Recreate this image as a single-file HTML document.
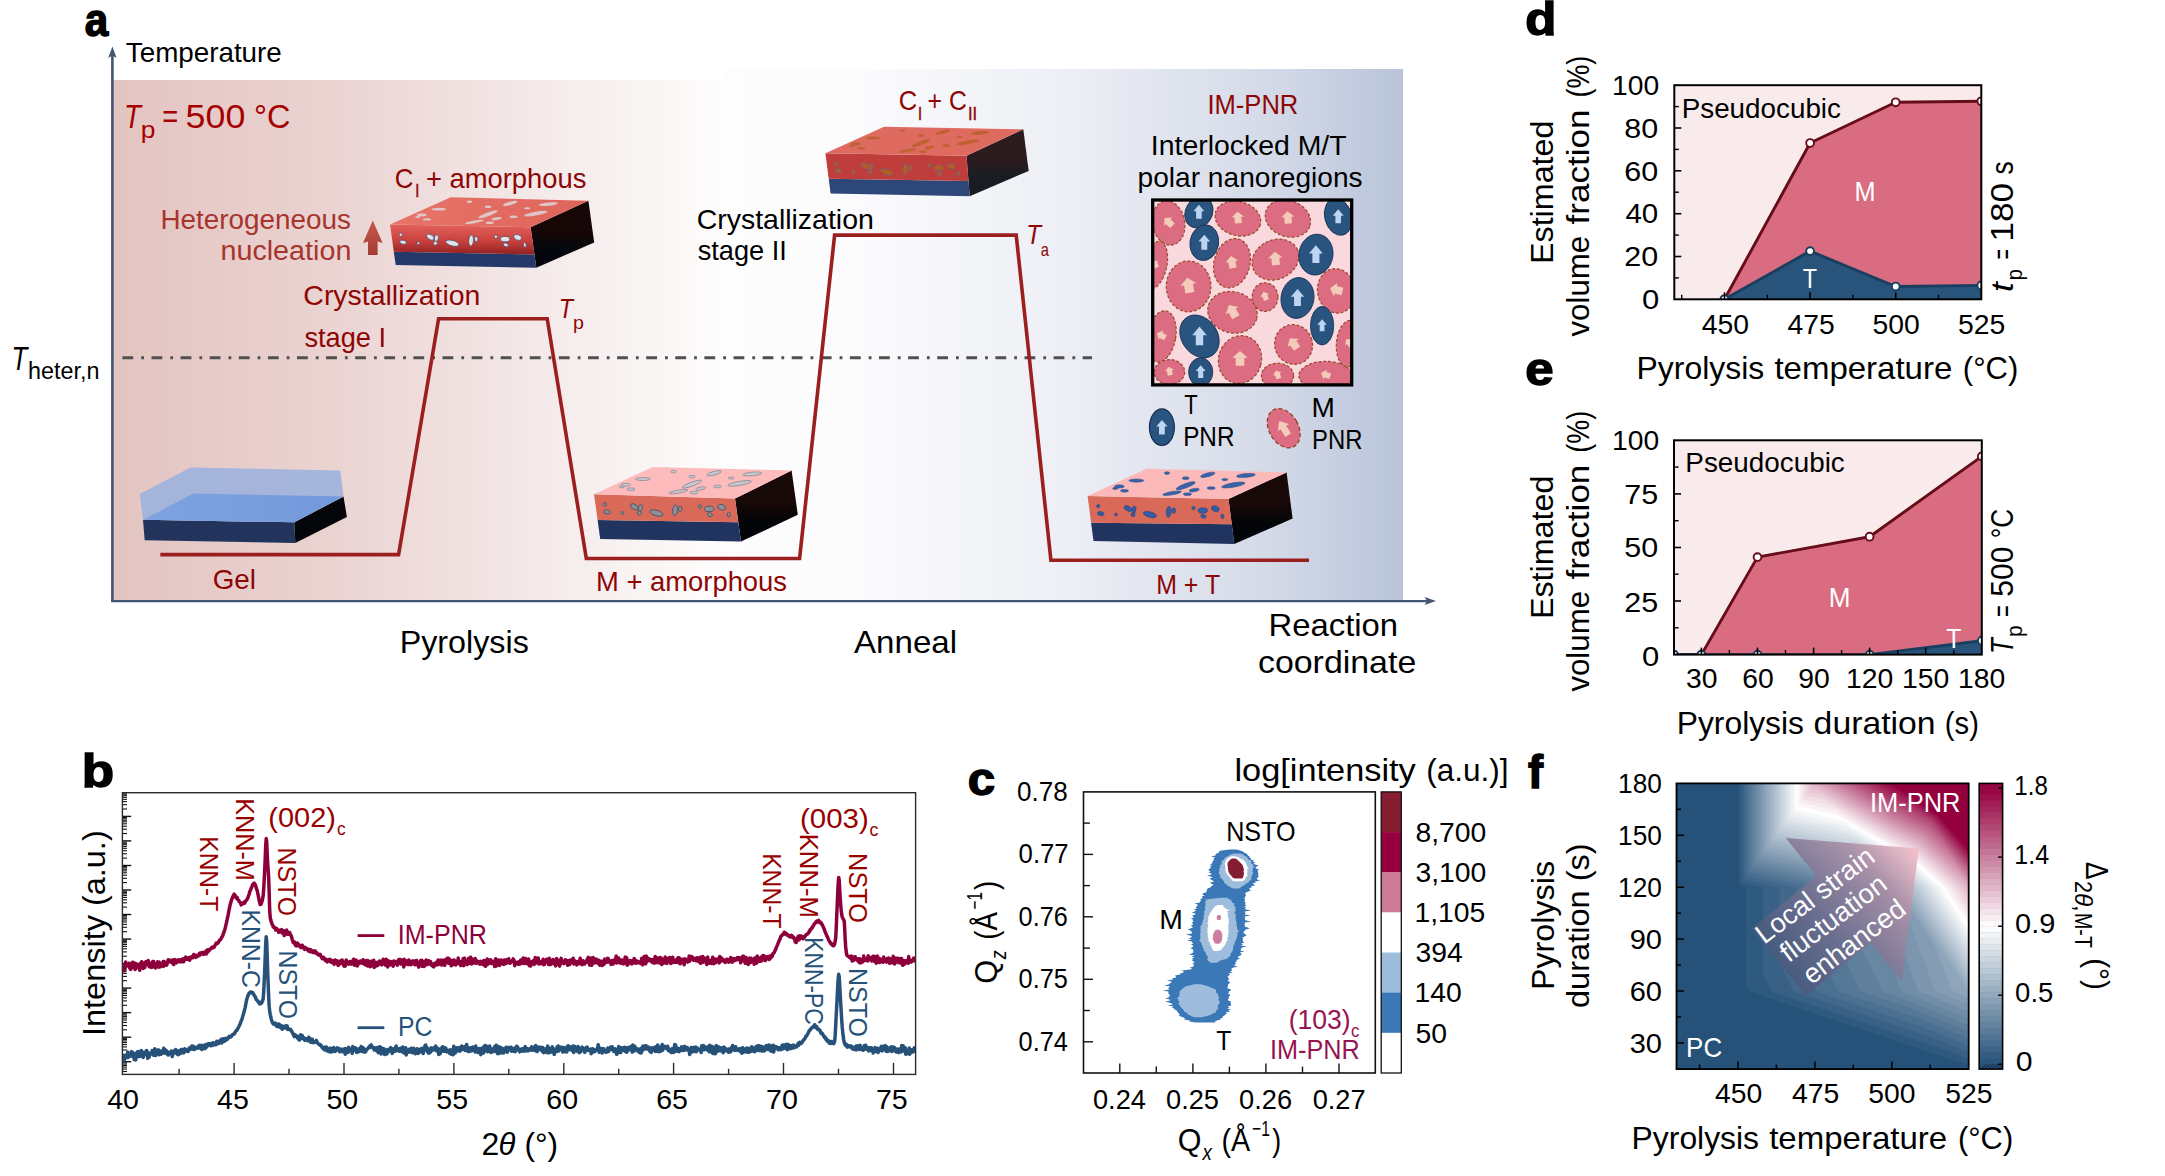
<!DOCTYPE html>
<html lang="en"><head><meta charset="utf-8"><title>Figure</title>
<style>html,body{margin:0;padding:0;background:#fff}svg{display:block}text{font-family:'Liberation Sans', sans-serif}</style></head>
<body>
<svg width="2165" height="1176" viewBox="0 0 2165 1176">
<defs>
<linearGradient id="bgL" x1="0" x2="1" y1="0" y2="0"><stop offset="0" stop-color="#e3c4c1"/><stop offset="0.35" stop-color="#ead3d1"/><stop offset="0.75" stop-color="#f6eded"/><stop offset="1" stop-color="#fefdfd"/></linearGradient>
<linearGradient id="bgR" x1="0" x2="1" y1="0" y2="0"><stop offset="0" stop-color="#fefdfd"/><stop offset="0.2" stop-color="#fbfbfd"/><stop offset="0.5" stop-color="#edeff5"/><stop offset="0.8" stop-color="#d4dae8"/><stop offset="1" stop-color="#b9c4da"/></linearGradient>
<linearGradient id="gelTop" x1="0" x2="1" y1="0" y2="1"><stop offset="0" stop-color="#a7b6da"/><stop offset="1" stop-color="#93aedd"/></linearGradient>
<linearGradient id="gelIn" x1="0" x2="1" y1="0" y2="0"><stop offset="0" stop-color="#7fa3e0"/><stop offset="1" stop-color="#7499dc"/></linearGradient>
<linearGradient id="f1" x1="0" x2="0" y1="0" y2="1"><stop offset="0" stop-color="#e2625a"/><stop offset="0.55" stop-color="#c9413d"/><stop offset="1" stop-color="#8f2222"/></linearGradient>
<linearGradient id="t1" x1="0" x2="1" y1="0" y2="0"><stop offset="0" stop-color="#e7746a"/><stop offset="0.5" stop-color="#e36c62"/><stop offset="1" stop-color="#de645a"/></linearGradient>
<linearGradient id="rfs1" x1="0" x2="0" y1="0" y2="1"><stop offset="0" stop-color="#160606"/><stop offset="0.45" stop-color="#160606"/><stop offset="0.7" stop-color="#05070c"/><stop offset="1" stop-color="#05070c"/></linearGradient>
<linearGradient id="rfs2" x1="0" x2="0" y1="0" y2="1"><stop offset="0" stop-color="#2c1b1f"/><stop offset="0.45" stop-color="#2c1b1f"/><stop offset="0.7" stop-color="#1a1c24"/><stop offset="1" stop-color="#1a1c24"/></linearGradient>
<linearGradient id="rfs3" x1="0" x2="0" y1="0" y2="1"><stop offset="0" stop-color="#180808"/><stop offset="0.45" stop-color="#180808"/><stop offset="0.7" stop-color="#040509"/><stop offset="1" stop-color="#040509"/></linearGradient>
<linearGradient id="rfs4" x1="0" x2="0" y1="0" y2="1"><stop offset="0" stop-color="#180808"/><stop offset="0.45" stop-color="#180808"/><stop offset="0.7" stop-color="#040509"/><stop offset="1" stop-color="#040509"/></linearGradient>
<linearGradient id="upA" x1="0" x2="0" y1="0" y2="1"><stop offset="0" stop-color="#c95a4a"/><stop offset="1" stop-color="#a33a34"/></linearGradient>
<clipPath id="pnrclip"><rect x="1153" y="200.2" width="198.4" height="184.6"/></clipPath>
<clipPath id="bclip"><rect x="122.4" y="792.7" width="793.2" height="281.70000000000005"/></clipPath>
<clipPath id="pdclip"><rect x="1674.3" y="85.2" width="307.0" height="214.10000000000002"/></clipPath>
<clipPath id="peclip"><rect x="1674.0" y="440.3" width="307.79999999999995" height="214.3"/></clipPath>
<clipPath id="fclip"><rect x="1676.5" y="783.4" width="292.20000000000005" height="285.69999999999993"/></clipPath>
<linearGradient id="farr" gradientUnits="userSpaceOnUse" x1="1765" y1="975" x2="1915" y2="850"><stop offset="0" stop-color="#3f5478" stop-opacity="0.85"/><stop offset="0.4" stop-color="#6d6d8e" stop-opacity="0.88"/><stop offset="0.75" stop-color="#a98da6" stop-opacity="0.9"/><stop offset="1" stop-color="#f0bcc8" stop-opacity="0.92"/></linearGradient>
<clipPath id="cbclip"><rect x="1979.2" y="783.4" width="23.399999999999864" height="285.69999999999993"/></clipPath>
</defs>
<rect x="113.0" y="80.0" width="615.0" height="521.5" fill="url(#bgL)"/>
<rect x="726.0" y="69.0" width="677.0" height="532.5" fill="url(#bgR)"/>
<line x1="112.4" y1="601.5" x2="112.4" y2="52.0" stroke="#435573" stroke-width="2.6"/>
<polygon points="112.4,46.5 116.6,58.0 112.4,55.5 108.2,58.0" fill="#435573"/>
<line x1="111.1" y1="601.1" x2="1428.0" y2="601.1" stroke="#435573" stroke-width="2.4"/>
<polygon points="1436.0,601.1 1424.5,605.1 1427.0,601.1 1424.5,597.1" fill="#435573"/>
<line x1="122.4" y1="357.7" x2="1092.0" y2="357.7" stroke="#505050" stroke-width="2.9" stroke-dasharray="10.8 8 2.8 7.5"/>
<polygon points="294.3,522.3 343.5,496.4 346.9,517.0 295.3,543.0" fill="#05060a"/>
<polygon points="143.0,519.7 294.3,522.3 295.3,543.0 144.7,540.3" fill="#22335c"/>
<polygon points="139.7,494.0 190.6,467.5 340.2,470.5 343.5,496.4 294.3,522.3 143.0,519.7" fill="#9fb2dc" opacity="0.92"/>
<polygon points="143.0,519.7 193.5,493.6 343.5,496.4 294.3,522.3" fill="url(#gelIn)"/>
<polygon points="530.6,227.2 588.4,200.7 594.2,242.4 536.3,267.7" fill="url(#rfs1)"/>
<polygon points="393.8,251.7 534.4,254.4 536.3,267.7 395.7,265.0" fill="#24386a"/>
<polygon points="390.0,224.5 530.6,227.2 534.4,254.4 393.8,251.7" fill="url(#f1)"/>
<polygon points="390.0,224.5 450.7,197.3 588.4,200.7 530.6,227.2" fill="url(#t1)"/>
<ellipse cx="421.8" cy="215.0" rx="4.8" ry="1.4" fill="#ddd6d8" opacity="0.85"/>
<ellipse cx="438.8" cy="209.2" rx="7.5" ry="1.4" fill="#ddd6d8" opacity="0.85"/>
<ellipse cx="469.4" cy="201.7" rx="2.7" ry="1.2" fill="#ddd6d8" opacity="0.85"/>
<ellipse cx="488.1" cy="206.8" rx="3.4" ry="1.2" fill="#ddd6d8" opacity="0.85"/>
<ellipse cx="510.2" cy="203.4" rx="7.5" ry="1.7" fill="#ddd6d8" transform="rotate(-15 510.2 203.4)" opacity="0.85"/>
<ellipse cx="488.1" cy="214.3" rx="10.2" ry="1.9" fill="#ddd6d8" transform="rotate(-20 488.1 214.3)" opacity="0.85"/>
<ellipse cx="496.6" cy="218.7" rx="5.1" ry="1.4" fill="#ddd6d8" transform="rotate(-10 496.6 218.7)" opacity="0.85"/>
<ellipse cx="474.5" cy="221.8" rx="9.5" ry="1.4" fill="#ddd6d8" transform="rotate(-10 474.5 221.8)" opacity="0.85"/>
<ellipse cx="489.8" cy="222.8" rx="4.1" ry="1.2" fill="#ddd6d8" opacity="0.85"/>
<ellipse cx="513.6" cy="216.7" rx="4.1" ry="1.2" fill="#ddd6d8" opacity="0.85"/>
<ellipse cx="535.7" cy="213.6" rx="11.9" ry="1.9" fill="#ddd6d8" transform="rotate(-10 535.7 213.6)" opacity="0.85"/>
<ellipse cx="548.3" cy="204.1" rx="9.5" ry="1.7" fill="#ddd6d8" transform="rotate(-5 548.3 204.1)" opacity="0.85"/>
<ellipse cx="426.9" cy="219.4" rx="4.1" ry="1.2" fill="#ddd6d8" opacity="0.85"/>
<ellipse cx="417.7" cy="217.0" rx="2.7" ry="1.0" fill="#ddd6d8" opacity="0.85"/>
<ellipse cx="527.2" cy="208.2" rx="3.1" ry="1.0" fill="#ddd6d8" opacity="0.85"/>
<ellipse cx="400.7" cy="234.7" rx="1.7" ry="1.7" fill="#e4e1e4" stroke="#3d4d74" stroke-width="0.7"/>
<ellipse cx="403.1" cy="242.2" rx="3.4" ry="2.0" fill="#e4e1e4" transform="rotate(10 403.1 242.2)" stroke="#3d4d74" stroke-width="0.7"/>
<ellipse cx="418.4" cy="243.2" rx="1.4" ry="1.4" fill="#e4e1e4" stroke="#3d4d74" stroke-width="0.7"/>
<ellipse cx="430.3" cy="237.1" rx="4.1" ry="2.4" fill="#e4e1e4" transform="rotate(30 430.3 237.1)" stroke="#3d4d74" stroke-width="0.7"/>
<ellipse cx="436.4" cy="238.1" rx="2.0" ry="3.4" fill="#e4e1e4" transform="rotate(10 436.4 238.1)" stroke="#3d4d74" stroke-width="0.7"/>
<ellipse cx="435.4" cy="243.2" rx="2.0" ry="2.0" fill="#e4e1e4" stroke="#3d4d74" stroke-width="0.7"/>
<ellipse cx="452.4" cy="243.2" rx="6.8" ry="2.7" fill="#e4e1e4" transform="rotate(15 452.4 243.2)" stroke="#3d4d74" stroke-width="0.7"/>
<ellipse cx="471.1" cy="240.5" rx="2.4" ry="5.4" fill="#e4e1e4" transform="rotate(5 471.1 240.5)" stroke="#3d4d74" stroke-width="0.7"/>
<ellipse cx="476.2" cy="239.1" rx="1.7" ry="2.7" fill="#e4e1e4" stroke="#3d4d74" stroke-width="0.7"/>
<ellipse cx="495.9" cy="236.7" rx="1.7" ry="1.7" fill="#e4e1e4" stroke="#3d4d74" stroke-width="0.7"/>
<ellipse cx="505.1" cy="239.1" rx="4.8" ry="2.7" fill="#e4e1e4" stroke="#3d4d74" stroke-width="0.7"/>
<ellipse cx="505.8" cy="244.9" rx="2.7" ry="1.7" fill="#e4e1e4" transform="rotate(20 505.8 244.9)" stroke="#3d4d74" stroke-width="0.7"/>
<ellipse cx="517.7" cy="237.4" rx="4.1" ry="2.7" fill="#e4e1e4" transform="rotate(20 517.7 237.4)" stroke="#3d4d74" stroke-width="0.7"/>
<ellipse cx="524.8" cy="244.9" rx="1.4" ry="2.4" fill="#e4e1e4" transform="rotate(-10 524.8 244.9)" stroke="#3d4d74" stroke-width="0.7"/>
<polygon points="966.5,155.8 1023.3,129.3 1028.7,170.9 969.7,196.2" fill="url(#rfs2)"/>
<polygon points="828.7,178.8 968.5,181.0 969.7,196.2 830.6,193.5" fill="#2d4778"/>
<polygon points="825.4,153.3 966.5,155.8 968.5,181.0 828.7,178.8" fill="#bf3e3c"/>
<polygon points="825.4,153.3 884.0,126.7 1023.3,129.3 966.5,155.8" fill="#de6a60"/>
<ellipse cx="856.0" cy="143.8" rx="4.8" ry="1.5" fill="#b9602a" opacity="0.85"/>
<ellipse cx="872.7" cy="138.0" rx="7.5" ry="1.5" fill="#b9602a" opacity="0.85"/>
<ellipse cx="902.7" cy="130.5" rx="2.7" ry="1.3" fill="#b9602a" opacity="0.85"/>
<ellipse cx="921.0" cy="135.6" rx="3.4" ry="1.3" fill="#b9602a" opacity="0.85"/>
<ellipse cx="942.7" cy="132.2" rx="7.5" ry="1.8" fill="#b9602a" transform="rotate(-15 942.7 132.2)" opacity="0.85"/>
<ellipse cx="921.0" cy="143.1" rx="10.2" ry="2.0" fill="#b9602a" transform="rotate(-20 921.0 143.1)" opacity="0.85"/>
<ellipse cx="929.4" cy="147.5" rx="5.1" ry="1.5" fill="#b9602a" transform="rotate(-10 929.4 147.5)" opacity="0.85"/>
<ellipse cx="907.7" cy="150.6" rx="9.5" ry="1.5" fill="#b9602a" transform="rotate(-10 907.7 150.6)" opacity="0.85"/>
<ellipse cx="922.7" cy="151.6" rx="4.1" ry="1.3" fill="#b9602a" opacity="0.85"/>
<ellipse cx="946.0" cy="145.5" rx="4.1" ry="1.3" fill="#b9602a" opacity="0.85"/>
<ellipse cx="967.7" cy="142.4" rx="11.9" ry="2.0" fill="#b9602a" transform="rotate(-10 967.7 142.4)" opacity="0.85"/>
<ellipse cx="980.0" cy="132.9" rx="9.5" ry="1.8" fill="#b9602a" transform="rotate(-5 980.0 132.9)" opacity="0.85"/>
<ellipse cx="861.0" cy="148.2" rx="4.1" ry="1.3" fill="#b9602a" opacity="0.85"/>
<ellipse cx="852.0" cy="145.8" rx="2.7" ry="1.0" fill="#b9602a" opacity="0.85"/>
<ellipse cx="959.4" cy="137.0" rx="3.1" ry="1.0" fill="#b9602a" opacity="0.85"/>
<ellipse cx="835.9" cy="163.5" rx="1.7" ry="1.7" fill="#bd5a1c" stroke="#6a6480" stroke-width="0.8"/>
<ellipse cx="838.3" cy="171.0" rx="3.4" ry="2.0" fill="#bd5a1c" transform="rotate(10 838.3 171.0)" stroke="#6a6480" stroke-width="0.8"/>
<ellipse cx="853.3" cy="172.0" rx="1.4" ry="1.4" fill="#bd5a1c" stroke="#6a6480" stroke-width="0.8"/>
<ellipse cx="865.1" cy="165.9" rx="4.1" ry="2.4" fill="#bd5a1c" transform="rotate(30 865.1 165.9)" stroke="#6a6480" stroke-width="0.8"/>
<ellipse cx="871.1" cy="166.9" rx="2.0" ry="3.4" fill="#bd5a1c" transform="rotate(10 871.1 166.9)" stroke="#6a6480" stroke-width="0.8"/>
<ellipse cx="870.1" cy="172.0" rx="2.0" ry="2.0" fill="#bd5a1c" stroke="#6a6480" stroke-width="0.8"/>
<ellipse cx="886.8" cy="172.0" rx="6.8" ry="2.7" fill="#bd5a1c" transform="rotate(15 886.8 172.0)" stroke="#6a6480" stroke-width="0.8"/>
<ellipse cx="905.3" cy="169.3" rx="2.4" ry="5.4" fill="#bd5a1c" transform="rotate(5 905.3 169.3)" stroke="#6a6480" stroke-width="0.8"/>
<ellipse cx="910.3" cy="167.9" rx="1.7" ry="2.7" fill="#bd5a1c" stroke="#6a6480" stroke-width="0.8"/>
<ellipse cx="929.7" cy="165.5" rx="1.7" ry="1.7" fill="#bd5a1c" stroke="#6a6480" stroke-width="0.8"/>
<ellipse cx="938.8" cy="167.9" rx="4.8" ry="2.7" fill="#bd5a1c" stroke="#6a6480" stroke-width="0.8"/>
<ellipse cx="939.4" cy="173.7" rx="2.7" ry="1.7" fill="#bd5a1c" transform="rotate(20 939.4 173.7)" stroke="#6a6480" stroke-width="0.8"/>
<ellipse cx="951.2" cy="166.2" rx="4.1" ry="2.7" fill="#bd5a1c" transform="rotate(20 951.2 166.2)" stroke="#6a6480" stroke-width="0.8"/>
<ellipse cx="958.2" cy="173.7" rx="1.4" ry="2.4" fill="#bd5a1c" transform="rotate(-10 958.2 173.7)" stroke="#6a6480" stroke-width="0.8"/>
<polygon points="735.0,498.6 791.6,470.5 797.8,514.7 741.0,541.6" fill="url(#rfs3)"/>
<polygon points="597.6,520.0 738.3,522.2 741.0,541.6 600.2,538.9" fill="#21335f"/>
<polygon points="594.0,494.3 735.0,498.6 738.3,522.2 597.6,520.0" fill="#d96a59"/>
<polygon points="594.0,494.3 652.6,467.1 791.6,470.5 735.0,498.6" fill="#fdbbbb"/>
<ellipse cx="625.8" cy="484.8" rx="4.8" ry="1.5" fill="#c9c6cb" stroke="#7f8494" stroke-width="0.7"/>
<ellipse cx="642.8" cy="479.0" rx="7.5" ry="1.5" fill="#c9c6cb" stroke="#7f8494" stroke-width="0.7"/>
<ellipse cx="673.4" cy="471.5" rx="2.7" ry="1.3" fill="#c9c6cb" stroke="#7f8494" stroke-width="0.7"/>
<ellipse cx="692.1" cy="476.6" rx="3.4" ry="1.3" fill="#c9c6cb" stroke="#7f8494" stroke-width="0.7"/>
<ellipse cx="714.2" cy="473.2" rx="7.5" ry="1.8" fill="#c9c6cb" transform="rotate(-15 714.2 473.2)" stroke="#7f8494" stroke-width="0.7"/>
<ellipse cx="692.1" cy="484.1" rx="10.2" ry="2.0" fill="#c9c6cb" transform="rotate(-20 692.1 484.1)" stroke="#7f8494" stroke-width="0.7"/>
<ellipse cx="700.6" cy="488.5" rx="5.1" ry="1.5" fill="#c9c6cb" transform="rotate(-10 700.6 488.5)" stroke="#7f8494" stroke-width="0.7"/>
<ellipse cx="678.5" cy="491.6" rx="9.5" ry="1.5" fill="#c9c6cb" transform="rotate(-10 678.5 491.6)" stroke="#7f8494" stroke-width="0.7"/>
<ellipse cx="693.8" cy="492.6" rx="4.1" ry="1.3" fill="#c9c6cb" stroke="#7f8494" stroke-width="0.7"/>
<ellipse cx="717.6" cy="486.5" rx="4.1" ry="1.3" fill="#c9c6cb" stroke="#7f8494" stroke-width="0.7"/>
<ellipse cx="739.7" cy="483.4" rx="11.9" ry="2.0" fill="#c9c6cb" transform="rotate(-10 739.7 483.4)" stroke="#7f8494" stroke-width="0.7"/>
<ellipse cx="752.3" cy="473.9" rx="9.5" ry="1.8" fill="#c9c6cb" transform="rotate(-5 752.3 473.9)" stroke="#7f8494" stroke-width="0.7"/>
<ellipse cx="630.9" cy="489.2" rx="4.1" ry="1.3" fill="#c9c6cb" stroke="#7f8494" stroke-width="0.7"/>
<ellipse cx="621.7" cy="486.8" rx="2.7" ry="1.0" fill="#c9c6cb" stroke="#7f8494" stroke-width="0.7"/>
<ellipse cx="731.2" cy="478.0" rx="3.1" ry="1.0" fill="#c9c6cb" stroke="#7f8494" stroke-width="0.7"/>
<ellipse cx="604.7" cy="504.5" rx="1.7" ry="1.7" fill="#8f9096" stroke="#4a5468" stroke-width="0.9"/>
<ellipse cx="607.1" cy="512.0" rx="3.4" ry="2.0" fill="#8f9096" transform="rotate(10 607.1 512.0)" stroke="#4a5468" stroke-width="0.9"/>
<ellipse cx="622.4" cy="513.0" rx="1.4" ry="1.4" fill="#8f9096" stroke="#4a5468" stroke-width="0.9"/>
<ellipse cx="634.3" cy="506.9" rx="4.1" ry="2.4" fill="#8f9096" transform="rotate(30 634.3 506.9)" stroke="#4a5468" stroke-width="0.9"/>
<ellipse cx="640.4" cy="507.9" rx="2.0" ry="3.4" fill="#8f9096" transform="rotate(10 640.4 507.9)" stroke="#4a5468" stroke-width="0.9"/>
<ellipse cx="639.4" cy="513.0" rx="2.0" ry="2.0" fill="#8f9096" stroke="#4a5468" stroke-width="0.9"/>
<ellipse cx="656.4" cy="513.0" rx="6.8" ry="2.7" fill="#8f9096" transform="rotate(15 656.4 513.0)" stroke="#4a5468" stroke-width="0.9"/>
<ellipse cx="675.1" cy="510.3" rx="2.4" ry="5.4" fill="#8f9096" transform="rotate(5 675.1 510.3)" stroke="#4a5468" stroke-width="0.9"/>
<ellipse cx="680.2" cy="508.9" rx="1.7" ry="2.7" fill="#8f9096" stroke="#4a5468" stroke-width="0.9"/>
<ellipse cx="699.9" cy="506.5" rx="1.7" ry="1.7" fill="#8f9096" stroke="#4a5468" stroke-width="0.9"/>
<ellipse cx="709.1" cy="508.9" rx="4.8" ry="2.7" fill="#8f9096" stroke="#4a5468" stroke-width="0.9"/>
<ellipse cx="709.8" cy="514.7" rx="2.7" ry="1.7" fill="#8f9096" transform="rotate(20 709.8 514.7)" stroke="#4a5468" stroke-width="0.9"/>
<ellipse cx="721.7" cy="507.2" rx="4.1" ry="2.7" fill="#8f9096" transform="rotate(20 721.7 507.2)" stroke="#4a5468" stroke-width="0.9"/>
<ellipse cx="728.8" cy="514.7" rx="1.4" ry="2.4" fill="#8f9096" transform="rotate(-10 728.8 514.7)" stroke="#4a5468" stroke-width="0.9"/>
<polygon points="1228.5,498.9 1286.6,472.4 1292.6,518.6 1234.3,543.9" fill="url(#rfs4)"/>
<polygon points="1091.1,522.7 1231.8,524.3 1234.3,543.9 1093.5,541.1" fill="#21335f"/>
<polygon points="1087.6,495.9 1228.5,498.9 1231.8,524.3 1091.1,522.7" fill="#d96a59"/>
<polygon points="1087.6,495.9 1146.4,468.8 1286.6,472.4 1228.5,498.9" fill="#fcb9b9"/>
<ellipse cx="1119.4" cy="486.4" rx="4.8" ry="1.6" fill="#3a62a8" stroke="#2c4f90" stroke-width="0.5"/>
<ellipse cx="1136.4" cy="480.6" rx="7.5" ry="1.6" fill="#3a62a8" stroke="#2c4f90" stroke-width="0.5"/>
<ellipse cx="1167.0" cy="473.1" rx="2.7" ry="1.4" fill="#3a62a8" stroke="#2c4f90" stroke-width="0.5"/>
<ellipse cx="1185.7" cy="478.2" rx="3.4" ry="1.4" fill="#3a62a8" stroke="#2c4f90" stroke-width="0.5"/>
<ellipse cx="1207.8" cy="474.8" rx="7.5" ry="1.9" fill="#3a62a8" transform="rotate(-15 1207.8 474.8)" stroke="#2c4f90" stroke-width="0.5"/>
<ellipse cx="1185.7" cy="485.7" rx="10.2" ry="2.2" fill="#3a62a8" transform="rotate(-20 1185.7 485.7)" stroke="#2c4f90" stroke-width="0.5"/>
<ellipse cx="1194.2" cy="490.1" rx="5.1" ry="1.6" fill="#3a62a8" transform="rotate(-10 1194.2 490.1)" stroke="#2c4f90" stroke-width="0.5"/>
<ellipse cx="1172.1" cy="493.2" rx="9.5" ry="1.6" fill="#3a62a8" transform="rotate(-10 1172.1 493.2)" stroke="#2c4f90" stroke-width="0.5"/>
<ellipse cx="1187.4" cy="494.2" rx="4.1" ry="1.4" fill="#3a62a8" stroke="#2c4f90" stroke-width="0.5"/>
<ellipse cx="1211.2" cy="488.1" rx="4.1" ry="1.4" fill="#3a62a8" stroke="#2c4f90" stroke-width="0.5"/>
<ellipse cx="1233.3" cy="485.0" rx="11.9" ry="2.2" fill="#3a62a8" transform="rotate(-10 1233.3 485.0)" stroke="#2c4f90" stroke-width="0.5"/>
<ellipse cx="1245.9" cy="475.5" rx="9.5" ry="1.9" fill="#3a62a8" transform="rotate(-5 1245.9 475.5)" stroke="#2c4f90" stroke-width="0.5"/>
<ellipse cx="1124.5" cy="490.8" rx="4.1" ry="1.4" fill="#3a62a8" stroke="#2c4f90" stroke-width="0.5"/>
<ellipse cx="1115.3" cy="488.4" rx="2.7" ry="1.1" fill="#3a62a8" stroke="#2c4f90" stroke-width="0.5"/>
<ellipse cx="1224.8" cy="479.6" rx="3.1" ry="1.1" fill="#3a62a8" stroke="#2c4f90" stroke-width="0.5"/>
<ellipse cx="1098.3" cy="506.1" rx="1.7" ry="1.7" fill="#345ca4" stroke="#27457f" stroke-width="0.6"/>
<ellipse cx="1100.7" cy="513.6" rx="3.4" ry="2.0" fill="#345ca4" transform="rotate(10 1100.7 513.6)" stroke="#27457f" stroke-width="0.6"/>
<ellipse cx="1116.0" cy="514.6" rx="1.4" ry="1.4" fill="#345ca4" stroke="#27457f" stroke-width="0.6"/>
<ellipse cx="1127.9" cy="508.5" rx="4.1" ry="2.4" fill="#345ca4" transform="rotate(30 1127.9 508.5)" stroke="#27457f" stroke-width="0.6"/>
<ellipse cx="1134.0" cy="509.5" rx="2.0" ry="3.4" fill="#345ca4" transform="rotate(10 1134.0 509.5)" stroke="#27457f" stroke-width="0.6"/>
<ellipse cx="1133.0" cy="514.6" rx="2.0" ry="2.0" fill="#345ca4" stroke="#27457f" stroke-width="0.6"/>
<ellipse cx="1150.0" cy="514.6" rx="6.8" ry="2.7" fill="#345ca4" transform="rotate(15 1150.0 514.6)" stroke="#27457f" stroke-width="0.6"/>
<ellipse cx="1168.7" cy="511.9" rx="2.4" ry="5.4" fill="#345ca4" transform="rotate(5 1168.7 511.9)" stroke="#27457f" stroke-width="0.6"/>
<ellipse cx="1173.8" cy="510.5" rx="1.7" ry="2.7" fill="#345ca4" stroke="#27457f" stroke-width="0.6"/>
<ellipse cx="1193.5" cy="508.1" rx="1.7" ry="1.7" fill="#345ca4" stroke="#27457f" stroke-width="0.6"/>
<ellipse cx="1202.7" cy="510.5" rx="4.8" ry="2.7" fill="#345ca4" stroke="#27457f" stroke-width="0.6"/>
<ellipse cx="1203.4" cy="516.3" rx="2.7" ry="1.7" fill="#345ca4" transform="rotate(20 1203.4 516.3)" stroke="#27457f" stroke-width="0.6"/>
<ellipse cx="1215.3" cy="508.8" rx="4.1" ry="2.7" fill="#345ca4" transform="rotate(20 1215.3 508.8)" stroke="#27457f" stroke-width="0.6"/>
<ellipse cx="1222.4" cy="516.3" rx="1.4" ry="2.4" fill="#345ca4" transform="rotate(-10 1222.4 516.3)" stroke="#27457f" stroke-width="0.6"/>
<path d="M160.3,554.6 L398.6,554.6 L438.6,318.7 L547.2,318.7 L586.3,558.5 L799.6,558.5 L834.6,235.1 L1016.2,235.1 L1050.9,560.2 L1309,560.2" fill="none" stroke="#9c1f1f" stroke-width="3.6" stroke-linejoin="miter" stroke-miterlimit="10"/>
<polygon points="372.8,220.4 382.6,243.0 377.6,241.5 377.6,255.0 368.0,255.0 368.0,241.5 363.0,243.0" fill="url(#upA)"/>
<text font-size="45.5" font-weight="bold" textLength="23.48" lengthAdjust="spacingAndGlyphs" stroke="#000" stroke-width="1.4" x="84.67" y="36.30">a</text>
<text font-size="27.5" textLength="156.00" lengthAdjust="spacingAndGlyphs" x="125.80" y="61.70">Temperature</text>
<text font-size="33" fill="#a60000" font-style="italic" textLength="16.99" lengthAdjust="spacingAndGlyphs" x="124.11" y="128.20">T</text>
<text font-size="23" fill="#a60000" textLength="14.65" lengthAdjust="spacingAndGlyphs" x="140.65" y="138.00">p</text>
<text font-size="33" fill="#a60000" textLength="15.98" lengthAdjust="spacingAndGlyphs" x="162.27" y="128.20">=</text>
<text font-size="33" fill="#a60000" textLength="59.67" lengthAdjust="spacingAndGlyphs" x="185.62" y="128.20">500</text>
<text font-size="33" fill="#a60000" textLength="36.40" lengthAdjust="spacingAndGlyphs" x="254.12" y="128.20">°C</text>
<text font-size="27.5" fill="#8e0505" textLength="18.65" lengthAdjust="spacingAndGlyphs" x="394.66" y="187.80">C</text>
<text font-size="19" fill="#8e0505" textLength="4.05" lengthAdjust="spacingAndGlyphs" stroke="#8e0505" stroke-width="0.5" x="415.23" y="197.30">I</text>
<text font-size="27.5" fill="#8e0505" textLength="160.54" lengthAdjust="spacingAndGlyphs" x="425.90" y="187.80">+ amorphous</text>
<text font-size="27" fill="#a8342e" textLength="190.38" lengthAdjust="spacingAndGlyphs" x="160.44" y="229.40">Heterogeneous</text>
<text font-size="27" fill="#a8342e" textLength="130.94" lengthAdjust="spacingAndGlyphs" x="220.44" y="260.00">nucleation</text>
<text font-size="27.5" fill="#8e0505" textLength="176.97" lengthAdjust="spacingAndGlyphs" x="303.37" y="305.00">Crystallization</text>
<text font-size="27.5" fill="#8e0505" textLength="81.62" lengthAdjust="spacingAndGlyphs" x="304.40" y="347.00">stage I</text>
<text font-size="27.5" fill="#8e0505" font-style="italic" textLength="14.33" lengthAdjust="spacingAndGlyphs" x="558.79" y="318.00">T</text>
<text font-size="19" fill="#8e0505" textLength="10.92" lengthAdjust="spacingAndGlyphs" x="572.97" y="329.00">p</text>
<text font-size="33" font-style="italic" textLength="15.84" lengthAdjust="spacingAndGlyphs" x="11.43" y="370.30">T</text>
<text font-size="23" textLength="71.42" lengthAdjust="spacingAndGlyphs" x="27.98" y="378.60">heter,n</text>
<text font-size="27.5" fill="#8e0505" textLength="43.23" lengthAdjust="spacingAndGlyphs" x="212.69" y="588.80">Gel</text>
<text font-size="27.5" fill="#8e0505" textLength="191.04" lengthAdjust="spacingAndGlyphs" x="596.01" y="590.90">M + amorphous</text>
<text font-size="27.5" fill="#8e0505" textLength="63.92" lengthAdjust="spacingAndGlyphs" x="1156.20" y="594.00">M + T</text>
<text font-size="32" textLength="129.13" lengthAdjust="spacingAndGlyphs" x="399.68" y="652.70">Pyrolysis</text>
<text font-size="31.5" textLength="103.10" lengthAdjust="spacingAndGlyphs" x="854.00" y="652.90">Anneal</text>
<text font-size="32" textLength="129.70" lengthAdjust="spacingAndGlyphs" x="1268.45" y="635.80">Reaction</text>
<text font-size="32" textLength="158.30" lengthAdjust="spacingAndGlyphs" x="1257.94" y="672.80">coordinate</text>
<text font-size="27.5" textLength="177.17" lengthAdjust="spacingAndGlyphs" x="696.66" y="228.80">Crystallization</text>
<text font-size="27.5" textLength="89.12" lengthAdjust="spacingAndGlyphs" x="697.70" y="259.90">stage II</text>
<text font-size="27.5" fill="#8e0505" font-style="italic" textLength="14.82" lengthAdjust="spacingAndGlyphs" x="1026.24" y="244.00">T</text>
<text font-size="19" fill="#8e0505" textLength="8.17" lengthAdjust="spacingAndGlyphs" x="1040.80" y="255.50">a</text>
<text font-size="27.5" fill="#8e0505" textLength="18.43" lengthAdjust="spacingAndGlyphs" x="898.87" y="110.10">C</text>
<text font-size="19" fill="#8e0505" textLength="4.05" lengthAdjust="spacingAndGlyphs" stroke="#8e0505" stroke-width="0.5" x="918.03" y="119.60">I</text>
<text font-size="27.5" fill="#8e0505" textLength="39.17" lengthAdjust="spacingAndGlyphs" x="927.60" y="110.10">+ C</text>
<text font-size="19" fill="#8e0505" textLength="9.18" lengthAdjust="spacingAndGlyphs" stroke="#8e0505" stroke-width="0.4" x="967.93" y="119.60">II</text>
<text font-size="27.5" fill="#8e0505" textLength="90.86" lengthAdjust="spacingAndGlyphs" x="1207.44" y="114.30">IM-PNR</text>
<text font-size="27.5" textLength="195.76" lengthAdjust="spacingAndGlyphs" x="1150.83" y="154.60">Interlocked M/T</text>
<text font-size="27.5" textLength="224.99" lengthAdjust="spacingAndGlyphs" x="1137.58" y="186.80">polar nanoregions</text>
<text font-size="27.5" textLength="13.44" lengthAdjust="spacingAndGlyphs" x="1184.30" y="413.80">T</text>
<text font-size="27.5" textLength="51.33" lengthAdjust="spacingAndGlyphs" x="1183.13" y="445.80">PNR</text>
<text font-size="27.5" textLength="23.39" lengthAdjust="spacingAndGlyphs" x="1311.46" y="416.60">M</text>
<text font-size="27.5" textLength="50.38" lengthAdjust="spacingAndGlyphs" x="1312.06" y="448.80">PNR</text>
<rect x="1153.0" y="200.2" width="198.4" height="184.6" fill="#f9d9dd"/>
<g clip-path="url(#pnrclip)">
<ellipse cx="1168.6" cy="223.0" rx="16.1" ry="22.3" fill="#dc6c82" transform="rotate(-10 1168.6 223.0)" stroke="#9c4a2c" stroke-width="1.25" stroke-dasharray="3 1.8"/>
<path d="M0.00,-5.62 L5.91,-0.56 L3.26,-0.56 L3.26,5.34 L-3.26,5.34 L-3.26,-0.56 L-5.91,-0.56Z" fill="#f4cbb8" transform="translate(1168.6 222.0) rotate(-45)"/>
<ellipse cx="1237.9" cy="218.6" rx="23.2" ry="17.0" fill="#dc6c82" transform="rotate(15 1237.9 218.6)" stroke="#9c4a2c" stroke-width="1.25" stroke-dasharray="3 1.8"/>
<path d="M0.00,-5.94 L6.23,-0.59 L3.44,-0.59 L3.44,5.64 L-3.44,5.64 L-3.44,-0.59 L-6.23,-0.59Z" fill="#f4cbb8" transform="translate(1237.9 217.6) rotate(-5)"/>
<ellipse cx="1287.9" cy="218.6" rx="23.2" ry="17.9" fill="#dc6c82" transform="rotate(20 1287.9 218.6)" stroke="#9c4a2c" stroke-width="1.25" stroke-dasharray="3 1.8"/>
<path d="M0.00,-6.25 L6.56,-0.62 L3.62,-0.62 L3.62,5.94 L-3.62,5.94 L-3.62,-0.62 L-6.56,-0.62Z" fill="#f4cbb8" transform="translate(1287.9 217.6) rotate(-5)"/>
<ellipse cx="1232.0" cy="263.2" rx="17.9" ry="25.0" fill="#dc6c82" transform="rotate(15 1232.0 263.2)" stroke="#9c4a2c" stroke-width="1.25" stroke-dasharray="3 1.8"/>
<path d="M0.00,-6.25 L6.56,-0.62 L3.62,-0.62 L3.62,5.94 L-3.62,5.94 L-3.62,-0.62 L-6.56,-0.62Z" fill="#f4cbb8" transform="translate(1232.0 262.2) rotate(-10)"/>
<ellipse cx="1275.4" cy="259.6" rx="24.1" ry="19.6" fill="#dc6c82" transform="rotate(-25 1275.4 259.6)" stroke="#9c4a2c" stroke-width="1.25" stroke-dasharray="3 1.8"/>
<path d="M0.00,-6.87 L7.22,-0.69 L3.99,-0.69 L3.99,6.53 L-3.99,6.53 L-3.99,-0.69 L-7.22,-0.69Z" fill="#f4cbb8" transform="translate(1275.4 258.6) rotate(-5)"/>
<ellipse cx="1188.6" cy="286.4" rx="22.3" ry="25.4" fill="#dc6c82" stroke="#9c4a2c" stroke-width="1.25" stroke-dasharray="3 1.8"/>
<path d="M0.00,-7.81 L8.20,-0.78 L4.53,-0.78 L4.53,7.42 L-4.53,7.42 L-4.53,-0.78 L-8.20,-0.78Z" fill="#f4cbb8" transform="translate(1188.6 285.4) rotate(-10)"/>
<ellipse cx="1265.0" cy="297.1" rx="12.9" ry="14.3" fill="#dc6c82" stroke="#9c4a2c" stroke-width="1.25" stroke-dasharray="3 1.8"/>
<path d="M0.00,-4.50 L4.73,-0.45 L2.61,-0.45 L2.61,4.27 L-2.61,4.27 L-2.61,-0.45 L-4.73,-0.45Z" fill="#f4cbb8" transform="translate(1265.0 296.1) rotate(-20)"/>
<ellipse cx="1232.5" cy="312.3" rx="25.0" ry="20.5" fill="#dc6c82" transform="rotate(15 1232.5 312.3)" stroke="#9c4a2c" stroke-width="1.25" stroke-dasharray="3 1.8"/>
<path d="M0.00,-7.19 L7.55,-0.72 L4.17,-0.72 L4.17,6.83 L-4.17,6.83 L-4.17,-0.72 L-7.55,-0.72Z" fill="#f4cbb8" transform="translate(1232.5 311.3) rotate(-30)"/>
<ellipse cx="1336.4" cy="290.9" rx="18.8" ry="22.3" fill="#dc6c82" transform="rotate(-10 1336.4 290.9)" stroke="#9c4a2c" stroke-width="1.25" stroke-dasharray="3 1.8"/>
<path d="M0.00,-6.56 L6.89,-0.66 L3.81,-0.66 L3.81,6.23 L-3.81,6.23 L-3.81,-0.66 L-6.89,-0.66Z" fill="#f4cbb8" transform="translate(1336.4 289.9) rotate(-75)"/>
<ellipse cx="1155.2" cy="265.0" rx="11.6" ry="24.1" fill="#dc6c82" transform="rotate(12 1155.2 265.0)" stroke="#9c4a2c" stroke-width="1.25" stroke-dasharray="3 1.8"/>
<path d="M0.00,-4.06 L4.27,-0.41 L2.36,-0.41 L2.36,3.86 L-2.36,3.86 L-2.36,-0.41 L-4.27,-0.41Z" fill="#f4cbb8" transform="translate(1155.2 264.0) rotate(-30)"/>
<ellipse cx="1161.4" cy="336.4" rx="14.3" ry="25.9" fill="#dc6c82" transform="rotate(10 1161.4 336.4)" stroke="#9c4a2c" stroke-width="1.25" stroke-dasharray="3 1.8"/>
<path d="M0.00,-5.00 L5.25,-0.50 L2.90,-0.50 L2.90,4.75 L-2.90,4.75 L-2.90,-0.50 L-5.25,-0.50Z" fill="#f4cbb8" transform="translate(1161.4 335.4) rotate(-60)"/>
<ellipse cx="1293.6" cy="344.5" rx="18.8" ry="20.0" fill="#dc6c82" transform="rotate(-20 1293.6 344.5)" stroke="#9c4a2c" stroke-width="1.25" stroke-dasharray="3 1.8"/>
<path d="M0.00,-6.56 L6.89,-0.66 L3.81,-0.66 L3.81,6.23 L-3.81,6.23 L-3.81,-0.66 L-6.89,-0.66Z" fill="#f4cbb8" transform="translate(1293.6 343.5) rotate(-35)"/>
<ellipse cx="1240.0" cy="359.6" rx="21.4" ry="24.1" fill="#dc6c82" transform="rotate(15 1240.0 359.6)" stroke="#9c4a2c" stroke-width="1.25" stroke-dasharray="3 1.8"/>
<path d="M0.00,-7.50 L7.88,-0.75 L4.35,-0.75 L4.35,7.12 L-4.35,7.12 L-4.35,-0.75 L-7.88,-0.75Z" fill="#f4cbb8" transform="translate(1240.0 358.6) rotate(0)"/>
<ellipse cx="1169.5" cy="372.1" rx="15.2" ry="12.5" fill="#dc6c82" stroke="#9c4a2c" stroke-width="1.25" stroke-dasharray="3 1.8"/>
<path d="M0.00,-4.38 L4.59,-0.44 L2.54,-0.44 L2.54,4.16 L-2.54,4.16 L-2.54,-0.44 L-4.59,-0.44Z" fill="#f4cbb8" transform="translate(1169.5 371.1) rotate(-10)"/>
<ellipse cx="1277.5" cy="375.7" rx="16.1" ry="12.5" fill="#dc6c82" stroke="#9c4a2c" stroke-width="1.25" stroke-dasharray="3 1.8"/>
<path d="M0.00,-4.38 L4.59,-0.44 L2.54,-0.44 L2.54,4.16 L-2.54,4.16 L-2.54,-0.44 L-4.59,-0.44Z" fill="#f4cbb8" transform="translate(1277.5 374.7) rotate(-20)"/>
<ellipse cx="1325.7" cy="375.7" rx="26.8" ry="14.3" fill="#dc6c82" stroke="#9c4a2c" stroke-width="1.25" stroke-dasharray="3 1.8"/>
<path d="M0.00,-5.00 L5.25,-0.50 L2.90,-0.50 L2.90,4.75 L-2.90,4.75 L-2.90,-0.50 L-5.25,-0.50Z" fill="#f4cbb8" transform="translate(1325.7 374.7) rotate(-70)"/>
<ellipse cx="1348.9" cy="343.6" rx="12.5" ry="23.2" fill="#dc6c82" transform="rotate(5 1348.9 343.6)" stroke="#9c4a2c" stroke-width="1.25" stroke-dasharray="3 1.8"/>
<path d="M0.00,-4.38 L4.59,-0.44 L2.54,-0.44 L2.54,4.16 L-2.54,4.16 L-2.54,-0.44 L-4.59,-0.44Z" fill="#f4cbb8" transform="translate(1348.9 342.6) rotate(-40)"/>
<ellipse cx="1198.9" cy="212.3" rx="13.4" ry="16.1" fill="#28547f" transform="rotate(30 1198.9 212.3)" stroke="#1a3557" stroke-width="0.9"/>
<path d="M0.00,-6.96 L5.43,-0.56 L2.79,-0.56 L2.79,6.96 L-2.79,6.96 L-2.79,-0.56 L-5.43,-0.56Z" fill="#bdd4f2" transform="translate(1198.9 211.8) rotate(0)"/>
<ellipse cx="1204.3" cy="242.7" rx="14.3" ry="17.9" fill="#28547f" transform="rotate(10 1204.3 242.7)" stroke="#1a3557" stroke-width="0.9"/>
<path d="M0.00,-7.43 L5.79,-0.59 L2.97,-0.59 L2.97,7.43 L-2.97,7.43 L-2.97,-0.59 L-5.79,-0.59Z" fill="#bdd4f2" transform="translate(1204.3 242.2) rotate(0)"/>
<ellipse cx="1338.2" cy="216.8" rx="13.4" ry="18.8" fill="#28547f" transform="rotate(-15 1338.2 216.8)" stroke="#1a3557" stroke-width="0.9"/>
<path d="M0.00,-6.96 L5.43,-0.56 L2.79,-0.56 L2.79,6.96 L-2.79,6.96 L-2.79,-0.56 L-5.43,-0.56Z" fill="#bdd4f2" transform="translate(1338.2 216.3) rotate(0)"/>
<ellipse cx="1315.9" cy="254.6" rx="17.0" ry="20.5" fill="#28547f" transform="rotate(10 1315.9 254.6)" stroke="#1a3557" stroke-width="0.9"/>
<path d="M0.00,-8.82 L6.88,-0.71 L3.53,-0.71 L3.53,8.82 L-3.53,8.82 L-3.53,-0.71 L-6.88,-0.71Z" fill="#bdd4f2" transform="translate(1315.9 254.1) rotate(0)"/>
<ellipse cx="1297.5" cy="298.0" rx="16.4" ry="20.5" fill="#28547f" transform="rotate(10 1297.5 298.0)" stroke="#1a3557" stroke-width="0.9"/>
<path d="M0.00,-8.54 L6.66,-0.68 L3.42,-0.68 L3.42,8.54 L-3.42,8.54 L-3.42,-0.68 L-6.66,-0.68Z" fill="#bdd4f2" transform="translate(1297.5 297.5) rotate(0)"/>
<ellipse cx="1322.1" cy="325.7" rx="11.6" ry="19.3" fill="#28547f" stroke="#1a3557" stroke-width="0.9"/>
<path d="M0.00,-6.04 L4.71,-0.48 L2.41,-0.48 L2.41,6.04 L-2.41,6.04 L-2.41,-0.48 L-4.71,-0.48Z" fill="#bdd4f2" transform="translate(1322.1 325.2) rotate(0)"/>
<ellipse cx="1199.5" cy="336.4" rx="17.9" ry="22.9" fill="#28547f" transform="rotate(-35 1199.5 336.4)" stroke="#1a3557" stroke-width="0.9"/>
<path d="M0.00,-9.29 L7.24,-0.74 L3.71,-0.74 L3.71,9.29 L-3.71,9.29 L-3.71,-0.74 L-7.24,-0.74Z" fill="#bdd4f2" transform="translate(1199.5 335.9) rotate(0)"/>
<ellipse cx="1200.7" cy="372.1" rx="12.1" ry="14.3" fill="#28547f" stroke="#1a3557" stroke-width="0.9"/>
<path d="M0.00,-6.31 L4.93,-0.51 L2.53,-0.51 L2.53,6.31 L-2.53,6.31 L-2.53,-0.51 L-4.93,-0.51Z" fill="#bdd4f2" transform="translate(1200.7 371.6) rotate(0)"/>
</g>
<rect x="1152.7" y="200.0" width="199.0" height="184.9" fill="none" stroke="#000" stroke-width="3.3"/>
<ellipse cx="1161.9" cy="427.2" rx="12.5" ry="18.3" fill="#28547f" stroke="#15294b" stroke-width="1.1"/>
<path d="M0.00,-7.20 L5.62,-0.58 L2.88,-0.58 L2.88,7.20 L-2.88,7.20 L-2.88,-0.58 L-5.62,-0.58Z" fill="#bdd4f2" transform="translate(1161.9 427.2) rotate(0)"/>
<ellipse cx="1283.7" cy="428.2" rx="14.6" ry="21.0" fill="#dc6c82" transform="rotate(-30 1283.7 428.2)" stroke="#8a4016" stroke-width="1.2" stroke-dasharray="4 2.4"/>
<path d="M0.00,-8.40 L6.55,-0.67 L3.36,-0.67 L3.36,8.40 L-3.36,8.40 L-3.36,-0.67 L-6.55,-0.67Z" fill="#f4cbb8" transform="translate(1283.7 428.0) rotate(-32)"/>
<line x1="179.1" y1="1074.4" x2="179.1" y2="1068.8" stroke="#2b2b2b" stroke-width="1.4"/>
<line x1="234.1" y1="1074.4" x2="234.1" y2="1062.9" stroke="#2b2b2b" stroke-width="1.4"/>
<line x1="289.0" y1="1074.4" x2="289.0" y2="1068.8" stroke="#2b2b2b" stroke-width="1.4"/>
<line x1="344.0" y1="1074.4" x2="344.0" y2="1062.9" stroke="#2b2b2b" stroke-width="1.4"/>
<line x1="398.9" y1="1074.4" x2="398.9" y2="1068.8" stroke="#2b2b2b" stroke-width="1.4"/>
<line x1="453.9" y1="1074.4" x2="453.9" y2="1062.9" stroke="#2b2b2b" stroke-width="1.4"/>
<line x1="508.8" y1="1074.4" x2="508.8" y2="1068.8" stroke="#2b2b2b" stroke-width="1.4"/>
<line x1="563.8" y1="1074.4" x2="563.8" y2="1062.9" stroke="#2b2b2b" stroke-width="1.4"/>
<line x1="618.7" y1="1074.4" x2="618.7" y2="1068.8" stroke="#2b2b2b" stroke-width="1.4"/>
<line x1="673.6" y1="1074.4" x2="673.6" y2="1062.9" stroke="#2b2b2b" stroke-width="1.4"/>
<line x1="728.6" y1="1074.4" x2="728.6" y2="1068.8" stroke="#2b2b2b" stroke-width="1.4"/>
<line x1="783.5" y1="1074.4" x2="783.5" y2="1062.9" stroke="#2b2b2b" stroke-width="1.4"/>
<line x1="838.5" y1="1074.4" x2="838.5" y2="1068.8" stroke="#2b2b2b" stroke-width="1.4"/>
<line x1="893.5" y1="1074.4" x2="893.5" y2="1062.9" stroke="#2b2b2b" stroke-width="1.4"/>
<line x1="122.4" y1="1071.5" x2="127.0" y2="1071.5" stroke="#111" stroke-width="1.1"/>
<line x1="122.4" y1="1069.1" x2="127.0" y2="1069.1" stroke="#111" stroke-width="1.1"/>
<line x1="122.4" y1="1067.1" x2="127.0" y2="1067.1" stroke="#111" stroke-width="1.1"/>
<line x1="122.4" y1="1065.5" x2="127.0" y2="1065.5" stroke="#111" stroke-width="1.1"/>
<line x1="122.4" y1="1064.1" x2="127.0" y2="1064.1" stroke="#111" stroke-width="1.1"/>
<line x1="122.4" y1="1062.8" x2="127.0" y2="1062.8" stroke="#111" stroke-width="1.1"/>
<line x1="122.4" y1="1061.7" x2="131.2" y2="1061.7" stroke="#111" stroke-width="1.4"/>
<line x1="122.4" y1="1054.3" x2="127.0" y2="1054.3" stroke="#111" stroke-width="1.1"/>
<line x1="122.4" y1="1050.0" x2="127.0" y2="1050.0" stroke="#111" stroke-width="1.1"/>
<line x1="122.4" y1="1046.9" x2="127.0" y2="1046.9" stroke="#111" stroke-width="1.1"/>
<line x1="122.4" y1="1044.6" x2="127.0" y2="1044.6" stroke="#111" stroke-width="1.1"/>
<line x1="122.4" y1="1042.6" x2="127.0" y2="1042.6" stroke="#111" stroke-width="1.1"/>
<line x1="122.4" y1="1041.0" x2="127.0" y2="1041.0" stroke="#111" stroke-width="1.1"/>
<line x1="122.4" y1="1039.5" x2="127.0" y2="1039.5" stroke="#111" stroke-width="1.1"/>
<line x1="122.4" y1="1038.3" x2="127.0" y2="1038.3" stroke="#111" stroke-width="1.1"/>
<line x1="122.4" y1="1037.2" x2="131.2" y2="1037.2" stroke="#111" stroke-width="1.4"/>
<line x1="122.4" y1="1029.8" x2="127.0" y2="1029.8" stroke="#111" stroke-width="1.1"/>
<line x1="122.4" y1="1025.5" x2="127.0" y2="1025.5" stroke="#111" stroke-width="1.1"/>
<line x1="122.4" y1="1022.4" x2="127.0" y2="1022.4" stroke="#111" stroke-width="1.1"/>
<line x1="122.4" y1="1020.0" x2="127.0" y2="1020.0" stroke="#111" stroke-width="1.1"/>
<line x1="122.4" y1="1018.1" x2="127.0" y2="1018.1" stroke="#111" stroke-width="1.1"/>
<line x1="122.4" y1="1016.4" x2="127.0" y2="1016.4" stroke="#111" stroke-width="1.1"/>
<line x1="122.4" y1="1015.0" x2="127.0" y2="1015.0" stroke="#111" stroke-width="1.1"/>
<line x1="122.4" y1="1013.8" x2="127.0" y2="1013.8" stroke="#111" stroke-width="1.1"/>
<line x1="122.4" y1="1012.6" x2="131.2" y2="1012.6" stroke="#111" stroke-width="1.4"/>
<line x1="122.4" y1="1005.3" x2="127.0" y2="1005.3" stroke="#111" stroke-width="1.1"/>
<line x1="122.4" y1="1000.9" x2="127.0" y2="1000.9" stroke="#111" stroke-width="1.1"/>
<line x1="122.4" y1="997.9" x2="127.0" y2="997.9" stroke="#111" stroke-width="1.1"/>
<line x1="122.4" y1="995.5" x2="127.0" y2="995.5" stroke="#111" stroke-width="1.1"/>
<line x1="122.4" y1="993.6" x2="127.0" y2="993.6" stroke="#111" stroke-width="1.1"/>
<line x1="122.4" y1="991.9" x2="127.0" y2="991.9" stroke="#111" stroke-width="1.1"/>
<line x1="122.4" y1="990.5" x2="127.0" y2="990.5" stroke="#111" stroke-width="1.1"/>
<line x1="122.4" y1="989.2" x2="127.0" y2="989.2" stroke="#111" stroke-width="1.1"/>
<line x1="122.4" y1="988.1" x2="131.2" y2="988.1" stroke="#111" stroke-width="1.4"/>
<line x1="122.4" y1="980.7" x2="127.0" y2="980.7" stroke="#111" stroke-width="1.1"/>
<line x1="122.4" y1="976.4" x2="127.0" y2="976.4" stroke="#111" stroke-width="1.1"/>
<line x1="122.4" y1="973.3" x2="127.0" y2="973.3" stroke="#111" stroke-width="1.1"/>
<line x1="122.4" y1="971.0" x2="127.0" y2="971.0" stroke="#111" stroke-width="1.1"/>
<line x1="122.4" y1="969.0" x2="127.0" y2="969.0" stroke="#111" stroke-width="1.1"/>
<line x1="122.4" y1="967.4" x2="127.0" y2="967.4" stroke="#111" stroke-width="1.1"/>
<line x1="122.4" y1="966.0" x2="127.0" y2="966.0" stroke="#111" stroke-width="1.1"/>
<line x1="122.4" y1="964.7" x2="127.0" y2="964.7" stroke="#111" stroke-width="1.1"/>
<line x1="122.4" y1="963.6" x2="131.2" y2="963.6" stroke="#111" stroke-width="1.4"/>
<line x1="122.4" y1="956.2" x2="127.0" y2="956.2" stroke="#111" stroke-width="1.1"/>
<line x1="122.4" y1="951.9" x2="127.0" y2="951.9" stroke="#111" stroke-width="1.1"/>
<line x1="122.4" y1="948.8" x2="127.0" y2="948.8" stroke="#111" stroke-width="1.1"/>
<line x1="122.4" y1="946.4" x2="127.0" y2="946.4" stroke="#111" stroke-width="1.1"/>
<line x1="122.4" y1="944.5" x2="127.0" y2="944.5" stroke="#111" stroke-width="1.1"/>
<line x1="122.4" y1="942.8" x2="127.0" y2="942.8" stroke="#111" stroke-width="1.1"/>
<line x1="122.4" y1="941.4" x2="127.0" y2="941.4" stroke="#111" stroke-width="1.1"/>
<line x1="122.4" y1="940.2" x2="127.0" y2="940.2" stroke="#111" stroke-width="1.1"/>
<line x1="122.4" y1="939.1" x2="131.2" y2="939.1" stroke="#111" stroke-width="1.4"/>
<line x1="122.4" y1="931.7" x2="127.0" y2="931.7" stroke="#111" stroke-width="1.1"/>
<line x1="122.4" y1="927.3" x2="127.0" y2="927.3" stroke="#111" stroke-width="1.1"/>
<line x1="122.4" y1="924.3" x2="127.0" y2="924.3" stroke="#111" stroke-width="1.1"/>
<line x1="122.4" y1="921.9" x2="127.0" y2="921.9" stroke="#111" stroke-width="1.1"/>
<line x1="122.4" y1="920.0" x2="127.0" y2="920.0" stroke="#111" stroke-width="1.1"/>
<line x1="122.4" y1="918.3" x2="127.0" y2="918.3" stroke="#111" stroke-width="1.1"/>
<line x1="122.4" y1="916.9" x2="127.0" y2="916.9" stroke="#111" stroke-width="1.1"/>
<line x1="122.4" y1="915.6" x2="127.0" y2="915.6" stroke="#111" stroke-width="1.1"/>
<line x1="122.4" y1="914.5" x2="131.2" y2="914.5" stroke="#111" stroke-width="1.4"/>
<line x1="122.4" y1="907.1" x2="127.0" y2="907.1" stroke="#111" stroke-width="1.1"/>
<line x1="122.4" y1="902.8" x2="127.0" y2="902.8" stroke="#111" stroke-width="1.1"/>
<line x1="122.4" y1="899.8" x2="127.0" y2="899.8" stroke="#111" stroke-width="1.1"/>
<line x1="122.4" y1="897.4" x2="127.0" y2="897.4" stroke="#111" stroke-width="1.1"/>
<line x1="122.4" y1="895.4" x2="127.0" y2="895.4" stroke="#111" stroke-width="1.1"/>
<line x1="122.4" y1="893.8" x2="127.0" y2="893.8" stroke="#111" stroke-width="1.1"/>
<line x1="122.4" y1="892.4" x2="127.0" y2="892.4" stroke="#111" stroke-width="1.1"/>
<line x1="122.4" y1="891.1" x2="127.0" y2="891.1" stroke="#111" stroke-width="1.1"/>
<line x1="122.4" y1="890.0" x2="131.2" y2="890.0" stroke="#111" stroke-width="1.4"/>
<line x1="122.4" y1="882.6" x2="127.0" y2="882.6" stroke="#111" stroke-width="1.1"/>
<line x1="122.4" y1="878.3" x2="127.0" y2="878.3" stroke="#111" stroke-width="1.1"/>
<line x1="122.4" y1="875.2" x2="127.0" y2="875.2" stroke="#111" stroke-width="1.1"/>
<line x1="122.4" y1="872.8" x2="127.0" y2="872.8" stroke="#111" stroke-width="1.1"/>
<line x1="122.4" y1="870.9" x2="127.0" y2="870.9" stroke="#111" stroke-width="1.1"/>
<line x1="122.4" y1="869.3" x2="127.0" y2="869.3" stroke="#111" stroke-width="1.1"/>
<line x1="122.4" y1="867.8" x2="127.0" y2="867.8" stroke="#111" stroke-width="1.1"/>
<line x1="122.4" y1="866.6" x2="127.0" y2="866.6" stroke="#111" stroke-width="1.1"/>
<line x1="122.4" y1="865.5" x2="131.2" y2="865.5" stroke="#111" stroke-width="1.4"/>
<line x1="122.4" y1="858.1" x2="127.0" y2="858.1" stroke="#111" stroke-width="1.1"/>
<line x1="122.4" y1="853.8" x2="127.0" y2="853.8" stroke="#111" stroke-width="1.1"/>
<line x1="122.4" y1="850.7" x2="127.0" y2="850.7" stroke="#111" stroke-width="1.1"/>
<line x1="122.4" y1="848.3" x2="127.0" y2="848.3" stroke="#111" stroke-width="1.1"/>
<line x1="122.4" y1="846.4" x2="127.0" y2="846.4" stroke="#111" stroke-width="1.1"/>
<line x1="122.4" y1="844.7" x2="127.0" y2="844.7" stroke="#111" stroke-width="1.1"/>
<line x1="122.4" y1="843.3" x2="127.0" y2="843.3" stroke="#111" stroke-width="1.1"/>
<line x1="122.4" y1="842.1" x2="127.0" y2="842.1" stroke="#111" stroke-width="1.1"/>
<line x1="122.4" y1="840.9" x2="131.2" y2="840.9" stroke="#111" stroke-width="1.4"/>
<line x1="122.4" y1="833.5" x2="127.0" y2="833.5" stroke="#111" stroke-width="1.1"/>
<line x1="122.4" y1="829.2" x2="127.0" y2="829.2" stroke="#111" stroke-width="1.1"/>
<line x1="122.4" y1="826.2" x2="127.0" y2="826.2" stroke="#111" stroke-width="1.1"/>
<line x1="122.4" y1="823.8" x2="127.0" y2="823.8" stroke="#111" stroke-width="1.1"/>
<line x1="122.4" y1="821.8" x2="127.0" y2="821.8" stroke="#111" stroke-width="1.1"/>
<line x1="122.4" y1="820.2" x2="127.0" y2="820.2" stroke="#111" stroke-width="1.1"/>
<line x1="122.4" y1="818.8" x2="127.0" y2="818.8" stroke="#111" stroke-width="1.1"/>
<line x1="122.4" y1="817.5" x2="127.0" y2="817.5" stroke="#111" stroke-width="1.1"/>
<line x1="122.4" y1="816.4" x2="131.2" y2="816.4" stroke="#111" stroke-width="1.4"/>
<line x1="122.4" y1="809.0" x2="127.0" y2="809.0" stroke="#111" stroke-width="1.1"/>
<line x1="122.4" y1="804.7" x2="127.0" y2="804.7" stroke="#111" stroke-width="1.1"/>
<line x1="122.4" y1="801.6" x2="127.0" y2="801.6" stroke="#111" stroke-width="1.1"/>
<line x1="122.4" y1="799.3" x2="127.0" y2="799.3" stroke="#111" stroke-width="1.1"/>
<line x1="122.4" y1="797.3" x2="127.0" y2="797.3" stroke="#111" stroke-width="1.1"/>
<line x1="122.4" y1="795.7" x2="127.0" y2="795.7" stroke="#111" stroke-width="1.1"/>
<line x1="122.4" y1="794.2" x2="127.0" y2="794.2" stroke="#111" stroke-width="1.1"/>
<line x1="122.4" y1="793.0" x2="127.0" y2="793.0" stroke="#111" stroke-width="1.1"/>
<g clip-path="url(#bclip)">
<path d="M124.2,970.8 L124.7,967.5 L125.2,966.5 L125.7,962.0 L126.2,965.9 L126.7,965.1 L127.2,965.8 L127.7,964.2 L128.2,965.7 L128.7,964.7 L129.2,963.2 L129.7,968.2 L130.2,968.4 L130.7,969.4 L131.2,966.1 L131.7,965.1 L132.2,964.4 L132.7,962.2 L133.2,967.6 L133.7,963.0 L134.2,962.9 L134.7,965.1 L135.2,969.5 L135.7,966.2 L136.2,963.6 L136.7,965.0 L137.2,967.5 L137.7,966.1 L138.2,964.6 L138.7,965.7 L139.2,967.4 L139.7,970.3 L140.2,963.4 L140.7,964.6 L141.2,964.3 L141.7,961.7 L142.2,964.1 L142.7,963.9 L143.2,968.4 L143.7,965.7 L144.2,962.9 L144.7,967.6 L145.2,965.3 L145.7,961.7 L146.2,963.9 L146.7,964.2 L147.2,962.7 L147.7,964.7 L148.2,960.5 L148.7,964.0 L149.2,966.8 L149.7,966.1 L150.2,966.9 L150.7,966.8 L151.2,967.3 L151.7,962.7 L152.2,967.2 L152.7,961.5 L153.2,964.0 L153.7,961.4 L154.2,966.9 L154.7,967.1 L155.2,964.3 L155.7,967.9 L156.2,963.4 L156.7,964.2 L157.2,964.1 L157.7,961.9 L158.2,964.5 L158.7,967.2 L159.2,962.1 L159.7,965.8 L160.2,963.9 L160.7,966.8 L161.2,964.9 L161.7,965.7 L162.2,965.7 L162.7,964.7 L163.2,961.6 L163.7,966.4 L164.2,961.4 L164.7,964.2 L165.2,965.0 L165.7,962.7 L166.2,963.9 L166.7,965.1 L167.2,963.4 L167.7,962.1 L168.2,959.8 L168.7,961.7 L169.2,961.7 L169.7,961.6 L170.2,960.3 L170.7,962.0 L171.2,960.6 L171.7,961.4 L172.2,962.8 L172.7,960.1 L173.2,960.6 L173.7,964.6 L174.2,962.7 L174.7,959.6 L175.2,961.4 L175.7,961.8 L176.2,962.9 L176.7,961.1 L177.2,960.2 L177.7,959.9 L178.2,961.9 L178.7,961.3 L179.2,960.0 L179.7,960.6 L180.2,960.5 L180.7,961.9 L181.2,959.6 L181.7,961.3 L182.2,961.7 L182.7,960.8 L183.2,958.9 L183.7,961.7 L184.2,958.8 L184.7,960.0 L185.2,958.2 L185.7,957.1 L186.2,959.2 L186.7,959.3 L187.2,958.8 L187.7,959.1 L188.2,957.8 L188.7,957.6 L189.2,958.3 L189.7,960.3 L190.2,958.7 L190.7,957.2 L191.2,958.0 L191.7,956.5 L192.2,956.4 L192.7,957.8 L193.2,956.1 L193.7,954.5 L194.2,955.3 L194.7,956.4 L195.2,956.2 L195.7,957.4 L196.2,955.4 L196.7,956.8 L197.2,956.1 L197.7,955.3 L198.2,956.1 L198.7,955.4 L199.2,953.6 L199.7,955.4 L200.2,952.9 L200.7,953.9 L201.2,953.6 L201.7,953.9 L202.2,952.5 L202.7,953.3 L203.2,953.4 L203.7,954.3 L204.2,952.5 L204.7,953.0 L205.2,952.5 L205.7,951.3 L206.2,954.0 L206.7,951.9 L207.2,950.1 L207.7,952.1 L208.2,949.7 L208.7,950.4 L209.2,950.6 L209.7,949.2 L210.2,949.1 L210.7,948.8 L211.2,948.7 L211.7,947.3 L212.2,947.1 L212.7,947.5 L213.2,947.8 L213.7,947.1 L214.2,947.2 L214.7,946.1 L215.2,944.9 L215.7,944.6 L216.2,943.1 L216.7,943.4 L217.2,942.9 L217.7,943.2 L218.2,942.7 L218.7,941.6 L219.2,940.9 L219.7,939.9 L220.2,939.9 L220.7,939.2 L221.2,938.4 L221.7,937.0 L222.2,936.9 L222.7,935.7 L223.2,934.1 L223.7,932.7 L224.2,931.5 L224.7,929.9 L225.2,928.0 L225.7,925.9 L226.2,923.8 L226.7,921.6 L227.2,919.3 L227.7,916.8 L228.2,914.6 L228.7,911.9 L229.2,909.2 L229.7,907.0 L230.2,904.3 L230.7,903.0 L231.2,900.9 L231.7,899.5 L232.2,898.4 L232.7,896.8 L233.2,896.1 L233.7,895.1 L234.2,894.2 L234.7,895.1 L235.2,895.6 L235.7,897.3 L236.2,897.0 L236.7,898.6 L237.2,897.4 L237.7,899.1 L238.2,899.9 L238.7,900.2 L239.2,901.6 L239.7,902.0 L240.2,902.4 L240.7,903.4 L241.2,904.9 L241.7,903.9 L242.2,904.1 L242.7,903.1 L243.2,903.5 L243.7,902.3 L244.2,902.6 L244.7,903.1 L245.2,901.9 L245.7,900.9 L246.2,900.5 L246.7,900.1 L247.2,898.9 L247.7,898.3 L248.2,896.7 L248.7,895.2 L249.2,894.2 L249.7,891.7 L250.2,890.8 L250.7,889.7 L251.2,888.3 L251.7,887.2 L252.2,885.8 L252.7,884.6 L253.2,884.6 L253.7,883.5 L254.2,883.2 L254.7,884.0 L255.2,884.5 L255.7,886.1 L256.2,887.6 L256.7,889.5 L257.2,890.4 L257.7,893.0 L258.2,895.4 L258.7,897.9 L259.2,900.8 L259.7,902.4 L260.2,904.6 L260.7,904.6 L261.2,903.8 L261.7,902.3 L262.2,900.8 L262.7,898.2 L263.2,895.6 L263.7,888.9 L264.2,879.7 L264.7,869.8 L265.2,858.9 L265.7,845.8 L266.2,838.5 L266.7,842.0 L267.2,853.4 L267.7,863.6 L268.2,870.3 L268.7,878.1 L269.2,893.4 L269.7,910.7 L270.2,917.3 L270.7,919.8 L271.2,921.7 L271.7,923.0 L272.2,924.6 L272.7,925.0 L273.2,926.8 L273.7,927.3 L274.2,927.0 L274.7,927.6 L275.2,928.2 L275.7,930.0 L276.2,928.9 L276.7,928.6 L277.2,930.1 L277.7,930.6 L278.2,929.8 L278.7,932.4 L279.2,931.0 L279.7,931.6 L280.2,930.5 L280.7,931.7 L281.2,931.8 L281.7,929.6 L282.2,932.9 L282.7,930.4 L283.2,932.6 L283.7,930.8 L284.2,935.6 L284.7,933.5 L285.2,934.1 L285.7,934.0 L286.2,931.2 L286.7,930.1 L287.2,932.4 L287.7,934.2 L288.2,933.2 L288.7,934.3 L289.2,934.3 L289.7,932.5 L290.2,934.4 L290.7,935.2 L291.2,935.6 L291.7,937.2 L292.2,939.4 L292.7,941.1 L293.2,942.4 L293.7,942.2 L294.2,943.2 L294.7,942.1 L295.2,944.8 L295.7,945.8 L296.2,945.9 L296.7,943.7 L297.2,945.4 L297.7,943.1 L298.2,945.8 L298.7,945.9 L299.2,944.8 L299.7,946.2 L300.2,946.1 L300.7,947.4 L301.2,947.0 L301.7,947.3 L302.2,945.2 L302.7,946.4 L303.2,947.0 L303.7,947.9 L304.2,947.9 L304.7,949.4 L305.2,947.4 L305.7,948.2 L306.2,948.9 L306.7,948.8 L307.2,949.4 L307.7,948.8 L308.2,950.9 L308.7,949.6 L309.2,950.9 L309.7,950.2 L310.2,951.7 L310.7,949.6 L311.2,951.4 L311.7,950.7 L312.2,951.4 L312.7,952.5 L313.2,950.9 L313.7,951.1 L314.2,951.7 L314.7,952.8 L315.2,951.0 L315.7,953.0 L316.2,952.2 L316.7,952.7 L317.2,953.7 L317.7,954.4 L318.2,954.1 L318.7,954.4 L319.2,955.2 L319.7,955.5 L320.2,954.3 L320.7,955.8 L321.2,956.4 L321.7,957.4 L322.2,958.7 L322.7,957.9 L323.2,957.8 L323.7,957.4 L324.2,958.4 L324.7,959.6 L325.2,960.4 L325.7,959.1 L326.2,960.2 L326.7,961.0 L327.2,962.0 L327.7,960.7 L328.2,959.7 L328.7,959.6 L329.2,959.8 L329.7,959.4 L330.2,961.3 L330.7,962.0 L331.2,961.5 L331.7,962.5 L332.2,960.4 L332.7,962.1 L333.2,961.3 L333.7,962.2 L334.2,964.4 L334.7,962.6 L335.2,960.0 L335.7,962.2 L336.2,961.9 L336.7,960.7 L337.2,961.6 L337.7,964.4 L338.2,965.5 L338.7,961.7 L339.2,963.8 L339.7,964.0 L340.2,960.9 L340.7,962.3 L341.2,962.7 L341.7,963.2 L342.2,960.1 L342.7,961.9 L343.2,964.4 L343.7,965.2 L344.2,966.2 L344.7,962.3 L345.2,966.1 L345.7,963.7 L346.2,959.9 L346.7,963.6 L347.2,962.1 L347.7,963.5 L348.2,962.1 L348.7,964.2 L349.2,962.6 L349.7,961.5 L350.2,963.7 L350.7,962.6 L351.2,961.5 L351.7,964.2 L352.2,961.3 L352.7,960.8 L353.2,960.9 L353.7,959.2 L354.2,960.9 L354.7,965.3 L355.2,960.6 L355.7,962.3 L356.2,960.1 L356.7,961.4 L357.2,965.9 L357.7,965.2 L358.2,962.3 L358.7,963.5 L359.2,961.6 L359.7,961.4 L360.2,961.1 L360.7,961.0 L361.2,962.8 L361.7,963.3 L362.2,963.1 L362.7,962.1 L363.2,959.7 L363.7,962.3 L364.2,961.0 L364.7,964.5 L365.2,963.8 L365.7,965.0 L366.2,963.0 L366.7,960.4 L367.2,965.5 L367.7,966.0 L368.2,960.8 L368.7,963.8 L369.2,965.7 L369.7,961.7 L370.2,966.7 L370.7,962.7 L371.2,961.2 L371.7,965.8 L372.2,963.6 L372.7,962.2 L373.2,965.1 L373.7,960.2 L374.2,967.4 L374.7,962.0 L375.2,964.3 L375.7,963.0 L376.2,964.9 L376.7,965.8 L377.2,962.2 L377.7,965.5 L378.2,963.2 L378.7,962.3 L379.2,963.2 L379.7,961.0 L380.2,961.4 L380.7,964.4 L381.2,962.1 L381.7,964.9 L382.2,963.5 L382.7,961.1 L383.2,959.2 L383.7,961.7 L384.2,964.1 L384.7,963.2 L385.2,961.4 L385.7,965.2 L386.2,959.3 L386.7,960.0 L387.2,962.5 L387.7,966.9 L388.2,963.9 L388.7,961.0 L389.2,964.1 L389.7,964.4 L390.2,964.8 L390.7,962.5 L391.2,961.5 L391.7,963.0 L392.2,963.3 L392.7,965.2 L393.2,966.1 L393.7,961.0 L394.2,961.3 L394.7,961.9 L395.2,961.5 L395.7,963.5 L396.2,963.6 L396.7,963.2 L397.2,965.2 L397.7,962.3 L398.2,960.4 L398.7,959.6 L399.2,961.2 L399.7,961.6 L400.2,959.5 L400.7,964.1 L401.2,963.2 L401.7,962.1 L402.2,961.4 L402.7,960.1 L403.2,961.7 L403.7,966.9 L404.2,959.3 L404.7,963.5 L405.2,964.6 L405.7,963.4 L406.2,962.6 L406.7,964.0 L407.2,960.7 L407.7,963.0 L408.2,964.6 L408.7,959.9 L409.2,960.5 L409.7,962.4 L410.2,964.0 L410.7,964.6 L411.2,963.9 L411.7,961.4 L412.2,961.1 L412.7,963.9 L413.2,964.0 L413.7,961.0 L414.2,963.2 L414.7,963.5 L415.2,964.8 L415.7,960.7 L416.2,963.9 L416.7,960.6 L417.2,962.0 L417.7,962.3 L418.2,965.5 L418.7,967.1 L419.2,963.7 L419.7,964.2 L420.2,965.3 L420.7,960.4 L421.2,964.4 L421.7,960.3 L422.2,966.3 L422.7,966.0 L423.2,964.0 L423.7,961.5 L424.2,966.4 L424.7,963.5 L425.2,963.3 L425.7,964.1 L426.2,959.9 L426.7,963.6 L427.2,964.7 L427.7,963.3 L428.2,962.7 L428.7,960.7 L429.2,964.0 L429.7,963.1 L430.2,963.0 L430.7,961.7 L431.2,964.5 L431.7,965.5 L432.2,964.4 L432.7,965.6 L433.2,966.6 L433.7,967.0 L434.2,964.2 L434.7,963.2 L435.2,963.2 L435.7,964.0 L436.2,964.9 L436.7,964.9 L437.2,961.8 L437.7,962.6 L438.2,960.1 L438.7,964.5 L439.2,961.1 L439.7,962.3 L440.2,960.3 L440.7,960.7 L441.2,960.1 L441.7,965.1 L442.2,962.7 L442.7,962.0 L443.2,960.3 L443.7,961.0 L444.2,963.6 L444.7,965.3 L445.2,959.7 L445.7,960.8 L446.2,962.0 L446.7,960.6 L447.2,958.2 L447.7,961.4 L448.2,963.1 L448.7,958.3 L449.2,961.5 L449.7,963.2 L450.2,962.9 L450.7,960.3 L451.2,965.8 L451.7,963.2 L452.2,960.7 L452.7,964.4 L453.2,960.2 L453.7,964.6 L454.2,960.0 L454.7,964.2 L455.2,961.8 L455.7,965.0 L456.2,964.0 L456.7,963.4 L457.2,961.8 L457.7,963.5 L458.2,958.0 L458.7,962.3 L459.2,962.2 L459.7,962.6 L460.2,962.8 L460.7,965.6 L461.2,961.6 L461.7,963.0 L462.2,962.2 L462.7,965.1 L463.2,958.5 L463.7,965.7 L464.2,961.1 L464.7,958.3 L465.2,960.8 L465.7,962.8 L466.2,963.9 L466.7,963.2 L467.2,964.5 L467.7,962.5 L468.2,962.3 L468.7,958.2 L469.2,962.7 L469.7,963.4 L470.2,960.3 L470.7,957.3 L471.2,958.3 L471.7,964.0 L472.2,960.0 L472.7,959.7 L473.2,959.5 L473.7,962.9 L474.2,960.2 L474.7,959.5 L475.2,958.6 L475.7,961.3 L476.2,963.4 L476.7,960.6 L477.2,962.9 L477.7,961.9 L478.2,961.6 L478.7,962.0 L479.2,962.2 L479.7,964.2 L480.2,963.2 L480.7,961.4 L481.2,963.2 L481.7,963.2 L482.2,964.1 L482.7,963.8 L483.2,964.3 L483.7,960.6 L484.2,963.8 L484.7,965.7 L485.2,960.8 L485.7,966.3 L486.2,963.3 L486.7,962.1 L487.2,958.9 L487.7,964.4 L488.2,960.4 L488.7,961.5 L489.2,963.3 L489.7,959.9 L490.2,960.1 L490.7,959.8 L491.2,962.4 L491.7,963.6 L492.2,963.3 L492.7,963.0 L493.2,961.6 L493.7,962.8 L494.2,961.4 L494.7,966.6 L495.2,962.8 L495.7,958.8 L496.2,961.0 L496.7,965.9 L497.2,960.0 L497.7,961.7 L498.2,963.2 L498.7,960.0 L499.2,964.1 L499.7,965.4 L500.2,960.6 L500.7,963.9 L501.2,960.1 L501.7,960.6 L502.2,963.2 L502.7,963.1 L503.2,961.7 L503.7,964.5 L504.2,960.1 L504.7,960.7 L505.2,960.2 L505.7,963.6 L506.2,963.2 L506.7,962.9 L507.2,959.4 L507.7,962.2 L508.2,962.7 L508.7,958.8 L509.2,960.4 L509.7,962.9 L510.2,963.2 L510.7,961.9 L511.2,962.1 L511.7,961.2 L512.2,960.8 L512.7,960.4 L513.2,958.9 L513.7,960.2 L514.2,960.5 L514.7,965.7 L515.2,962.3 L515.7,962.6 L516.2,962.6 L516.7,962.7 L517.2,962.3 L517.7,964.0 L518.2,962.8 L518.7,964.3 L519.2,961.5 L519.7,963.3 L520.2,963.9 L520.7,959.9 L521.2,962.5 L521.7,962.8 L522.2,961.5 L522.7,961.0 L523.2,958.0 L523.7,963.5 L524.2,959.8 L524.7,959.2 L525.2,962.8 L525.7,958.4 L526.2,963.6 L526.7,962.6 L527.2,963.3 L527.7,962.4 L528.2,960.4 L528.7,959.1 L529.2,965.7 L529.7,962.1 L530.2,961.8 L530.7,966.0 L531.2,961.8 L531.7,962.2 L532.2,962.4 L532.7,962.3 L533.2,960.8 L533.7,961.2 L534.2,964.4 L534.7,963.6 L535.2,957.5 L535.7,957.8 L536.2,962.0 L536.7,960.6 L537.2,960.4 L537.7,963.2 L538.2,957.9 L538.7,963.9 L539.2,961.4 L539.7,963.0 L540.2,962.5 L540.7,963.8 L541.2,961.8 L541.7,961.2 L542.2,963.5 L542.7,962.1 L543.2,959.3 L543.7,964.7 L544.2,963.9 L544.7,964.2 L545.2,961.7 L545.7,962.4 L546.2,960.6 L546.7,959.2 L547.2,961.6 L547.7,961.5 L548.2,959.6 L548.7,964.5 L549.2,958.2 L549.7,959.9 L550.2,960.1 L550.7,964.5 L551.2,961.6 L551.7,960.9 L552.2,960.1 L552.7,960.5 L553.2,959.5 L553.7,963.7 L554.2,963.2 L554.7,963.3 L555.2,960.1 L555.7,965.9 L556.2,960.5 L556.7,958.6 L557.2,962.0 L557.7,962.8 L558.2,964.1 L558.7,960.4 L559.2,964.0 L559.7,966.1 L560.2,960.8 L560.7,960.5 L561.2,958.4 L561.7,962.1 L562.2,962.9 L562.7,962.6 L563.2,962.5 L563.7,963.6 L564.2,961.0 L564.7,963.0 L565.2,959.7 L565.7,960.0 L566.2,962.2 L566.7,960.4 L567.2,963.8 L567.7,965.3 L568.2,963.4 L568.7,960.8 L569.2,960.5 L569.7,964.5 L570.2,960.1 L570.7,961.6 L571.2,960.8 L571.7,960.9 L572.2,962.6 L572.7,959.3 L573.2,958.3 L573.7,963.9 L574.2,961.7 L574.7,962.7 L575.2,960.9 L575.7,962.9 L576.2,964.0 L576.7,964.8 L577.2,961.8 L577.7,961.6 L578.2,962.9 L578.7,962.6 L579.2,963.6 L579.7,961.2 L580.2,958.3 L580.7,963.2 L581.2,963.9 L581.7,963.3 L582.2,964.7 L582.7,963.2 L583.2,960.8 L583.7,963.5 L584.2,961.7 L584.7,964.0 L585.2,962.1 L585.7,962.3 L586.2,962.2 L586.7,962.2 L587.2,959.2 L587.7,962.1 L588.2,957.2 L588.7,962.2 L589.2,963.3 L589.7,965.1 L590.2,962.0 L590.7,959.9 L591.2,958.1 L591.7,965.3 L592.2,958.9 L592.7,963.5 L593.2,957.6 L593.7,961.6 L594.2,962.9 L594.7,962.3 L595.2,961.5 L595.7,959.7 L596.2,959.0 L596.7,962.9 L597.2,962.0 L597.7,961.4 L598.2,962.1 L598.7,960.3 L599.2,964.2 L599.7,965.1 L600.2,961.3 L600.7,963.4 L601.2,964.7 L601.7,961.3 L602.2,965.6 L602.7,964.7 L603.2,961.0 L603.7,962.8 L604.2,964.1 L604.7,958.9 L605.2,962.3 L605.7,960.6 L606.2,960.7 L606.7,962.3 L607.2,959.7 L607.7,958.3 L608.2,958.6 L608.7,960.9 L609.2,962.1 L609.7,960.9 L610.2,960.9 L610.7,961.1 L611.2,964.4 L611.7,963.2 L612.2,960.6 L612.7,961.5 L613.2,964.0 L613.7,960.2 L614.2,960.2 L614.7,961.1 L615.2,959.0 L615.7,962.2 L616.2,956.0 L616.7,963.1 L617.2,959.5 L617.7,958.3 L618.2,961.5 L618.7,958.1 L619.2,962.3 L619.7,962.9 L620.2,960.5 L620.7,960.9 L621.2,963.1 L621.7,959.9 L622.2,961.5 L622.7,961.9 L623.2,963.9 L623.7,960.1 L624.2,961.2 L624.7,963.2 L625.2,956.9 L625.7,960.6 L626.2,957.5 L626.7,957.9 L627.2,965.2 L627.7,962.1 L628.2,964.3 L628.7,960.9 L629.2,962.6 L629.7,960.9 L630.2,960.6 L630.7,961.2 L631.2,961.2 L631.7,964.0 L632.2,960.7 L632.7,962.0 L633.2,960.6 L633.7,961.5 L634.2,958.5 L634.7,963.1 L635.2,960.0 L635.7,960.8 L636.2,960.8 L636.7,963.1 L637.2,962.1 L637.7,961.6 L638.2,961.6 L638.7,961.8 L639.2,962.6 L639.7,962.3 L640.2,963.4 L640.7,963.5 L641.2,961.5 L641.7,958.2 L642.2,963.9 L642.7,964.7 L643.2,960.1 L643.7,960.0 L644.2,956.6 L644.7,962.3 L645.2,958.5 L645.7,963.8 L646.2,956.0 L646.7,960.1 L647.2,961.3 L647.7,959.2 L648.2,958.2 L648.7,960.6 L649.2,959.1 L649.7,960.0 L650.2,960.6 L650.7,959.4 L651.2,960.0 L651.7,962.0 L652.2,960.1 L652.7,961.4 L653.2,959.6 L653.7,963.0 L654.2,958.8 L654.7,963.0 L655.2,956.6 L655.7,959.1 L656.2,958.0 L656.7,962.6 L657.2,961.3 L657.7,958.1 L658.2,959.3 L658.7,962.8 L659.2,960.2 L659.7,961.6 L660.2,957.5 L660.7,957.6 L661.2,961.7 L661.7,964.6 L662.2,959.6 L662.7,961.8 L663.2,959.1 L663.7,963.3 L664.2,960.1 L664.7,960.5 L665.2,957.0 L665.7,959.6 L666.2,961.1 L666.7,963.5 L667.2,958.5 L667.7,962.2 L668.2,959.4 L668.7,959.6 L669.2,958.3 L669.7,957.5 L670.2,958.4 L670.7,963.5 L671.2,958.1 L671.7,959.3 L672.2,962.7 L672.7,957.2 L673.2,962.0 L673.7,959.9 L674.2,960.9 L674.7,962.4 L675.2,960.4 L675.7,960.0 L676.2,962.3 L676.7,961.5 L677.2,958.8 L677.7,959.7 L678.2,957.7 L678.7,962.8 L679.2,957.7 L679.7,960.4 L680.2,963.7 L680.7,961.8 L681.2,960.2 L681.7,959.2 L682.2,959.2 L682.7,962.5 L683.2,961.1 L683.7,960.7 L684.2,964.7 L684.7,958.8 L685.2,959.3 L685.7,959.3 L686.2,960.5 L686.7,961.2 L687.2,960.2 L687.7,962.1 L688.2,961.3 L688.7,959.6 L689.2,956.0 L689.7,961.2 L690.2,958.0 L690.7,958.0 L691.2,958.9 L691.7,956.5 L692.2,957.1 L692.7,959.1 L693.2,958.9 L693.7,960.3 L694.2,958.4 L694.7,959.6 L695.2,958.6 L695.7,959.7 L696.2,960.8 L696.7,959.9 L697.2,957.7 L697.7,959.7 L698.2,960.1 L698.7,961.8 L699.2,959.6 L699.7,958.8 L700.2,957.2 L700.7,963.3 L701.2,957.9 L701.7,957.5 L702.2,959.6 L702.7,956.5 L703.2,962.2 L703.7,959.9 L704.2,960.6 L704.7,958.1 L705.2,958.8 L705.7,961.5 L706.2,961.7 L706.7,964.5 L707.2,962.5 L707.7,957.1 L708.2,961.1 L708.7,960.6 L709.2,963.3 L709.7,961.1 L710.2,962.4 L710.7,960.5 L711.2,962.3 L711.7,963.5 L712.2,959.6 L712.7,957.3 L713.2,958.6 L713.7,963.7 L714.2,961.4 L714.7,960.1 L715.2,959.1 L715.7,962.7 L716.2,961.3 L716.7,960.1 L717.2,959.1 L717.7,960.0 L718.2,959.8 L718.7,961.4 L719.2,962.9 L719.7,956.6 L720.2,958.0 L720.7,960.5 L721.2,961.2 L721.7,958.0 L722.2,959.6 L722.7,960.3 L723.2,960.2 L723.7,959.8 L724.2,960.7 L724.7,962.1 L725.2,962.4 L725.7,961.8 L726.2,961.2 L726.7,959.3 L727.2,959.2 L727.7,961.4 L728.2,960.8 L728.7,962.3 L729.2,961.3 L729.7,960.4 L730.2,961.4 L730.7,957.6 L731.2,960.6 L731.7,959.6 L732.2,962.3 L732.7,958.9 L733.2,960.2 L733.7,958.6 L734.2,960.1 L734.7,960.6 L735.2,958.8 L735.7,958.8 L736.2,958.9 L736.7,959.8 L737.2,957.8 L737.7,958.9 L738.2,958.3 L738.7,957.5 L739.2,959.5 L739.7,960.2 L740.2,958.0 L740.7,962.7 L741.2,958.3 L741.7,960.9 L742.2,960.2 L742.7,956.3 L743.2,959.4 L743.7,956.3 L744.2,959.0 L744.7,961.1 L745.2,963.3 L745.7,961.6 L746.2,957.5 L746.7,959.8 L747.2,963.1 L747.7,961.3 L748.2,964.5 L748.7,959.8 L749.2,959.9 L749.7,958.1 L750.2,959.6 L750.7,962.5 L751.2,958.2 L751.7,961.8 L752.2,960.4 L752.7,961.4 L753.2,959.6 L753.7,960.2 L754.2,964.2 L754.7,958.0 L755.2,961.5 L755.7,963.1 L756.2,960.8 L756.7,963.1 L757.2,956.1 L757.7,959.3 L758.2,957.7 L758.7,959.0 L759.2,959.8 L759.7,961.2 L760.2,958.5 L760.7,961.3 L761.2,956.9 L761.7,960.8 L762.2,958.3 L762.7,955.6 L763.2,955.5 L763.7,955.7 L764.2,956.8 L764.7,958.8 L765.2,960.6 L765.7,960.0 L766.2,957.3 L766.7,956.6 L767.2,958.5 L767.7,957.1 L768.2,957.9 L768.7,957.2 L769.2,959.6 L769.7,955.9 L770.2,957.1 L770.7,958.0 L771.2,956.0 L771.7,955.3 L772.2,956.5 L772.7,954.1 L773.2,953.6 L773.7,953.0 L774.2,952.5 L774.7,951.4 L775.2,950.0 L775.7,949.5 L776.2,947.7 L776.7,946.6 L777.2,945.4 L777.7,944.6 L778.2,943.0 L778.7,941.6 L779.2,940.8 L779.7,939.5 L780.2,938.4 L780.7,936.6 L781.2,936.0 L781.7,935.7 L782.2,935.0 L782.7,934.4 L783.2,934.0 L783.7,934.3 L784.2,932.3 L784.7,933.4 L785.2,932.7 L785.7,933.2 L786.2,933.7 L786.7,934.9 L787.2,934.9 L787.7,934.6 L788.2,935.7 L788.7,935.8 L789.2,936.3 L789.7,935.9 L790.2,937.0 L790.7,936.6 L791.2,935.4 L791.7,935.6 L792.2,935.8 L792.7,937.6 L793.2,936.9 L793.7,937.5 L794.2,937.9 L794.7,939.9 L795.2,941.9 L795.7,939.0 L796.2,942.4 L796.7,939.6 L797.2,940.8 L797.7,937.9 L798.2,936.4 L798.7,938.9 L799.2,939.7 L799.7,935.8 L800.2,937.4 L800.7,937.6 L801.2,938.1 L801.7,936.1 L802.2,936.7 L802.7,938.2 L803.2,938.7 L803.7,937.0 L804.2,937.5 L804.7,936.5 L805.2,936.3 L805.7,935.2 L806.2,935.0 L806.7,934.3 L807.2,934.1 L807.7,934.1 L808.2,933.0 L808.7,932.6 L809.2,931.4 L809.7,931.6 L810.2,929.5 L810.7,929.3 L811.2,929.1 L811.7,927.8 L812.2,927.9 L812.7,927.0 L813.2,925.8 L813.7,925.3 L814.2,924.0 L814.7,923.6 L815.2,923.2 L815.7,922.1 L816.2,922.6 L816.7,921.2 L817.2,921.9 L817.7,920.9 L818.2,921.9 L818.7,920.4 L819.2,921.1 L819.7,921.4 L820.2,922.3 L820.7,923.3 L821.2,922.9 L821.7,923.7 L822.2,924.7 L822.7,925.8 L823.2,926.7 L823.7,927.9 L824.2,929.1 L824.7,930.6 L825.2,932.0 L825.7,933.0 L826.2,934.3 L826.7,935.6 L827.2,936.5 L827.7,937.4 L828.2,938.9 L828.7,940.0 L829.2,940.9 L829.7,941.9 L830.2,942.2 L830.7,943.2 L831.2,944.0 L831.7,944.5 L832.2,944.1 L832.7,945.4 L833.2,945.7 L833.7,945.8 L834.2,945.0 L834.7,943.6 L835.2,941.2 L835.7,938.1 L836.2,928.8 L836.7,916.4 L837.2,905.0 L837.7,894.1 L838.2,883.2 L838.7,877.4 L839.2,880.2 L839.7,889.4 L840.2,898.6 L840.7,904.8 L841.2,910.2 L841.7,914.4 L842.2,917.0 L842.7,918.0 L843.2,918.9 L843.7,919.9 L844.2,921.0 L844.7,928.5 L845.2,940.2 L845.7,947.0 L846.2,951.6 L846.7,954.7 L847.2,955.4 L847.7,956.1 L848.2,956.2 L848.7,956.7 L849.2,957.1 L849.7,957.6 L850.2,957.9 L850.7,956.4 L851.2,958.7 L851.7,956.1 L852.2,961.0 L852.7,957.6 L853.2,958.5 L853.7,960.2 L854.2,958.3 L854.7,956.8 L855.2,956.7 L855.7,959.3 L856.2,959.4 L856.7,960.1 L857.2,959.4 L857.7,958.8 L858.2,960.6 L858.7,961.9 L859.2,958.7 L859.7,962.7 L860.2,958.9 L860.7,961.7 L861.2,962.6 L861.7,960.9 L862.2,959.9 L862.7,960.6 L863.2,961.7 L863.7,955.9 L864.2,960.6 L864.7,959.2 L865.2,958.8 L865.7,960.1 L866.2,960.4 L866.7,960.5 L867.2,958.3 L867.7,961.0 L868.2,955.8 L868.7,957.8 L869.2,957.3 L869.7,959.4 L870.2,958.2 L870.7,959.7 L871.2,957.5 L871.7,961.1 L872.2,960.4 L872.7,958.3 L873.2,956.4 L873.7,957.1 L874.2,956.4 L874.7,961.6 L875.2,960.8 L875.7,957.4 L876.2,963.2 L876.7,959.5 L877.2,956.0 L877.7,961.7 L878.2,962.2 L878.7,959.9 L879.2,958.2 L879.7,962.4 L880.2,959.5 L880.7,960.5 L881.2,961.6 L881.7,961.0 L882.2,959.6 L882.7,958.8 L883.2,962.3 L883.7,957.0 L884.2,961.5 L884.7,961.3 L885.2,961.4 L885.7,959.3 L886.2,961.0 L886.7,962.1 L887.2,958.4 L887.7,960.5 L888.2,961.0 L888.7,958.1 L889.2,958.4 L889.7,963.2 L890.2,962.4 L890.7,958.9 L891.2,961.5 L891.7,961.3 L892.2,962.8 L892.7,962.8 L893.2,956.3 L893.7,959.8 L894.2,962.9 L894.7,963.9 L895.2,959.7 L895.7,958.2 L896.2,960.7 L896.7,959.3 L897.2,960.3 L897.7,958.3 L898.2,962.6 L898.7,962.7 L899.2,962.1 L899.7,959.3 L900.2,958.5 L900.7,959.5 L901.2,963.2 L901.7,958.6 L902.2,963.1 L902.7,965.3 L903.2,960.5 L903.7,961.4 L904.2,964.0 L904.7,964.1 L905.2,960.7 L905.7,961.2 L906.2,961.5 L906.7,960.8 L907.2,962.1 L907.7,961.3 L908.2,963.3 L908.7,956.6 L909.2,962.2 L909.7,961.8 L910.2,960.2 L910.7,961.5 L911.2,962.2 L911.7,961.0 L912.2,960.0 L912.7,961.0 L913.2,959.5 L913.7,958.1 L914.2,959.0 L914.7,959.0 L915.2,961.0" fill="none" stroke="#8e003b" stroke-width="3.5" stroke-linejoin="round" stroke-linecap="round"/>
<path d="M124.2,1060.9 L124.7,1056.1 L125.2,1057.4 L125.7,1057.9 L126.2,1055.5 L126.7,1057.1 L127.2,1056.3 L127.7,1051.9 L128.2,1057.6 L128.7,1056.8 L129.2,1053.4 L129.7,1054.3 L130.2,1056.0 L130.7,1054.2 L131.2,1054.3 L131.7,1051.6 L132.2,1056.3 L132.7,1055.6 L133.2,1055.7 L133.7,1053.1 L134.2,1059.6 L134.7,1056.6 L135.2,1055.5 L135.7,1060.0 L136.2,1055.9 L136.7,1052.9 L137.2,1055.2 L137.7,1051.4 L138.2,1056.6 L138.7,1053.3 L139.2,1052.7 L139.7,1056.5 L140.2,1051.6 L140.7,1055.5 L141.2,1050.5 L141.7,1052.7 L142.2,1051.8 L142.7,1057.1 L143.2,1057.4 L143.7,1053.3 L144.2,1055.0 L144.7,1052.8 L145.2,1054.4 L145.7,1052.4 L146.2,1050.7 L146.7,1050.5 L147.2,1054.9 L147.7,1058.2 L148.2,1054.6 L148.7,1052.9 L149.2,1057.2 L149.7,1054.0 L150.2,1053.6 L150.7,1053.7 L151.2,1053.2 L151.7,1052.7 L152.2,1050.6 L152.7,1054.2 L153.2,1053.1 L153.7,1055.3 L154.2,1052.1 L154.7,1048.7 L155.2,1052.3 L155.7,1055.4 L156.2,1051.6 L156.7,1050.9 L157.2,1050.0 L157.7,1050.2 L158.2,1052.0 L158.7,1050.0 L159.2,1054.8 L159.7,1051.0 L160.2,1052.0 L160.7,1054.3 L161.2,1054.3 L161.7,1051.1 L162.2,1051.8 L162.7,1052.4 L163.2,1050.7 L163.7,1048.3 L164.2,1053.1 L164.7,1053.3 L165.2,1052.4 L165.7,1049.9 L166.2,1051.4 L166.7,1051.1 L167.2,1051.6 L167.7,1054.7 L168.2,1055.0 L168.7,1053.6 L169.2,1053.6 L169.7,1053.7 L170.2,1052.4 L170.7,1052.1 L171.2,1051.0 L171.7,1052.1 L172.2,1056.5 L172.7,1054.3 L173.2,1052.0 L173.7,1051.8 L174.2,1050.9 L174.7,1052.9 L175.2,1052.9 L175.7,1049.6 L176.2,1053.1 L176.7,1051.4 L177.2,1054.3 L177.7,1052.2 L178.2,1054.7 L178.7,1050.8 L179.2,1051.3 L179.7,1052.3 L180.2,1053.6 L180.7,1052.6 L181.2,1049.4 L181.7,1051.9 L182.2,1050.8 L182.7,1049.5 L183.2,1049.4 L183.7,1053.0 L184.2,1049.8 L184.7,1048.9 L185.2,1051.0 L185.7,1050.1 L186.2,1049.5 L186.7,1051.2 L187.2,1050.9 L187.7,1050.7 L188.2,1051.3 L188.7,1049.8 L189.2,1048.0 L189.7,1048.9 L190.2,1048.3 L190.7,1049.3 L191.2,1047.2 L191.7,1046.1 L192.2,1048.6 L192.7,1046.8 L193.2,1046.1 L193.7,1049.6 L194.2,1047.6 L194.7,1049.3 L195.2,1048.1 L195.7,1047.4 L196.2,1047.2 L196.7,1047.9 L197.2,1048.1 L197.7,1047.3 L198.2,1048.0 L198.7,1045.9 L199.2,1047.9 L199.7,1045.2 L200.2,1047.2 L200.7,1048.1 L201.2,1048.8 L201.7,1049.5 L202.2,1045.2 L202.7,1047.8 L203.2,1048.5 L203.7,1048.1 L204.2,1045.6 L204.7,1047.0 L205.2,1048.5 L205.7,1044.4 L206.2,1046.3 L206.7,1046.9 L207.2,1044.5 L207.7,1045.9 L208.2,1043.7 L208.7,1043.8 L209.2,1043.7 L209.7,1044.9 L210.2,1044.2 L210.7,1045.8 L211.2,1043.4 L211.7,1044.4 L212.2,1045.5 L212.7,1045.0 L213.2,1042.7 L213.7,1044.9 L214.2,1043.7 L214.7,1044.5 L215.2,1044.1 L215.7,1044.8 L216.2,1043.4 L216.7,1041.2 L217.2,1041.6 L217.7,1043.7 L218.2,1042.4 L218.7,1043.5 L219.2,1042.4 L219.7,1040.9 L220.2,1042.8 L220.7,1040.8 L221.2,1039.3 L221.7,1043.1 L222.2,1039.0 L222.7,1041.3 L223.2,1041.7 L223.7,1040.7 L224.2,1038.9 L224.7,1041.1 L225.2,1038.5 L225.7,1038.3 L226.2,1039.0 L226.7,1039.6 L227.2,1039.0 L227.7,1039.0 L228.2,1037.7 L228.7,1037.7 L229.2,1036.4 L229.7,1036.8 L230.2,1037.2 L230.7,1036.3 L231.2,1036.6 L231.7,1035.4 L232.2,1034.9 L232.7,1034.8 L233.2,1034.2 L233.7,1034.3 L234.2,1033.5 L234.7,1033.7 L235.2,1032.0 L235.7,1031.4 L236.2,1030.5 L236.7,1030.4 L237.2,1029.9 L237.7,1028.5 L238.2,1027.9 L238.7,1027.2 L239.2,1025.9 L239.7,1024.7 L240.2,1023.9 L240.7,1022.3 L241.2,1020.9 L241.7,1019.7 L242.2,1018.3 L242.7,1016.4 L243.2,1014.8 L243.7,1013.2 L244.2,1011.5 L244.7,1009.2 L245.2,1007.4 L245.7,1004.6 L246.2,1002.2 L246.7,999.4 L247.2,998.0 L247.7,996.1 L248.2,995.3 L248.7,993.9 L249.2,993.5 L249.7,992.7 L250.2,992.1 L250.7,992.3 L251.2,992.0 L251.7,993.0 L252.2,992.3 L252.7,992.5 L253.2,993.5 L253.7,994.5 L254.2,995.3 L254.7,996.1 L255.2,996.4 L255.7,998.2 L256.2,999.6 L256.7,999.9 L257.2,1000.3 L257.7,1001.3 L258.2,1001.5 L258.7,1002.7 L259.2,1002.5 L259.7,1004.0 L260.2,1003.7 L260.7,1002.2 L261.2,1003.3 L261.7,1002.9 L262.2,1001.6 L262.7,1000.7 L263.2,998.6 L263.7,991.5 L264.2,981.1 L264.7,970.6 L265.2,957.0 L265.7,943.7 L266.2,936.7 L266.7,941.1 L267.2,956.3 L267.7,972.4 L268.2,985.0 L268.7,997.5 L269.2,1006.9 L269.7,1011.0 L270.2,1014.3 L270.7,1016.5 L271.2,1018.7 L271.7,1020.6 L272.2,1022.2 L272.7,1022.5 L273.2,1024.0 L273.7,1023.2 L274.2,1023.9 L274.7,1023.7 L275.2,1023.0 L275.7,1024.9 L276.2,1025.8 L276.7,1025.0 L277.2,1025.1 L277.7,1026.6 L278.2,1024.0 L278.7,1024.0 L279.2,1025.2 L279.7,1024.6 L280.2,1027.5 L280.7,1026.5 L281.2,1025.6 L281.7,1026.0 L282.2,1029.3 L282.7,1026.3 L283.2,1026.2 L283.7,1027.4 L284.2,1028.0 L284.7,1027.3 L285.2,1026.2 L285.7,1025.8 L286.2,1028.0 L286.7,1027.3 L287.2,1025.9 L287.7,1029.5 L288.2,1029.4 L288.7,1028.7 L289.2,1029.1 L289.7,1029.8 L290.2,1029.5 L290.7,1029.5 L291.2,1031.1 L291.7,1031.0 L292.2,1032.5 L292.7,1032.8 L293.2,1034.2 L293.7,1035.0 L294.2,1036.6 L294.7,1035.2 L295.2,1034.9 L295.7,1035.6 L296.2,1035.6 L296.7,1036.3 L297.2,1037.5 L297.7,1038.0 L298.2,1039.0 L298.7,1036.4 L299.2,1040.1 L299.7,1039.9 L300.2,1037.1 L300.7,1034.9 L301.2,1037.7 L301.7,1037.9 L302.2,1035.4 L302.7,1038.4 L303.2,1038.0 L303.7,1037.5 L304.2,1039.6 L304.7,1040.3 L305.2,1038.6 L305.7,1039.6 L306.2,1038.8 L306.7,1038.7 L307.2,1039.9 L307.7,1040.7 L308.2,1039.4 L308.7,1037.3 L309.2,1040.8 L309.7,1038.1 L310.2,1040.2 L310.7,1042.3 L311.2,1040.5 L311.7,1039.3 L312.2,1039.2 L312.7,1042.5 L313.2,1041.4 L313.7,1042.1 L314.2,1042.6 L314.7,1041.9 L315.2,1041.9 L315.7,1041.5 L316.2,1040.3 L316.7,1041.2 L317.2,1042.7 L317.7,1043.1 L318.2,1043.9 L318.7,1043.9 L319.2,1044.4 L319.7,1045.1 L320.2,1044.6 L320.7,1045.5 L321.2,1045.4 L321.7,1047.1 L322.2,1047.0 L322.7,1047.7 L323.2,1048.9 L323.7,1049.1 L324.2,1048.5 L324.7,1049.9 L325.2,1047.1 L325.7,1049.7 L326.2,1049.4 L326.7,1047.1 L327.2,1051.1 L327.7,1048.3 L328.2,1050.5 L328.7,1049.2 L329.2,1051.2 L329.7,1051.9 L330.2,1049.0 L330.7,1048.2 L331.2,1050.6 L331.7,1051.9 L332.2,1050.3 L332.7,1049.7 L333.2,1051.3 L333.7,1047.4 L334.2,1050.1 L334.7,1049.1 L335.2,1051.5 L335.7,1049.5 L336.2,1049.0 L336.7,1049.9 L337.2,1047.9 L337.7,1050.0 L338.2,1048.5 L338.7,1048.8 L339.2,1048.6 L339.7,1051.7 L340.2,1050.3 L340.7,1051.2 L341.2,1051.5 L341.7,1049.3 L342.2,1051.7 L342.7,1051.1 L343.2,1051.3 L343.7,1049.2 L344.2,1048.9 L344.7,1051.2 L345.2,1054.3 L345.7,1048.5 L346.2,1051.3 L346.7,1049.7 L347.2,1052.2 L347.7,1051.3 L348.2,1052.4 L348.7,1047.3 L349.2,1050.0 L349.7,1049.4 L350.2,1050.5 L350.7,1049.2 L351.2,1049.4 L351.7,1051.3 L352.2,1053.4 L352.7,1046.6 L353.2,1049.4 L353.7,1050.3 L354.2,1049.6 L354.7,1049.3 L355.2,1047.7 L355.7,1048.9 L356.2,1051.8 L356.7,1052.5 L357.2,1050.8 L357.7,1049.0 L358.2,1050.9 L358.7,1050.2 L359.2,1051.6 L359.7,1050.7 L360.2,1048.2 L360.7,1049.6 L361.2,1046.6 L361.7,1050.6 L362.2,1051.5 L362.7,1047.5 L363.2,1050.6 L363.7,1048.3 L364.2,1052.0 L364.7,1052.2 L365.2,1050.6 L365.7,1051.7 L366.2,1050.0 L366.7,1049.4 L367.2,1049.0 L367.7,1048.7 L368.2,1048.1 L368.7,1047.5 L369.2,1046.5 L369.7,1046.9 L370.2,1047.3 L370.7,1045.5 L371.2,1044.8 L371.7,1046.5 L372.2,1047.2 L372.7,1047.2 L373.2,1047.4 L373.7,1048.6 L374.2,1049.9 L374.7,1047.7 L375.2,1049.9 L375.7,1049.4 L376.2,1048.8 L376.7,1050.8 L377.2,1047.4 L377.7,1050.3 L378.2,1052.7 L378.7,1050.3 L379.2,1048.5 L379.7,1046.8 L380.2,1047.9 L380.7,1047.3 L381.2,1054.0 L381.7,1050.4 L382.2,1048.9 L382.7,1048.3 L383.2,1049.2 L383.7,1050.6 L384.2,1048.9 L384.7,1054.5 L385.2,1050.1 L385.7,1050.0 L386.2,1052.1 L386.7,1054.0 L387.2,1053.2 L387.7,1049.4 L388.2,1050.5 L388.7,1050.3 L389.2,1051.2 L389.7,1050.3 L390.2,1048.2 L390.7,1047.7 L391.2,1050.6 L391.7,1048.5 L392.2,1053.5 L392.7,1050.8 L393.2,1048.9 L393.7,1050.0 L394.2,1049.4 L394.7,1050.0 L395.2,1051.4 L395.7,1047.0 L396.2,1046.0 L396.7,1050.4 L397.2,1049.5 L397.7,1049.5 L398.2,1050.4 L398.7,1049.2 L399.2,1051.3 L399.7,1048.6 L400.2,1049.9 L400.7,1048.5 L401.2,1048.0 L401.7,1051.6 L402.2,1052.0 L402.7,1046.9 L403.2,1048.6 L403.7,1051.0 L404.2,1053.0 L404.7,1050.0 L405.2,1050.5 L405.7,1047.8 L406.2,1055.0 L406.7,1051.4 L407.2,1051.8 L407.7,1051.6 L408.2,1052.2 L408.7,1050.9 L409.2,1049.3 L409.7,1051.4 L410.2,1049.9 L410.7,1052.2 L411.2,1048.3 L411.7,1049.3 L412.2,1051.3 L412.7,1052.6 L413.2,1050.5 L413.7,1048.3 L414.2,1049.8 L414.7,1049.2 L415.2,1053.8 L415.7,1052.0 L416.2,1052.9 L416.7,1050.9 L417.2,1048.7 L417.7,1051.9 L418.2,1053.4 L418.7,1051.1 L419.2,1049.9 L419.7,1052.2 L420.2,1049.3 L420.7,1051.4 L421.2,1048.7 L421.7,1048.3 L422.2,1051.1 L422.7,1050.5 L423.2,1053.6 L423.7,1049.4 L424.2,1049.3 L424.7,1046.9 L425.2,1045.2 L425.7,1045.1 L426.2,1049.6 L426.7,1047.1 L427.2,1051.6 L427.7,1051.9 L428.2,1048.8 L428.7,1053.2 L429.2,1050.8 L429.7,1052.6 L430.2,1049.9 L430.7,1051.9 L431.2,1047.8 L431.7,1050.7 L432.2,1048.5 L432.7,1048.8 L433.2,1049.9 L433.7,1048.4 L434.2,1047.6 L434.7,1049.4 L435.2,1050.0 L435.7,1046.0 L436.2,1049.9 L436.7,1050.8 L437.2,1048.6 L437.7,1050.7 L438.2,1048.4 L438.7,1054.4 L439.2,1051.4 L439.7,1051.4 L440.2,1053.8 L440.7,1050.6 L441.2,1051.6 L441.7,1047.7 L442.2,1048.6 L442.7,1046.8 L443.2,1048.7 L443.7,1051.2 L444.2,1049.9 L444.7,1051.1 L445.2,1047.8 L445.7,1048.2 L446.2,1049.6 L446.7,1051.9 L447.2,1051.6 L447.7,1051.0 L448.2,1051.6 L448.7,1050.2 L449.2,1050.8 L449.7,1053.5 L450.2,1049.8 L450.7,1051.5 L451.2,1054.3 L451.7,1050.5 L452.2,1051.9 L452.7,1049.8 L453.2,1054.7 L453.7,1046.3 L454.2,1048.2 L454.7,1048.4 L455.2,1053.1 L455.7,1050.5 L456.2,1049.9 L456.7,1047.9 L457.2,1051.0 L457.7,1050.4 L458.2,1049.0 L458.7,1047.6 L459.2,1048.2 L459.7,1051.2 L460.2,1051.0 L460.7,1050.3 L461.2,1049.4 L461.7,1045.9 L462.2,1049.2 L462.7,1047.2 L463.2,1048.8 L463.7,1049.3 L464.2,1047.1 L464.7,1046.5 L465.2,1050.6 L465.7,1049.3 L466.2,1047.4 L466.7,1044.5 L467.2,1048.9 L467.7,1050.7 L468.2,1051.5 L468.7,1048.0 L469.2,1048.4 L469.7,1048.9 L470.2,1051.4 L470.7,1047.7 L471.2,1050.3 L471.7,1048.2 L472.2,1050.4 L472.7,1047.1 L473.2,1050.5 L473.7,1048.5 L474.2,1049.1 L474.7,1051.0 L475.2,1052.0 L475.7,1046.0 L476.2,1051.2 L476.7,1049.8 L477.2,1048.5 L477.7,1052.4 L478.2,1050.4 L478.7,1052.2 L479.2,1048.6 L479.7,1048.5 L480.2,1052.6 L480.7,1054.6 L481.2,1052.0 L481.7,1052.4 L482.2,1049.8 L482.7,1047.7 L483.2,1049.6 L483.7,1052.9 L484.2,1046.2 L484.7,1048.5 L485.2,1045.5 L485.7,1049.3 L486.2,1050.6 L486.7,1046.2 L487.2,1048.2 L487.7,1051.8 L488.2,1048.9 L488.7,1046.5 L489.2,1047.0 L489.7,1046.1 L490.2,1051.6 L490.7,1048.7 L491.2,1052.5 L491.7,1052.1 L492.2,1049.0 L492.7,1048.9 L493.2,1051.5 L493.7,1050.3 L494.2,1050.1 L494.7,1046.5 L495.2,1051.4 L495.7,1047.7 L496.2,1045.2 L496.7,1048.2 L497.2,1050.5 L497.7,1053.7 L498.2,1048.6 L498.7,1046.6 L499.2,1053.5 L499.7,1049.9 L500.2,1049.1 L500.7,1047.5 L501.2,1047.8 L501.7,1052.8 L502.2,1049.4 L502.7,1049.0 L503.2,1049.4 L503.7,1053.1 L504.2,1048.6 L504.7,1051.1 L505.2,1050.1 L505.7,1049.9 L506.2,1047.2 L506.7,1050.2 L507.2,1052.2 L507.7,1049.2 L508.2,1047.8 L508.7,1047.3 L509.2,1049.9 L509.7,1048.7 L510.2,1049.3 L510.7,1050.2 L511.2,1047.2 L511.7,1051.3 L512.2,1050.1 L512.7,1049.3 L513.2,1050.3 L513.7,1051.2 L514.2,1050.2 L514.7,1048.1 L515.2,1051.7 L515.7,1048.6 L516.2,1048.0 L516.7,1046.3 L517.2,1049.4 L517.7,1047.0 L518.2,1048.7 L518.7,1050.4 L519.2,1049.8 L519.7,1051.9 L520.2,1050.8 L520.7,1049.4 L521.2,1049.4 L521.7,1048.8 L522.2,1051.1 L522.7,1049.6 L523.2,1048.8 L523.7,1051.2 L524.2,1049.8 L524.7,1048.5 L525.2,1046.6 L525.7,1050.9 L526.2,1050.9 L526.7,1050.8 L527.2,1049.6 L527.7,1048.7 L528.2,1049.7 L528.7,1050.7 L529.2,1050.0 L529.7,1049.6 L530.2,1048.6 L530.7,1049.9 L531.2,1049.0 L531.7,1046.9 L532.2,1049.9 L532.7,1050.2 L533.2,1050.0 L533.7,1048.0 L534.2,1048.5 L534.7,1046.9 L535.2,1050.7 L535.7,1045.4 L536.2,1049.2 L536.7,1049.3 L537.2,1051.5 L537.7,1049.8 L538.2,1048.2 L538.7,1047.1 L539.2,1048.1 L539.7,1049.5 L540.2,1049.4 L540.7,1048.4 L541.2,1047.4 L541.7,1048.7 L542.2,1051.3 L542.7,1047.6 L543.2,1049.6 L543.7,1052.7 L544.2,1050.8 L544.7,1049.1 L545.2,1051.9 L545.7,1048.7 L546.2,1049.7 L546.7,1052.4 L547.2,1052.6 L547.7,1046.0 L548.2,1050.2 L548.7,1052.8 L549.2,1048.2 L549.7,1049.5 L550.2,1052.4 L550.7,1049.2 L551.2,1051.1 L551.7,1050.5 L552.2,1046.8 L552.7,1051.7 L553.2,1050.3 L553.7,1052.1 L554.2,1054.4 L554.7,1051.3 L555.2,1049.0 L555.7,1050.7 L556.2,1049.9 L556.7,1051.5 L557.2,1046.7 L557.7,1047.3 L558.2,1046.0 L558.7,1051.0 L559.2,1049.9 L559.7,1048.1 L560.2,1047.9 L560.7,1048.0 L561.2,1047.1 L561.7,1048.6 L562.2,1048.7 L562.7,1052.0 L563.2,1049.7 L563.7,1047.5 L564.2,1048.3 L564.7,1051.7 L565.2,1050.2 L565.7,1050.3 L566.2,1051.1 L566.7,1052.0 L567.2,1046.5 L567.7,1047.6 L568.2,1045.7 L568.7,1049.7 L569.2,1048.0 L569.7,1047.7 L570.2,1047.1 L570.7,1049.7 L571.2,1048.0 L571.7,1047.1 L572.2,1050.5 L572.7,1046.1 L573.2,1046.0 L573.7,1052.5 L574.2,1047.7 L574.7,1047.4 L575.2,1046.7 L575.7,1048.2 L576.2,1050.4 L576.7,1051.1 L577.2,1050.3 L577.7,1048.8 L578.2,1046.6 L578.7,1049.9 L579.2,1052.7 L579.7,1052.1 L580.2,1050.0 L580.7,1051.7 L581.2,1048.6 L581.7,1049.5 L582.2,1047.1 L582.7,1048.8 L583.2,1049.9 L583.7,1048.7 L584.2,1050.2 L584.7,1052.4 L585.2,1051.4 L585.7,1048.6 L586.2,1047.5 L586.7,1047.9 L587.2,1047.2 L587.7,1049.3 L588.2,1050.5 L588.7,1050.3 L589.2,1050.5 L589.7,1050.5 L590.2,1049.7 L590.7,1049.0 L591.2,1053.7 L591.7,1052.8 L592.2,1048.8 L592.7,1048.8 L593.2,1049.2 L593.7,1049.8 L594.2,1051.8 L594.7,1051.6 L595.2,1051.0 L595.7,1050.5 L596.2,1050.0 L596.7,1049.3 L597.2,1048.6 L597.7,1047.5 L598.2,1044.8 L598.7,1048.3 L599.2,1052.2 L599.7,1048.2 L600.2,1048.3 L600.7,1051.8 L601.2,1049.9 L601.7,1048.9 L602.2,1053.0 L602.7,1051.1 L603.2,1051.4 L603.7,1048.6 L604.2,1050.6 L604.7,1050.5 L605.2,1051.2 L605.7,1052.2 L606.2,1052.3 L606.7,1050.6 L607.2,1051.8 L607.7,1048.0 L608.2,1051.5 L608.7,1051.5 L609.2,1049.0 L609.7,1048.0 L610.2,1049.6 L610.7,1047.1 L611.2,1049.2 L611.7,1049.0 L612.2,1046.7 L612.7,1048.3 L613.2,1050.7 L613.7,1051.3 L614.2,1051.6 L614.7,1049.0 L615.2,1048.8 L615.7,1049.5 L616.2,1051.5 L616.7,1054.4 L617.2,1053.2 L617.7,1053.1 L618.2,1052.5 L618.7,1046.4 L619.2,1049.2 L619.7,1048.6 L620.2,1051.7 L620.7,1052.5 L621.2,1047.8 L621.7,1049.3 L622.2,1050.5 L622.7,1048.1 L623.2,1048.0 L623.7,1047.7 L624.2,1050.6 L624.7,1047.3 L625.2,1051.3 L625.7,1050.0 L626.2,1051.1 L626.7,1052.3 L627.2,1048.3 L627.7,1047.5 L628.2,1050.5 L628.7,1047.8 L629.2,1048.3 L629.7,1049.4 L630.2,1049.3 L630.7,1046.6 L631.2,1048.3 L631.7,1050.0 L632.2,1052.1 L632.7,1045.1 L633.2,1051.6 L633.7,1050.5 L634.2,1046.9 L634.7,1046.2 L635.2,1049.6 L635.7,1048.2 L636.2,1049.4 L636.7,1050.7 L637.2,1048.6 L637.7,1049.1 L638.2,1050.0 L638.7,1050.5 L639.2,1052.3 L639.7,1052.7 L640.2,1049.5 L640.7,1048.5 L641.2,1053.0 L641.7,1049.9 L642.2,1049.3 L642.7,1046.3 L643.2,1050.0 L643.7,1047.0 L644.2,1047.0 L644.7,1045.8 L645.2,1047.6 L645.7,1048.8 L646.2,1045.8 L646.7,1047.1 L647.2,1049.1 L647.7,1047.2 L648.2,1047.3 L648.7,1048.3 L649.2,1047.3 L649.7,1051.1 L650.2,1048.3 L650.7,1051.8 L651.2,1052.4 L651.7,1047.9 L652.2,1050.0 L652.7,1048.8 L653.2,1047.9 L653.7,1049.1 L654.2,1049.1 L654.7,1050.7 L655.2,1051.4 L655.7,1046.8 L656.2,1048.2 L656.7,1049.8 L657.2,1051.3 L657.7,1045.0 L658.2,1051.6 L658.7,1049.1 L659.2,1051.8 L659.7,1047.7 L660.2,1047.3 L660.7,1049.0 L661.2,1051.0 L661.7,1049.0 L662.2,1044.4 L662.7,1050.3 L663.2,1045.9 L663.7,1047.6 L664.2,1047.4 L664.7,1046.3 L665.2,1047.5 L665.7,1048.0 L666.2,1047.9 L666.7,1048.7 L667.2,1048.4 L667.7,1046.3 L668.2,1048.5 L668.7,1050.9 L669.2,1051.0 L669.7,1049.4 L670.2,1050.4 L670.7,1051.4 L671.2,1052.4 L671.7,1052.2 L672.2,1048.4 L672.7,1049.0 L673.2,1052.5 L673.7,1052.3 L674.2,1052.0 L674.7,1044.6 L675.2,1048.8 L675.7,1045.1 L676.2,1051.2 L676.7,1049.9 L677.2,1049.3 L677.7,1048.3 L678.2,1051.5 L678.7,1048.4 L679.2,1051.7 L679.7,1050.2 L680.2,1049.5 L680.7,1049.3 L681.2,1048.6 L681.7,1046.7 L682.2,1050.5 L682.7,1050.4 L683.2,1048.6 L683.7,1049.8 L684.2,1050.3 L684.7,1046.2 L685.2,1048.5 L685.7,1047.9 L686.2,1047.6 L686.7,1049.8 L687.2,1047.4 L687.7,1048.6 L688.2,1050.0 L688.7,1050.8 L689.2,1050.6 L689.7,1054.6 L690.2,1049.1 L690.7,1050.0 L691.2,1047.5 L691.7,1050.9 L692.2,1051.9 L692.7,1051.6 L693.2,1047.5 L693.7,1048.6 L694.2,1051.3 L694.7,1049.0 L695.2,1050.6 L695.7,1047.0 L696.2,1051.7 L696.7,1050.7 L697.2,1050.0 L697.7,1048.2 L698.2,1049.2 L698.7,1050.0 L699.2,1050.1 L699.7,1049.9 L700.2,1049.4 L700.7,1049.8 L701.2,1052.6 L701.7,1045.8 L702.2,1046.5 L702.7,1046.1 L703.2,1047.8 L703.7,1045.6 L704.2,1049.7 L704.7,1048.6 L705.2,1048.2 L705.7,1047.0 L706.2,1048.8 L706.7,1049.2 L707.2,1049.9 L707.7,1047.5 L708.2,1050.2 L708.7,1046.3 L709.2,1051.8 L709.7,1045.3 L710.2,1048.9 L710.7,1047.6 L711.2,1051.0 L711.7,1046.3 L712.2,1052.8 L712.7,1046.7 L713.2,1053.6 L713.7,1050.8 L714.2,1050.0 L714.7,1050.6 L715.2,1053.8 L715.7,1051.4 L716.2,1045.5 L716.7,1051.8 L717.2,1049.9 L717.7,1046.4 L718.2,1051.0 L718.7,1047.0 L719.2,1049.7 L719.7,1050.1 L720.2,1048.4 L720.7,1050.9 L721.2,1047.7 L721.7,1050.2 L722.2,1048.0 L722.7,1048.7 L723.2,1052.8 L723.7,1049.4 L724.2,1047.1 L724.7,1049.2 L725.2,1048.2 L725.7,1050.2 L726.2,1050.2 L726.7,1051.0 L727.2,1050.7 L727.7,1049.4 L728.2,1051.4 L728.7,1052.2 L729.2,1049.0 L729.7,1049.7 L730.2,1049.7 L730.7,1051.8 L731.2,1050.7 L731.7,1047.1 L732.2,1048.6 L732.7,1045.6 L733.2,1046.9 L733.7,1048.5 L734.2,1050.0 L734.7,1050.3 L735.2,1048.1 L735.7,1046.7 L736.2,1050.2 L736.7,1048.7 L737.2,1050.0 L737.7,1049.4 L738.2,1050.5 L738.7,1050.5 L739.2,1050.8 L739.7,1048.5 L740.2,1051.1 L740.7,1048.8 L741.2,1050.0 L741.7,1053.2 L742.2,1050.4 L742.7,1047.8 L743.2,1052.5 L743.7,1051.6 L744.2,1052.0 L744.7,1050.1 L745.2,1049.9 L745.7,1049.1 L746.2,1048.3 L746.7,1052.1 L747.2,1048.2 L747.7,1048.1 L748.2,1048.3 L748.7,1052.6 L749.2,1050.9 L749.7,1048.6 L750.2,1049.2 L750.7,1050.4 L751.2,1051.3 L751.7,1046.7 L752.2,1051.1 L752.7,1048.7 L753.2,1047.8 L753.7,1048.2 L754.2,1049.9 L754.7,1051.7 L755.2,1048.4 L755.7,1049.0 L756.2,1046.5 L756.7,1049.2 L757.2,1050.1 L757.7,1045.8 L758.2,1047.5 L758.7,1050.5 L759.2,1045.7 L759.7,1048.3 L760.2,1050.6 L760.7,1046.3 L761.2,1048.7 L761.7,1049.5 L762.2,1050.9 L762.7,1046.7 L763.2,1051.0 L763.7,1049.5 L764.2,1050.9 L764.7,1050.4 L765.2,1049.0 L765.7,1049.1 L766.2,1045.5 L766.7,1045.9 L767.2,1046.9 L767.7,1047.4 L768.2,1049.6 L768.7,1045.0 L769.2,1047.8 L769.7,1045.9 L770.2,1045.6 L770.7,1050.9 L771.2,1048.8 L771.7,1051.3 L772.2,1051.0 L772.7,1046.8 L773.2,1045.2 L773.7,1052.0 L774.2,1047.6 L774.7,1046.4 L775.2,1048.9 L775.7,1047.9 L776.2,1046.7 L776.7,1047.1 L777.2,1048.6 L777.7,1048.8 L778.2,1049.8 L778.7,1047.8 L779.2,1047.8 L779.7,1049.5 L780.2,1048.7 L780.7,1049.6 L781.2,1047.3 L781.7,1047.3 L782.2,1045.3 L782.7,1049.1 L783.2,1044.9 L783.7,1047.3 L784.2,1045.5 L784.7,1047.6 L785.2,1048.3 L785.7,1044.4 L786.2,1046.6 L786.7,1044.4 L787.2,1049.7 L787.7,1046.5 L788.2,1044.5 L788.7,1045.7 L789.2,1048.7 L789.7,1048.8 L790.2,1048.7 L790.7,1045.8 L791.2,1046.4 L791.7,1048.3 L792.2,1045.6 L792.7,1046.2 L793.2,1045.3 L793.7,1045.2 L794.2,1047.9 L794.7,1047.1 L795.2,1046.5 L795.7,1046.5 L796.2,1046.7 L796.7,1046.9 L797.2,1045.0 L797.7,1044.5 L798.2,1043.4 L798.7,1045.2 L799.2,1043.3 L799.7,1042.4 L800.2,1043.2 L800.7,1043.3 L801.2,1043.5 L801.7,1043.1 L802.2,1041.8 L802.7,1041.2 L803.2,1040.8 L803.7,1039.7 L804.2,1039.5 L804.7,1039.0 L805.2,1038.0 L805.7,1036.5 L806.2,1036.0 L806.7,1036.1 L807.2,1034.5 L807.7,1034.1 L808.2,1033.0 L808.7,1031.8 L809.2,1030.6 L809.7,1030.5 L810.2,1029.4 L810.7,1029.2 L811.2,1028.8 L811.7,1027.7 L812.2,1027.6 L812.7,1027.3 L813.2,1026.3 L813.7,1027.0 L814.2,1026.0 L814.7,1024.7 L815.2,1027.2 L815.7,1027.5 L816.2,1027.4 L816.7,1026.7 L817.2,1029.0 L817.7,1029.2 L818.2,1029.5 L818.7,1029.9 L819.2,1029.4 L819.7,1030.5 L820.2,1030.7 L820.7,1032.9 L821.2,1032.4 L821.7,1033.7 L822.2,1033.3 L822.7,1034.2 L823.2,1035.1 L823.7,1036.4 L824.2,1037.0 L824.7,1037.6 L825.2,1037.2 L825.7,1039.1 L826.2,1038.6 L826.7,1040.5 L827.2,1041.1 L827.7,1041.0 L828.2,1041.6 L828.7,1040.7 L829.2,1043.1 L829.7,1042.3 L830.2,1043.4 L830.7,1042.4 L831.2,1043.3 L831.7,1041.5 L832.2,1043.1 L832.7,1043.2 L833.2,1043.3 L833.7,1043.7 L834.2,1042.6 L834.7,1041.2 L835.2,1035.2 L835.7,1025.7 L836.2,1015.3 L836.7,1006.7 L837.2,996.7 L837.7,986.6 L838.2,978.4 L838.7,974.3 L839.2,976.9 L839.7,984.9 L840.2,994.7 L840.7,1003.1 L841.2,1011.5 L841.7,1019.8 L842.2,1026.9 L842.7,1031.9 L843.2,1036.0 L843.7,1039.8 L844.2,1042.3 L844.7,1043.5 L845.2,1044.9 L845.7,1045.4 L846.2,1044.1 L846.7,1045.5 L847.2,1047.1 L847.7,1046.1 L848.2,1045.6 L848.7,1046.9 L849.2,1047.0 L849.7,1046.4 L850.2,1045.9 L850.7,1046.3 L851.2,1047.2 L851.7,1046.3 L852.2,1048.8 L852.7,1048.4 L853.2,1048.4 L853.7,1049.3 L854.2,1048.7 L854.7,1048.6 L855.2,1047.2 L855.7,1046.3 L856.2,1050.0 L856.7,1046.0 L857.2,1046.1 L857.7,1045.9 L858.2,1048.0 L858.7,1048.5 L859.2,1049.5 L859.7,1047.6 L860.2,1045.4 L860.7,1048.5 L861.2,1049.5 L861.7,1048.2 L862.2,1048.0 L862.7,1049.3 L863.2,1050.3 L863.7,1048.1 L864.2,1045.9 L864.7,1047.2 L865.2,1047.7 L865.7,1045.2 L866.2,1049.3 L866.7,1046.9 L867.2,1048.8 L867.7,1048.8 L868.2,1047.9 L868.7,1051.0 L869.2,1047.7 L869.7,1047.8 L870.2,1049.4 L870.7,1050.5 L871.2,1049.1 L871.7,1047.8 L872.2,1050.4 L872.7,1050.3 L873.2,1053.1 L873.7,1049.3 L874.2,1050.1 L874.7,1049.1 L875.2,1047.6 L875.7,1050.3 L876.2,1051.5 L876.7,1048.5 L877.2,1049.4 L877.7,1048.3 L878.2,1052.5 L878.7,1049.0 L879.2,1051.1 L879.7,1048.8 L880.2,1050.2 L880.7,1049.3 L881.2,1046.5 L881.7,1049.9 L882.2,1050.9 L882.7,1046.2 L883.2,1049.8 L883.7,1049.4 L884.2,1047.5 L884.7,1048.9 L885.2,1045.6 L885.7,1049.6 L886.2,1051.2 L886.7,1046.8 L887.2,1049.2 L887.7,1051.5 L888.2,1049.2 L888.7,1048.3 L889.2,1048.1 L889.7,1050.5 L890.2,1049.6 L890.7,1050.8 L891.2,1046.8 L891.7,1051.5 L892.2,1048.9 L892.7,1051.0 L893.2,1048.5 L893.7,1047.1 L894.2,1048.1 L894.7,1047.8 L895.2,1049.3 L895.7,1051.4 L896.2,1052.1 L896.7,1050.6 L897.2,1049.1 L897.7,1049.5 L898.2,1051.5 L898.7,1052.6 L899.2,1049.1 L899.7,1049.5 L900.2,1048.8 L900.7,1050.7 L901.2,1051.9 L901.7,1045.5 L902.2,1050.5 L902.7,1049.0 L903.2,1045.8 L903.7,1051.1 L904.2,1050.1 L904.7,1050.7 L905.2,1047.7 L905.7,1054.2 L906.2,1051.2 L906.7,1050.2 L907.2,1053.7 L907.7,1052.3 L908.2,1052.8 L908.7,1053.6 L909.2,1048.0 L909.7,1054.2 L910.2,1051.0 L910.7,1051.7 L911.2,1052.5 L911.7,1049.8 L912.2,1051.5 L912.7,1052.0 L913.2,1050.4 L913.7,1051.2 L914.2,1047.7 L914.7,1048.1 L915.2,1048.2" fill="none" stroke="#26527a" stroke-width="3.5" stroke-linejoin="round" stroke-linecap="round"/>
</g>
<rect x="122.4" y="792.7" width="793.2" height="281.7" fill="none" stroke="#2b2b2b" stroke-width="1.4"/>
<text font-size="27.5" textLength="31.81" lengthAdjust="spacingAndGlyphs" x="107.20" y="1109.00">40</text>
<text font-size="27.5" textLength="31.81" lengthAdjust="spacingAndGlyphs" x="217.10" y="1109.00">45</text>
<text font-size="27.5" textLength="31.81" lengthAdjust="spacingAndGlyphs" x="326.48" y="1109.00">50</text>
<text font-size="27.5" textLength="31.81" lengthAdjust="spacingAndGlyphs" x="436.38" y="1109.00">55</text>
<text font-size="27.5" textLength="31.81" lengthAdjust="spacingAndGlyphs" x="546.28" y="1109.00">60</text>
<text font-size="27.5" textLength="31.81" lengthAdjust="spacingAndGlyphs" x="656.18" y="1109.00">65</text>
<text font-size="27.5" textLength="31.81" lengthAdjust="spacingAndGlyphs" x="766.08" y="1109.00">70</text>
<text font-size="27.5" textLength="31.81" lengthAdjust="spacingAndGlyphs" x="875.98" y="1109.00">75</text>
<text font-size="45.5" font-weight="bold" textLength="32.39" lengthAdjust="spacingAndGlyphs" stroke="#000" stroke-width="1.4" x="81.70" y="787.40">b</text>
<text font-size="32" textLength="205.71" lengthAdjust="spacingAndGlyphs" transform="translate(105.00 1034.00) rotate(-90)" x="-2.03" y="0">Intensity (a.u.)</text>
<text font-size="32" x="481.50" y="1155.00">2</text>
<text font-size="32" font-style="italic" textLength="16.85" lengthAdjust="spacingAndGlyphs" x="498.53" y="1155.00">θ</text>
<text font-size="32" textLength="33.62" lengthAdjust="spacingAndGlyphs" x="524.51" y="1155.00">(°)</text>
<line x1="357.6" y1="935.6" x2="384.3" y2="935.6" stroke="#8e003b" stroke-width="2.8"/>
<text font-size="27" fill="#8e003b" textLength="89.12" lengthAdjust="spacingAndGlyphs" x="397.74" y="944.10">IM-PNR</text>
<line x1="357.6" y1="1027.7" x2="384.3" y2="1027.7" stroke="#26527a" stroke-width="2.8"/>
<text font-size="27" fill="#26527a" textLength="34.39" lengthAdjust="spacingAndGlyphs" x="398.07" y="1036.10">PC</text>
<text font-size="26.5" fill="#990000" textLength="74.72" lengthAdjust="spacingAndGlyphs" transform="translate(200.00 838.20) rotate(90)" x="-1.85" y="0">KNN-T</text>
<text font-size="26.5" fill="#990000" textLength="82.68" lengthAdjust="spacingAndGlyphs" transform="translate(236.10 800.10) rotate(90)" x="-1.90" y="0">KNN-M</text>
<text font-size="26.5" fill="#990000" textLength="68.45" lengthAdjust="spacingAndGlyphs" transform="translate(277.60 849.40) rotate(90)" x="-1.87" y="0">NSTO</text>
<text font-size="27.5" fill="#990000" textLength="67.57" lengthAdjust="spacingAndGlyphs" x="268.35" y="826.90">(002)</text>
<text font-size="19" fill="#990000" textLength="8.66" lengthAdjust="spacingAndGlyphs" x="337.00" y="835.10">c</text>
<text font-size="26.5" fill="#26527a" textLength="78.50" lengthAdjust="spacingAndGlyphs" transform="translate(241.50 911.30) rotate(90)" x="-1.87" y="0">KNN-C</text>
<text font-size="26.5" fill="#26527a" textLength="68.45" lengthAdjust="spacingAndGlyphs" transform="translate(279.30 952.40) rotate(90)" x="-1.87" y="0">NSTO</text>
<text font-size="27.5" fill="#990000" textLength="68.81" lengthAdjust="spacingAndGlyphs" x="799.93" y="827.80">(003)</text>
<text font-size="19" fill="#990000" textLength="8.97" lengthAdjust="spacingAndGlyphs" x="869.50" y="836.00">c</text>
<text font-size="26.5" fill="#990000" textLength="75.34" lengthAdjust="spacingAndGlyphs" transform="translate(762.50 855.00) rotate(90)" x="-1.86" y="0">KNN-T</text>
<text font-size="26.5" fill="#990000" textLength="84.36" lengthAdjust="spacingAndGlyphs" transform="translate(800.00 835.60) rotate(90)" x="-1.94" y="0">KNN-M</text>
<text font-size="26.5" fill="#990000" textLength="69.90" lengthAdjust="spacingAndGlyphs" transform="translate(849.00 855.00) rotate(90)" x="-1.91" y="0">NSTO</text>
<text font-size="26.5" fill="#26527a" textLength="87.54" lengthAdjust="spacingAndGlyphs" transform="translate(804.50 939.00) rotate(90)" x="-1.72" y="0">KNN-PC</text>
<text font-size="26.5" fill="#26527a" textLength="69.17" lengthAdjust="spacingAndGlyphs" transform="translate(849.00 969.80) rotate(90)" x="-1.89" y="0">NSTO</text>
<path d="M1236.6,849.4 L1240.1,850.4 L1243.0,851.4 L1243.9,852.4 L1246.3,853.4 L1247.4,854.4 L1248.0,855.4 L1249.5,856.4 L1249.3,857.4 L1251.1,858.4 L1250.8,859.4 L1253.9,860.4 L1252.9,861.4 L1255.1,862.4 L1253.4,863.4 L1255.1,864.4 L1258.7,865.4 L1256.8,866.4 L1255.5,867.4 L1256.0,868.4 L1259.2,869.4 L1257.5,870.4 L1258.0,871.4 L1257.9,872.4 L1258.8,873.4 L1257.8,874.4 L1258.3,875.4 L1258.7,876.4 L1257.8,877.4 L1256.8,878.4 L1257.1,879.4 L1260.0,880.4 L1255.3,881.4 L1255.7,882.4 L1252.5,883.4 L1254.1,884.4 L1254.7,885.4 L1250.9,886.4 L1251.6,887.4 L1249.0,888.4 L1249.7,889.4 L1250.9,890.4 L1248.2,891.4 L1246.0,892.4 L1245.0,893.4 L1245.6,894.4 L1246.2,895.4 L1245.1,896.4 L1245.3,897.4 L1244.0,898.4 L1245.3,899.4 L1244.9,900.4 L1244.4,901.4 L1245.8,902.4 L1245.3,903.4 L1244.8,904.4 L1246.9,905.4 L1244.1,906.4 L1246.3,907.4 L1244.7,908.4 L1245.9,909.4 L1251.1,910.4 L1244.4,911.4 L1245.1,912.4 L1245.7,913.4 L1244.4,914.4 L1251.0,915.4 L1244.3,916.4 L1245.4,917.4 L1244.7,918.4 L1245.0,919.4 L1245.9,920.4 L1251.4,921.4 L1244.6,922.4 L1245.1,923.4 L1244.5,924.4 L1245.0,925.4 L1244.6,926.4 L1247.5,927.4 L1249.8,928.4 L1245.5,929.4 L1245.2,930.4 L1243.5,931.4 L1243.9,932.4 L1243.8,933.4 L1245.9,934.4 L1246.5,935.4 L1244.4,936.4 L1242.6,937.4 L1243.0,938.4 L1242.4,939.4 L1243.1,940.4 L1242.6,941.4 L1244.7,942.4 L1241.1,943.4 L1243.0,944.4 L1240.7,945.4 L1246.9,946.4 L1242.0,947.4 L1241.0,948.4 L1240.9,949.4 L1240.3,950.4 L1244.4,951.4 L1239.8,952.4 L1241.1,953.4 L1241.6,954.4 L1240.5,955.4 L1238.1,956.4 L1237.7,957.4 L1240.0,958.4 L1237.6,959.4 L1236.7,960.4 L1236.2,961.4 L1235.2,962.4 L1236.0,963.4 L1235.1,964.4 L1233.8,965.4 L1237.9,966.4 L1233.6,967.4 L1231.6,968.4 L1231.4,969.4 L1232.4,970.4 L1230.0,971.4 L1232.6,972.4 L1228.6,973.4 L1230.1,974.4 L1228.8,975.4 L1227.5,976.4 L1228.4,977.4 L1228.5,978.4 L1229.2,979.4 L1227.4,980.4 L1228.8,981.4 L1230.4,982.4 L1229.1,983.4 L1228.0,984.4 L1227.9,985.4 L1228.0,986.4 L1227.3,987.4 L1227.8,988.4 L1231.1,989.4 L1230.8,990.4 L1228.8,991.4 L1229.0,992.4 L1227.7,993.4 L1230.0,994.4 L1229.9,995.4 L1229.0,996.4 L1228.6,997.4 L1228.9,998.4 L1228.0,999.4 L1228.0,1000.4 L1231.0,1001.4 L1230.5,1002.4 L1230.8,1003.4 L1230.9,1004.4 L1231.2,1005.4 L1227.5,1006.4 L1229.6,1007.4 L1227.2,1008.4 L1231.2,1009.4 L1227.9,1010.4 L1230.3,1011.4 L1225.7,1012.4 L1226.8,1013.4 L1225.6,1014.4 L1224.3,1015.4 L1222.5,1016.4 L1223.1,1017.4 L1220.3,1018.4 L1220.6,1019.4 L1217.0,1020.4 L1214.9,1021.4 L1215.6,1022.4 L1195.6,1022.4 L1189.6,1021.4 L1189.8,1020.4 L1184.0,1019.4 L1185.2,1018.4 L1183.5,1017.4 L1180.7,1016.4 L1178.6,1015.4 L1180.1,1014.4 L1178.6,1013.4 L1178.2,1012.4 L1177.1,1011.4 L1176.8,1010.4 L1174.6,1009.4 L1174.2,1008.4 L1171.8,1007.4 L1173.4,1006.4 L1167.6,1005.4 L1172.8,1004.4 L1171.8,1003.4 L1168.9,1002.4 L1165.2,1001.4 L1170.1,1000.4 L1169.6,999.4 L1165.1,998.4 L1168.6,997.4 L1169.2,996.4 L1169.7,995.4 L1169.5,994.4 L1168.1,993.4 L1168.5,992.4 L1168.3,991.4 L1163.0,990.4 L1169.5,989.4 L1168.1,988.4 L1169.2,987.4 L1169.9,986.4 L1164.3,985.4 L1168.6,984.4 L1169.7,983.4 L1171.4,982.4 L1171.2,981.4 L1166.9,980.4 L1173.0,979.4 L1172.0,978.4 L1175.9,977.4 L1175.9,976.4 L1175.0,975.4 L1180.1,974.4 L1180.1,973.4 L1183.3,972.4 L1183.9,971.4 L1181.1,970.4 L1190.6,969.4 L1192.0,968.4 L1189.9,967.4 L1193.6,966.4 L1193.5,965.4 L1194.2,964.4 L1192.3,963.4 L1194.5,962.4 L1193.8,961.4 L1192.0,960.4 L1192.8,959.4 L1192.1,958.4 L1194.4,957.4 L1191.6,956.4 L1194.6,955.4 L1189.0,954.4 L1191.4,953.4 L1193.3,952.4 L1193.3,951.4 L1193.2,950.4 L1193.3,949.4 L1190.4,948.4 L1191.9,947.4 L1193.2,946.4 L1193.0,945.4 L1191.0,944.4 L1193.2,943.4 L1192.2,942.4 L1191.8,941.4 L1186.8,940.4 L1192.0,939.4 L1188.3,938.4 L1191.4,937.4 L1191.8,936.4 L1190.2,935.4 L1185.6,934.4 L1191.6,933.4 L1192.2,932.4 L1191.2,931.4 L1190.5,930.4 L1187.7,929.4 L1190.2,928.4 L1193.0,927.4 L1192.0,926.4 L1190.8,925.4 L1193.3,924.4 L1192.5,923.4 L1192.0,922.4 L1193.5,921.4 L1192.7,920.4 L1192.9,919.4 L1190.9,918.4 L1194.0,917.4 L1192.8,916.4 L1192.3,915.4 L1195.3,914.4 L1195.4,913.4 L1191.6,912.4 L1194.4,911.4 L1196.2,910.4 L1193.7,909.4 L1196.8,908.4 L1195.9,907.4 L1196.6,906.4 L1197.6,905.4 L1197.6,904.4 L1194.5,903.4 L1199.9,902.4 L1200.0,901.4 L1201.3,900.4 L1199.9,899.4 L1202.0,898.4 L1202.6,897.4 L1201.6,896.4 L1204.7,895.4 L1202.4,894.4 L1202.5,893.4 L1205.6,892.4 L1206.9,891.4 L1206.5,890.4 L1207.2,889.4 L1207.5,888.4 L1210.5,887.4 L1210.8,886.4 L1212.8,885.4 L1213.2,884.4 L1211.4,883.4 L1209.9,882.4 L1214.2,881.4 L1212.6,880.4 L1210.7,879.4 L1209.7,878.4 L1212.8,877.4 L1210.3,876.4 L1207.1,875.4 L1211.6,874.4 L1211.3,873.4 L1208.5,872.4 L1210.7,871.4 L1208.8,870.4 L1208.6,869.4 L1209.9,868.4 L1211.1,867.4 L1209.9,866.4 L1212.1,865.4 L1210.0,864.4 L1212.0,863.4 L1212.4,862.4 L1212.7,861.4 L1213.3,860.4 L1214.1,859.4 L1213.2,858.4 L1215.4,857.4 L1210.9,856.4 L1215.6,855.4 L1215.5,854.4 L1216.6,853.4 L1219.2,852.4 L1218.7,851.4 L1221.6,850.4 L1229.7,849.4Z" fill="#3b78b8"/>
<path d="M1239.8,853.4 L1243.4,854.4 L1243.6,855.4 L1246.1,856.4 L1247.1,857.4 L1247.9,858.4 L1248.1,859.4 L1251.1,860.4 L1251.6,861.4 L1250.6,862.4 L1251.3,863.4 L1253.6,864.4 L1252.4,865.4 L1254.6,866.4 L1253.3,867.4 L1252.5,868.4 L1253.1,869.4 L1252.6,870.4 L1252.4,871.4 L1253.0,872.4 L1253.4,873.4 L1251.8,874.4 L1252.0,875.4 L1251.4,876.4 L1251.0,877.4 L1251.8,878.4 L1251.2,879.4 L1249.8,880.4 L1248.9,881.4 L1248.3,882.4 L1246.5,883.4 L1244.8,884.4 L1244.0,885.4 L1241.7,886.4 L1240.6,887.4 L1239.0,888.4 L1232.8,888.4 L1230.7,887.4 L1229.7,886.4 L1227.1,885.4 L1226.8,884.4 L1224.7,883.4 L1224.1,882.4 L1224.3,881.4 L1223.0,880.4 L1222.5,879.4 L1221.7,878.4 L1219.5,877.4 L1220.9,876.4 L1220.1,875.4 L1219.9,874.4 L1218.8,873.4 L1218.9,872.4 L1219.4,871.4 L1219.0,870.4 L1219.6,869.4 L1219.2,868.4 L1220.2,867.4 L1220.5,866.4 L1219.6,865.4 L1221.3,864.4 L1221.6,863.4 L1221.8,862.4 L1221.3,861.4 L1222.5,860.4 L1224.0,859.4 L1224.4,858.4 L1225.4,857.4 L1227.1,856.4 L1229.2,855.4 L1230.4,854.4 L1233.8,853.4Z" fill="#9ebddc"/>
<path d="M1226.8,897.7 L1228.7,898.7 L1230.5,899.7 L1231.7,900.7 L1231.7,901.7 L1232.4,902.7 L1234.8,903.7 L1234.3,904.7 L1233.7,905.7 L1235.4,906.7 L1235.9,907.7 L1234.7,908.7 L1235.9,909.7 L1235.6,910.7 L1234.6,911.7 L1234.6,912.7 L1235.0,913.7 L1236.7,914.7 L1235.3,915.7 L1235.6,916.7 L1235.9,917.7 L1235.4,918.7 L1236.0,919.7 L1235.9,920.7 L1236.2,921.7 L1237.0,922.7 L1236.2,923.7 L1236.5,924.7 L1236.9,925.7 L1237.2,926.7 L1237.1,927.7 L1237.3,928.7 L1237.3,929.7 L1239.3,930.7 L1238.1,931.7 L1237.2,932.7 L1237.7,933.7 L1237.4,934.7 L1237.3,935.7 L1237.1,936.7 L1237.1,937.7 L1236.2,938.7 L1236.1,939.7 L1235.2,940.7 L1235.4,941.7 L1234.5,942.7 L1234.4,943.7 L1234.1,944.7 L1233.3,945.7 L1233.7,946.7 L1233.0,947.7 L1233.1,948.7 L1233.0,949.7 L1232.5,950.7 L1232.1,951.7 L1231.2,952.7 L1230.6,953.7 L1230.3,954.7 L1230.4,955.7 L1229.5,956.7 L1227.6,957.7 L1227.0,958.7 L1223.0,959.7 L1219.8,960.7 L1218.7,961.7 L1216.4,962.7 L1210.0,962.7 L1209.9,961.7 L1207.8,960.7 L1207.6,959.7 L1207.2,958.7 L1208.0,957.7 L1207.9,956.7 L1207.1,955.7 L1205.9,954.7 L1206.3,953.7 L1205.6,952.7 L1205.3,951.7 L1203.9,950.7 L1203.7,949.7 L1203.8,948.7 L1203.0,947.7 L1202.2,946.7 L1202.6,945.7 L1201.8,944.7 L1201.7,943.7 L1201.2,942.7 L1200.6,941.7 L1198.9,940.7 L1200.4,939.7 L1199.8,938.7 L1200.6,937.7 L1200.4,936.7 L1200.2,935.7 L1200.3,934.7 L1200.3,933.7 L1200.3,932.7 L1200.6,931.7 L1201.0,930.7 L1200.0,929.7 L1200.7,928.7 L1200.5,927.7 L1200.6,926.7 L1200.4,925.7 L1202.1,924.7 L1202.0,923.7 L1202.3,922.7 L1202.7,921.7 L1202.8,920.7 L1203.0,919.7 L1204.0,918.7 L1204.0,917.7 L1202.7,916.7 L1204.5,915.7 L1203.6,914.7 L1204.7,913.7 L1204.2,912.7 L1203.5,911.7 L1205.1,910.7 L1205.1,909.7 L1205.0,908.7 L1205.2,907.7 L1204.4,906.7 L1205.8,905.7 L1205.2,904.7 L1206.3,903.7 L1204.2,902.7 L1205.6,901.7 L1206.3,900.7 L1205.0,899.7 L1211.5,898.7 L1221.0,897.7Z" fill="#9ebddc"/>
<path d="M1200.9,984.2 L1204.5,985.2 L1207.7,986.2 L1210.2,987.2 L1212.7,988.2 L1215.4,989.2 L1215.8,990.2 L1216.2,991.2 L1216.1,992.2 L1216.5,993.2 L1218.6,994.2 L1217.7,995.2 L1218.3,996.2 L1219.0,997.2 L1219.1,998.2 L1218.2,999.2 L1218.3,1000.2 L1219.9,1001.2 L1219.3,1002.2 L1219.7,1003.2 L1218.7,1004.2 L1217.5,1005.2 L1218.4,1006.2 L1217.3,1007.2 L1218.4,1008.2 L1217.6,1009.2 L1216.6,1010.2 L1215.5,1011.2 L1216.4,1012.2 L1213.4,1013.2 L1211.3,1014.2 L1210.0,1015.2 L1205.7,1016.2 L1201.8,1017.2 L1194.8,1017.2 L1191.4,1016.2 L1190.1,1015.2 L1187.6,1014.2 L1187.3,1013.2 L1185.8,1012.2 L1183.7,1011.2 L1184.0,1010.2 L1182.6,1009.2 L1182.2,1008.2 L1180.8,1007.2 L1180.4,1006.2 L1179.7,1005.2 L1178.8,1004.2 L1178.1,1003.2 L1179.4,1002.2 L1179.2,1001.2 L1178.0,1000.2 L1178.4,999.2 L1177.1,998.2 L1177.9,997.2 L1179.5,996.2 L1179.2,995.2 L1179.6,994.2 L1179.8,993.2 L1179.2,992.2 L1180.1,991.2 L1180.5,990.2 L1182.0,989.2 L1183.1,988.2 L1184.6,987.2 L1185.8,986.2 L1191.0,985.2 L1194.0,984.2Z" fill="#9ebddc"/>
<path d="M1235.1,856.3 L1238.3,857.3 L1239.9,858.3 L1241.8,859.3 L1243.7,860.3 L1244.4,861.3 L1245.6,862.3 L1245.9,863.3 L1246.6,864.3 L1246.4,865.3 L1247.4,866.3 L1247.2,867.3 L1248.8,868.3 L1247.1,869.3 L1247.1,870.3 L1247.6,871.3 L1247.3,872.3 L1247.2,873.3 L1247.2,874.3 L1247.7,875.3 L1246.8,876.3 L1245.8,877.3 L1245.5,878.3 L1245.3,879.3 L1244.5,880.3 L1241.6,881.3 L1233.2,881.3 L1232.1,880.3 L1231.6,879.3 L1230.3,878.3 L1229.8,877.3 L1228.9,876.3 L1228.1,875.3 L1226.9,874.3 L1226.5,873.3 L1226.2,872.3 L1226.0,871.3 L1224.9,870.3 L1225.4,869.3 L1225.6,868.3 L1225.4,867.3 L1225.2,866.3 L1225.2,865.3 L1224.7,864.3 L1224.7,863.3 L1225.4,862.3 L1225.8,861.3 L1226.2,860.3 L1226.7,859.3 L1227.8,858.3 L1229.2,857.3 L1231.3,856.3Z" fill="#ffffff"/>
<path d="M1223.6,905.0 L1223.0,906.0 L1223.8,907.0 L1225.2,908.0 L1226.1,909.0 L1230.1,910.0 L1227.3,911.0 L1227.0,912.0 L1228.5,913.0 L1227.6,914.0 L1227.9,915.0 L1228.0,916.0 L1228.2,917.0 L1228.0,918.0 L1229.2,919.0 L1228.4,920.0 L1229.0,921.0 L1228.7,922.0 L1228.8,923.0 L1228.3,924.0 L1228.2,925.0 L1228.4,926.0 L1228.2,927.0 L1228.7,928.0 L1228.3,929.0 L1228.4,930.0 L1228.3,931.0 L1228.6,932.0 L1228.5,933.0 L1228.4,934.0 L1227.9,935.0 L1228.2,936.0 L1227.8,937.0 L1227.2,938.0 L1227.2,939.0 L1227.7,940.0 L1227.2,941.0 L1225.9,942.0 L1226.1,943.0 L1225.4,944.0 L1225.2,945.0 L1224.2,946.0 L1223.5,947.0 L1222.4,948.0 L1222.1,949.0 L1220.7,950.0 L1218.2,951.0 L1213.9,951.0 L1213.1,950.0 L1212.5,949.0 L1211.5,948.0 L1211.9,947.0 L1210.9,946.0 L1210.5,945.0 L1210.1,944.0 L1210.1,943.0 L1209.3,942.0 L1208.4,941.0 L1208.3,940.0 L1208.8,939.0 L1208.1,938.0 L1207.7,937.0 L1207.9,936.0 L1207.6,935.0 L1207.8,934.0 L1207.8,933.0 L1207.0,932.0 L1207.9,931.0 L1207.5,930.0 L1207.4,929.0 L1207.8,928.0 L1207.7,927.0 L1208.1,926.0 L1208.2,925.0 L1208.2,924.0 L1207.0,923.0 L1208.3,922.0 L1208.1,921.0 L1208.1,920.0 L1208.7,919.0 L1208.1,918.0 L1208.3,917.0 L1208.8,916.0 L1209.2,915.0 L1209.9,914.0 L1209.8,913.0 L1211.1,912.0 L1211.6,911.0 L1211.8,910.0 L1213.0,909.0 L1213.5,908.0 L1214.6,907.0 L1215.6,906.0 L1218.2,905.0Z" fill="#ffffff"/>
<path d="M1235.4,858.6 L1237.1,859.6 L1238.1,860.6 L1239.2,861.6 L1240.2,862.6 L1241.2,863.6 L1242.3,864.6 L1242.6,865.6 L1243.1,866.6 L1243.3,867.6 L1243.7,868.6 L1244.0,869.6 L1243.6,870.6 L1243.7,871.6 L1243.8,872.6 L1243.8,873.6 L1243.9,874.6 L1243.5,875.6 L1243.3,876.6 L1243.0,877.6 L1241.9,878.6 L1234.6,878.6 L1232.5,877.6 L1231.9,876.6 L1231.0,875.6 L1230.0,874.6 L1229.4,873.6 L1228.7,872.6 L1228.4,871.6 L1228.3,870.6 L1227.9,869.6 L1227.9,868.6 L1228.0,867.6 L1227.7,866.6 L1227.6,865.6 L1227.5,864.6 L1227.5,863.6 L1227.7,862.6 L1228.7,861.6 L1229.4,860.6 L1230.3,859.6 L1232.0,858.6Z" fill="#861e32"/>
<path d="M1220.0,914.9 L1220.6,915.9 L1221.1,916.9 L1221.0,917.9 L1220.7,918.9 L1219.9,919.9 L1217.5,919.9 L1217.0,918.9 L1216.8,917.9 L1216.6,916.9 L1217.1,915.9 L1218.0,914.9Z" fill="#cd7ea0"/>
<path d="M1219.2,929.8 L1220.4,930.8 L1221.4,931.8 L1221.7,932.8 L1222.0,933.8 L1222.4,934.8 L1222.3,935.8 L1222.3,936.8 L1222.2,937.8 L1222.2,938.8 L1221.9,939.8 L1221.5,940.8 L1221.2,941.8 L1220.4,942.8 L1219.3,943.8 L1215.4,943.8 L1214.6,942.8 L1214.0,941.8 L1213.5,940.8 L1213.0,939.8 L1212.7,938.8 L1212.8,937.8 L1213.1,936.8 L1213.0,935.8 L1213.3,934.8 L1213.2,933.8 L1214.0,932.8 L1214.4,931.8 L1215.0,930.8 L1216.4,929.8Z" fill="#cd7ea0"/>
<rect x="1083.5" y="791.9" width="291.8" height="281.1" fill="none" stroke="#111" stroke-width="1.6"/>
<line x1="1119.8" y1="1073.0" x2="1119.8" y2="1063.5" stroke="#111" stroke-width="1.4"/>
<line x1="1156.3" y1="1073.0" x2="1156.3" y2="1066.6" stroke="#111" stroke-width="1.4"/>
<line x1="1192.9" y1="1073.0" x2="1192.9" y2="1063.5" stroke="#111" stroke-width="1.4"/>
<line x1="1229.4" y1="1073.0" x2="1229.4" y2="1066.6" stroke="#111" stroke-width="1.4"/>
<line x1="1265.9" y1="1073.0" x2="1265.9" y2="1063.5" stroke="#111" stroke-width="1.4"/>
<line x1="1302.5" y1="1073.0" x2="1302.5" y2="1066.6" stroke="#111" stroke-width="1.4"/>
<line x1="1339.0" y1="1073.0" x2="1339.0" y2="1063.5" stroke="#111" stroke-width="1.4"/>
<line x1="1083.5" y1="823.1" x2="1089.9" y2="823.1" stroke="#111" stroke-width="1.4"/>
<line x1="1083.5" y1="854.4" x2="1093.0" y2="854.4" stroke="#111" stroke-width="1.4"/>
<line x1="1083.5" y1="885.6" x2="1089.9" y2="885.6" stroke="#111" stroke-width="1.4"/>
<line x1="1083.5" y1="916.8" x2="1093.0" y2="916.8" stroke="#111" stroke-width="1.4"/>
<line x1="1083.5" y1="948.1" x2="1089.9" y2="948.1" stroke="#111" stroke-width="1.4"/>
<line x1="1083.5" y1="979.3" x2="1093.0" y2="979.3" stroke="#111" stroke-width="1.4"/>
<line x1="1083.5" y1="1010.5" x2="1089.9" y2="1010.5" stroke="#111" stroke-width="1.4"/>
<line x1="1083.5" y1="1041.8" x2="1093.0" y2="1041.8" stroke="#111" stroke-width="1.4"/>
<text font-size="27.5" textLength="50.73" lengthAdjust="spacingAndGlyphs" x="1017.05" y="801.00">0.78</text>
<text font-size="27.5" textLength="50.15" lengthAdjust="spacingAndGlyphs" x="1018.56" y="863.47">0.77</text>
<text font-size="27.5" textLength="49.19" lengthAdjust="spacingAndGlyphs" x="1018.58" y="925.94">0.76</text>
<text font-size="27.5" textLength="49.19" lengthAdjust="spacingAndGlyphs" x="1018.58" y="988.41">0.75</text>
<text font-size="27.5" textLength="49.19" lengthAdjust="spacingAndGlyphs" x="1018.58" y="1050.88">0.74</text>
<text font-size="27.5" textLength="52.99" lengthAdjust="spacingAndGlyphs" x="1092.96" y="1108.60">0.24</text>
<text font-size="27.5" textLength="52.99" lengthAdjust="spacingAndGlyphs" x="1166.03" y="1108.60">0.25</text>
<text font-size="27.5" textLength="52.99" lengthAdjust="spacingAndGlyphs" x="1239.10" y="1108.60">0.26</text>
<text font-size="27.5" textLength="52.99" lengthAdjust="spacingAndGlyphs" x="1312.66" y="1108.60">0.27</text>
<rect x="1381.2" y="791.9" width="20.1" height="40.5" fill="#861e32"/>
<rect x="1381.2" y="832.1" width="20.1" height="40.5" fill="#960040"/>
<rect x="1381.2" y="872.2" width="20.1" height="40.5" fill="#cc7a98"/>
<rect x="1381.2" y="912.4" width="20.1" height="40.5" fill="#ffffff"/>
<rect x="1381.2" y="952.5" width="20.1" height="40.5" fill="#9ebddc"/>
<rect x="1381.2" y="992.7" width="20.1" height="40.5" fill="#3b78b8"/>
<rect x="1381.2" y="1032.8" width="20.1" height="40.5" fill="#ffffff"/>
<rect x="1381.2" y="791.9" width="20.1" height="281.1" fill="none" stroke="#111" stroke-width="1.3"/>
<text font-size="27.5" textLength="70.88" lengthAdjust="spacingAndGlyphs" x="1415.47" y="841.86">8,700</text>
<text font-size="27.5" textLength="70.88" lengthAdjust="spacingAndGlyphs" x="1415.47" y="882.01">3,100</text>
<text font-size="27.5" textLength="70.88" lengthAdjust="spacingAndGlyphs" x="1414.44" y="922.17">1,105</text>
<text font-size="27.5" textLength="47.26" lengthAdjust="spacingAndGlyphs" x="1415.47" y="962.33">394</text>
<text font-size="27.5" textLength="47.26" lengthAdjust="spacingAndGlyphs" x="1414.44" y="1002.49">140</text>
<text font-size="27.5" textLength="31.51" lengthAdjust="spacingAndGlyphs" x="1415.47" y="1042.64">50</text>
<text font-size="31.5" textLength="181.41" lengthAdjust="spacingAndGlyphs" x="1234.42" y="780.90">log[intensity</text>
<text font-size="31.5" x="1426.20" y="780.90">(a.u.)]</text>
<text font-size="27.5" textLength="69.39" lengthAdjust="spacingAndGlyphs" x="1226.17" y="841.20">NSTO</text>
<text font-size="27.5" textLength="23.63" lengthAdjust="spacingAndGlyphs" x="1159.34" y="929.00">M</text>
<text font-size="27.5" textLength="15.12" lengthAdjust="spacingAndGlyphs" x="1216.20" y="1049.60">T</text>
<text font-size="27.5" fill="#96144f" textLength="61.98" lengthAdjust="spacingAndGlyphs" x="1288.63" y="1029.20">(103)</text>
<text font-size="19" fill="#96144f" textLength="8.44" lengthAdjust="spacingAndGlyphs" x="1351.00" y="1037.00">c</text>
<text font-size="27.5" fill="#96144f" textLength="89.72" lengthAdjust="spacingAndGlyphs" x="1270.06" y="1058.90">IM-PNR</text>
<text font-size="45.5" font-weight="bold" textLength="27.40" lengthAdjust="spacingAndGlyphs" stroke="#000" stroke-width="1.4" x="967.82" y="794.90">c</text>
<text font-size="32" textLength="23.92" lengthAdjust="spacingAndGlyphs" transform="translate(996.50 982.70) rotate(-90)" x="-0.96" y="0">Q</text>
<text font-size="21.5" font-style="italic" textLength="8.87" lengthAdjust="spacingAndGlyphs" transform="translate(1006.40 960.00) rotate(-90)" x="0.82" y="0">z</text>
<text font-size="32" textLength="27.70" lengthAdjust="spacingAndGlyphs" transform="translate(996.50 938.80) rotate(-90)" x="-0.87" y="0">(Å</text>
<text font-size="21.5" textLength="17.39" lengthAdjust="spacingAndGlyphs" transform="translate(982.10 908.70) rotate(-90)" x="-0.71" y="0">−1</text>
<text font-size="32" textLength="9.12" lengthAdjust="spacingAndGlyphs" transform="translate(996.50 889.90) rotate(-90)" x="0.00" y="0">)</text>
<text font-size="32" textLength="23.70" lengthAdjust="spacingAndGlyphs" x="1177.85" y="1150.70">Q</text>
<text font-size="21.5" font-style="italic" textLength="9.34" lengthAdjust="spacingAndGlyphs" x="1202.57" y="1159.80">x</text>
<text font-size="32" textLength="28.81" lengthAdjust="spacingAndGlyphs" x="1221.50" y="1150.70">(Å</text>
<text font-size="21.5" textLength="17.93" lengthAdjust="spacingAndGlyphs" x="1252.07" y="1135.90">−1</text>
<text font-size="32" textLength="8.88" lengthAdjust="spacingAndGlyphs" x="1272.20" y="1150.70">)</text>
<rect x="1674.3" y="85.2" width="307.0" height="214.1" fill="#f9ebec"/>
<g clip-path="url(#pdclip)">
<polygon points="1724.5,299.3 1810.1,143.0 1895.7,102.3 1981.3,101.3 1981.3,299.3 1724.5,299.3" fill="#d96c80"/>
<polygon points="1724.5,299.3 1810.1,251.1 1895.7,286.5 1981.3,285.4 1981.3,299.3 1724.5,299.3" fill="#28547b"/>
<polyline points="1724.5,299.3 1810.1,143.0 1895.7,102.3 1981.3,101.3" fill="none" stroke="#650d18" stroke-width="2.9" stroke-linejoin="round"/>
<polyline points="1724.5,299.3 1810.1,251.1 1895.7,286.5 1981.3,285.4" fill="none" stroke="#193f60" stroke-width="2.9" stroke-linejoin="round"/>
<circle cx="1724.5" cy="299.3" r="3.9" fill="#fff" stroke="#650d18" stroke-width="1.9"/>
<circle cx="1810.1" cy="143.0" r="3.9" fill="#fff" stroke="#650d18" stroke-width="1.9"/>
<circle cx="1895.7" cy="102.3" r="3.9" fill="#fff" stroke="#650d18" stroke-width="1.9"/>
<circle cx="1981.3" cy="101.3" r="3.9" fill="#fff" stroke="#650d18" stroke-width="1.9"/>
<circle cx="1724.5" cy="299.3" r="3.9" fill="#fff" stroke="#193f60" stroke-width="1.9"/>
<circle cx="1810.1" cy="251.1" r="3.9" fill="#fff" stroke="#193f60" stroke-width="1.9"/>
<circle cx="1895.7" cy="286.5" r="3.9" fill="#fff" stroke="#193f60" stroke-width="1.9"/>
<circle cx="1981.3" cy="285.4" r="3.9" fill="#fff" stroke="#193f60" stroke-width="1.9"/>
</g>
<line x1="1674.3" y1="256.5" x2="1681.3" y2="256.5" stroke="#000" stroke-width="1.6"/>
<line x1="1674.3" y1="213.7" x2="1681.3" y2="213.7" stroke="#000" stroke-width="1.6"/>
<line x1="1674.3" y1="170.8" x2="1681.3" y2="170.8" stroke="#000" stroke-width="1.6"/>
<line x1="1674.3" y1="128.0" x2="1681.3" y2="128.0" stroke="#000" stroke-width="1.6"/>
<line x1="1674.3" y1="277.9" x2="1678.9" y2="277.9" stroke="#000" stroke-width="1.4"/>
<line x1="1674.3" y1="235.1" x2="1678.9" y2="235.1" stroke="#000" stroke-width="1.4"/>
<line x1="1674.3" y1="192.2" x2="1678.9" y2="192.2" stroke="#000" stroke-width="1.4"/>
<line x1="1674.3" y1="149.4" x2="1678.9" y2="149.4" stroke="#000" stroke-width="1.4"/>
<line x1="1674.3" y1="106.6" x2="1678.9" y2="106.6" stroke="#000" stroke-width="1.4"/>
<line x1="1724.5" y1="299.3" x2="1724.5" y2="292.3" stroke="#000" stroke-width="1.6"/>
<line x1="1810.1" y1="299.3" x2="1810.1" y2="292.3" stroke="#000" stroke-width="1.6"/>
<line x1="1895.7" y1="299.3" x2="1895.7" y2="292.3" stroke="#000" stroke-width="1.6"/>
<line x1="1681.7" y1="299.3" x2="1681.7" y2="294.7" stroke="#000" stroke-width="1.4"/>
<line x1="1767.3" y1="299.3" x2="1767.3" y2="294.7" stroke="#000" stroke-width="1.4"/>
<line x1="1852.9" y1="299.3" x2="1852.9" y2="294.7" stroke="#000" stroke-width="1.4"/>
<line x1="1938.5" y1="299.3" x2="1938.5" y2="294.7" stroke="#000" stroke-width="1.4"/>
<rect x="1674.3" y="85.2" width="307.0" height="214.1" fill="none" stroke="#000" stroke-width="2.0"/>
<text font-size="27.5" textLength="17.26" lengthAdjust="spacingAndGlyphs" x="1641.97" y="309.00">0</text>
<text font-size="27.5" textLength="33.94" lengthAdjust="spacingAndGlyphs" x="1624.29" y="266.18">20</text>
<text font-size="27.5" textLength="32.82" lengthAdjust="spacingAndGlyphs" x="1625.40" y="223.36">40</text>
<text font-size="27.5" textLength="33.94" lengthAdjust="spacingAndGlyphs" x="1624.29" y="180.54">60</text>
<text font-size="27.5" textLength="33.94" lengthAdjust="spacingAndGlyphs" x="1624.29" y="137.72">80</text>
<text font-size="27.5" textLength="47.16" lengthAdjust="spacingAndGlyphs" x="1612.04" y="94.90">100</text>
<text font-size="27.5" textLength="47.26" lengthAdjust="spacingAndGlyphs" x="1701.82" y="333.70">450</text>
<text font-size="27.5" textLength="47.26" lengthAdjust="spacingAndGlyphs" x="1787.42" y="333.70">475</text>
<text font-size="27.5" textLength="47.26" lengthAdjust="spacingAndGlyphs" x="1872.51" y="333.70">500</text>
<text font-size="27.5" textLength="47.26" lengthAdjust="spacingAndGlyphs" x="1958.11" y="333.70">525</text>
<text font-size="45.5" font-weight="bold" textLength="31.15" lengthAdjust="spacingAndGlyphs" stroke="#000" stroke-width="1.4" x="1525.38" y="35.00">d</text>
<text font-size="32" textLength="143.43" lengthAdjust="spacingAndGlyphs" transform="translate(1553.40 262.00) rotate(-90)" x="-2.02" y="0">Estimated</text>
<text font-size="31.5" textLength="100.61" lengthAdjust="spacingAndGlyphs" transform="translate(1589.10 336.50) rotate(-90)" x="0.00" y="0">volume</text>
<text font-size="31.5" textLength="114.99" lengthAdjust="spacingAndGlyphs" transform="translate(1589.10 224.50) rotate(-90)" x="0.00" y="0">fraction</text>
<text font-size="31.5" textLength="41.72" lengthAdjust="spacingAndGlyphs" transform="translate(1589.10 96.70) rotate(-90)" x="-0.85" y="0">(%)</text>
<text font-size="31.5" textLength="127.58" lengthAdjust="spacingAndGlyphs" x="1636.58" y="378.80">Pyrolysis</text>
<text font-size="31.5" textLength="177.94" lengthAdjust="spacingAndGlyphs" x="1774.40" y="378.80">temperature</text>
<text font-size="31.5" textLength="55.45" lengthAdjust="spacingAndGlyphs" x="1962.82" y="378.80">(°C)</text>
<text font-size="27.5" textLength="159.27" lengthAdjust="spacingAndGlyphs" x="1681.68" y="117.60">Pseudocubic</text>
<text font-size="27.5" fill="#fff" textLength="21.08" lengthAdjust="spacingAndGlyphs" x="1854.62" y="200.90">M</text>
<text font-size="27.5" fill="#fff" textLength="14.28" lengthAdjust="spacingAndGlyphs" x="1802.78" y="287.60">T</text>
<text font-size="32" font-style="italic" textLength="9.78" lengthAdjust="spacingAndGlyphs" transform="translate(2012.80 290.80) rotate(-90)" x="-1.10" y="0">t</text>
<text font-size="22" textLength="11.12" lengthAdjust="spacingAndGlyphs" transform="translate(2022.40 279.40) rotate(-90)" x="-0.91" y="0">p</text>
<text font-size="32" textLength="10.11" lengthAdjust="spacingAndGlyphs" transform="translate(2012.80 258.70) rotate(-90)" x="-0.54" y="0">=</text>
<text font-size="32" textLength="58.99" lengthAdjust="spacingAndGlyphs" transform="translate(2012.80 239.50) rotate(-90)" x="-2.21" y="0">180</text>
<text font-size="32" textLength="13.12" lengthAdjust="spacingAndGlyphs" transform="translate(2012.80 174.50) rotate(-90)" x="0.00" y="0">s</text>
<rect x="1674.0" y="440.3" width="307.8" height="214.3" fill="#f9ebec"/>
<g clip-path="url(#peclip)">
<polygon points="1673.9,654.6 1701.4,654.6 1757.5,557.1 1869.6,536.7 1981.8,456.4 1981.8,654.6 1673.9,654.6" fill="#d96c80"/>
<polygon points="1673.9,654.6 1701.4,654.6 1757.5,654.6 1869.6,654.6 1981.8,640.7 1981.8,654.6 1673.9,654.6" fill="#28547b"/>
<polyline points="1673.9,654.6 1701.4,654.6 1757.5,557.1 1869.6,536.7 1981.8,456.4" fill="none" stroke="#650d18" stroke-width="2.9" stroke-linejoin="round"/>
<polyline points="1673.9,654.6 1701.4,654.6 1757.5,654.6 1869.6,654.6 1981.8,640.7" fill="none" stroke="#193f60" stroke-width="2.9" stroke-linejoin="round"/>
<circle cx="1673.9" cy="654.6" r="3.9" fill="#fff" stroke="#650d18" stroke-width="1.9"/>
<circle cx="1701.4" cy="654.6" r="3.9" fill="#fff" stroke="#650d18" stroke-width="1.9"/>
<circle cx="1757.5" cy="557.1" r="3.9" fill="#fff" stroke="#650d18" stroke-width="1.9"/>
<circle cx="1869.6" cy="536.7" r="3.9" fill="#fff" stroke="#650d18" stroke-width="1.9"/>
<circle cx="1981.8" cy="456.4" r="3.9" fill="#fff" stroke="#650d18" stroke-width="1.9"/>
<circle cx="1673.9" cy="654.6" r="3.9" fill="#fff" stroke="#193f60" stroke-width="1.9"/>
<circle cx="1701.4" cy="654.6" r="3.9" fill="#fff" stroke="#193f60" stroke-width="1.9"/>
<circle cx="1757.5" cy="654.6" r="3.9" fill="#fff" stroke="#193f60" stroke-width="1.9"/>
<circle cx="1869.6" cy="654.6" r="3.9" fill="#fff" stroke="#193f60" stroke-width="1.9"/>
<circle cx="1981.8" cy="640.7" r="3.9" fill="#fff" stroke="#193f60" stroke-width="1.9"/>
</g>
<line x1="1674.0" y1="601.0" x2="1681.0" y2="601.0" stroke="#000" stroke-width="1.6"/>
<line x1="1674.0" y1="547.5" x2="1681.0" y2="547.5" stroke="#000" stroke-width="1.6"/>
<line x1="1674.0" y1="493.9" x2="1681.0" y2="493.9" stroke="#000" stroke-width="1.6"/>
<line x1="1674.0" y1="627.8" x2="1678.6" y2="627.8" stroke="#000" stroke-width="1.4"/>
<line x1="1674.0" y1="574.2" x2="1678.6" y2="574.2" stroke="#000" stroke-width="1.4"/>
<line x1="1674.0" y1="520.7" x2="1678.6" y2="520.7" stroke="#000" stroke-width="1.4"/>
<line x1="1674.0" y1="467.1" x2="1678.6" y2="467.1" stroke="#000" stroke-width="1.4"/>
<line x1="1701.4" y1="654.6" x2="1701.4" y2="647.6" stroke="#000" stroke-width="1.6"/>
<line x1="1757.5" y1="654.6" x2="1757.5" y2="647.6" stroke="#000" stroke-width="1.6"/>
<line x1="1813.6" y1="654.6" x2="1813.6" y2="647.6" stroke="#000" stroke-width="1.6"/>
<line x1="1869.6" y1="654.6" x2="1869.6" y2="647.6" stroke="#000" stroke-width="1.6"/>
<line x1="1925.7" y1="654.6" x2="1925.7" y2="647.6" stroke="#000" stroke-width="1.6"/>
<line x1="1729.4" y1="654.6" x2="1729.4" y2="650.0" stroke="#000" stroke-width="1.4"/>
<line x1="1785.5" y1="654.6" x2="1785.5" y2="650.0" stroke="#000" stroke-width="1.4"/>
<line x1="1841.6" y1="654.6" x2="1841.6" y2="650.0" stroke="#000" stroke-width="1.4"/>
<line x1="1897.7" y1="654.6" x2="1897.7" y2="650.0" stroke="#000" stroke-width="1.4"/>
<line x1="1953.8" y1="654.6" x2="1953.8" y2="650.0" stroke="#000" stroke-width="1.4"/>
<rect x="1674.0" y="440.3" width="307.8" height="214.3" fill="none" stroke="#000" stroke-width="2.0"/>
<text font-size="27.5" textLength="17.26" lengthAdjust="spacingAndGlyphs" x="1641.97" y="666.00">0</text>
<text font-size="27.5" textLength="33.94" lengthAdjust="spacingAndGlyphs" x="1624.29" y="611.70">25</text>
<text font-size="27.5" textLength="33.94" lengthAdjust="spacingAndGlyphs" x="1624.29" y="557.40">50</text>
<text font-size="27.5" textLength="33.94" lengthAdjust="spacingAndGlyphs" x="1624.29" y="503.60">75</text>
<text font-size="27.5" textLength="47.16" lengthAdjust="spacingAndGlyphs" x="1612.04" y="450.00">100</text>
<text font-size="27.5" textLength="31.51" lengthAdjust="spacingAndGlyphs" x="1686.08" y="688.20">30</text>
<text font-size="27.5" textLength="31.51" lengthAdjust="spacingAndGlyphs" x="1742.16" y="688.20">60</text>
<text font-size="27.5" textLength="31.51" lengthAdjust="spacingAndGlyphs" x="1798.24" y="688.20">90</text>
<text font-size="27.5" textLength="47.26" lengthAdjust="spacingAndGlyphs" x="1845.93" y="688.20">120</text>
<text font-size="27.5" textLength="47.26" lengthAdjust="spacingAndGlyphs" x="1902.01" y="688.20">150</text>
<text font-size="27.5" textLength="47.26" lengthAdjust="spacingAndGlyphs" x="1958.09" y="688.20">180</text>
<text font-size="45.5" font-weight="bold" textLength="28.39" lengthAdjust="spacingAndGlyphs" stroke="#000" stroke-width="1.4" x="1525.28" y="385.20">e</text>
<text font-size="32" textLength="143.32" lengthAdjust="spacingAndGlyphs" transform="translate(1553.40 617.00) rotate(-90)" x="-2.01" y="0">Estimated</text>
<text font-size="31.5" textLength="100.61" lengthAdjust="spacingAndGlyphs" transform="translate(1589.10 691.60) rotate(-90)" x="0.00" y="0">volume</text>
<text font-size="31.5" textLength="114.99" lengthAdjust="spacingAndGlyphs" transform="translate(1589.10 579.60) rotate(-90)" x="0.00" y="0">fraction</text>
<text font-size="31.5" textLength="41.72" lengthAdjust="spacingAndGlyphs" transform="translate(1589.10 451.80) rotate(-90)" x="-0.85" y="0">(%)</text>
<text font-size="31.5" textLength="127.18" lengthAdjust="spacingAndGlyphs" x="1676.78" y="733.50">Pyrolysis</text>
<text font-size="31.5" textLength="122.00" lengthAdjust="spacingAndGlyphs" x="1813.63" y="733.50">duration</text>
<text font-size="31.5" textLength="34.01" lengthAdjust="spacingAndGlyphs" x="1944.87" y="733.50">(s)</text>
<text font-size="27.5" textLength="159.37" lengthAdjust="spacingAndGlyphs" x="1685.38" y="472.30">Pseudocubic</text>
<text font-size="27.5" fill="#fff" textLength="21.76" lengthAdjust="spacingAndGlyphs" x="1828.67" y="606.50">M</text>
<text font-size="27.5" fill="#fff" textLength="15.12" lengthAdjust="spacingAndGlyphs" x="1946.15" y="648.00">T</text>
<text font-size="32" font-style="italic" textLength="15.74" lengthAdjust="spacingAndGlyphs" transform="translate(2012.80 652.30) rotate(-90)" x="-1.61" y="0">T</text>
<text font-size="22" textLength="11.68" lengthAdjust="spacingAndGlyphs" transform="translate(2022.40 636.00) rotate(-90)" x="-0.95" y="0">p</text>
<text font-size="32" textLength="11.76" lengthAdjust="spacingAndGlyphs" transform="translate(2012.80 616.30) rotate(-90)" x="-0.63" y="0">=</text>
<text font-size="32" textLength="49.98" lengthAdjust="spacingAndGlyphs" transform="translate(2012.80 595.70) rotate(-90)" x="-0.94" y="0">500</text>
<text font-size="32" textLength="29.32" lengthAdjust="spacingAndGlyphs" transform="translate(2012.80 537.50) rotate(-90)" x="-0.82" y="0">°C</text>
<rect x="1676.5" y="783.4" width="292.2" height="285.7" fill="#26527a"/>
<g clip-path="url(#fclip)">
<path d="M1739.3,783.4 L1814.9,783.4 L1739.3,885.4ZM1814.9,783.4 L1739.3,885.4 L1746.4,887.2 L1891.8,887.2ZM1814.9,783.4 L1891.8,783.4 L1891.8,887.2ZM1891.8,783.4 L1968.7,783.4 L1931.8,821.4ZM1968.7,783.4 L1968.7,887.2 L1931.8,821.4ZM1968.7,887.2 L1891.8,887.2 L1931.8,821.4ZM1891.8,887.2 L1891.8,783.4 L1931.8,821.4ZM1746.4,887.2 L1891.8,887.2 L1746.4,985.3ZM1746.4,985.3 L1891.8,887.2 L1891.8,991.0 L1749.1,991.0ZM1891.8,887.2 L1968.7,887.2 L1968.7,991.0ZM1891.8,887.2 L1968.7,991.0 L1891.8,991.0ZM1749.1,991.0 L1891.8,991.0 L1963.1,1063.2ZM1891.8,991.0 L1968.7,991.0 L1968.7,1065.5 L1963.1,1063.2Z" fill="#2f5a80" stroke="#2f5a80" stroke-width="0.7" stroke-linejoin="round"/>
<path d="M1741.9,783.4 L1814.9,783.4 L1741.9,882.0ZM1814.9,783.4 L1741.9,882.0 L1763.1,887.2 L1891.8,887.2ZM1814.9,783.4 L1891.8,783.4 L1891.8,887.2ZM1891.8,783.4 L1968.7,783.4 L1931.8,821.4ZM1968.7,783.4 L1968.7,887.2 L1931.8,821.4ZM1968.7,887.2 L1891.8,887.2 L1931.8,821.4ZM1891.8,887.2 L1891.8,783.4 L1931.8,821.4ZM1763.1,887.2 L1891.8,887.2 L1763.1,974.1ZM1763.1,974.1 L1891.8,887.2 L1891.8,991.0 L1771.4,991.0ZM1891.8,887.2 L1968.7,887.2 L1968.7,991.0ZM1891.8,887.2 L1968.7,991.0 L1891.8,991.0ZM1771.4,991.0 L1891.8,991.0 L1952.0,1051.9ZM1891.8,991.0 L1968.7,991.0 L1968.7,1058.7 L1952.0,1051.9Z" fill="#396186" stroke="#396186" stroke-width="0.7" stroke-linejoin="round"/>
<path d="M1744.4,783.4 L1814.9,783.4 L1744.4,878.5ZM1814.9,783.4 L1744.4,878.5 L1779.8,887.2 L1891.8,887.2ZM1814.9,783.4 L1891.8,783.4 L1891.8,887.2ZM1891.8,783.4 L1968.7,783.4 L1931.8,821.4ZM1968.7,783.4 L1968.7,887.2 L1931.8,821.4ZM1968.7,887.2 L1891.8,887.2 L1931.8,821.4ZM1891.8,887.2 L1891.8,783.4 L1931.8,821.4ZM1779.8,887.2 L1891.8,887.2 L1779.8,962.8ZM1779.8,962.8 L1891.8,887.2 L1891.8,991.0 L1793.7,991.0ZM1891.8,887.2 L1968.7,887.2 L1968.7,991.0ZM1891.8,887.2 L1968.7,991.0 L1891.8,991.0ZM1793.7,991.0 L1891.8,991.0 L1940.8,1040.6ZM1891.8,991.0 L1968.7,991.0 L1968.7,1051.9 L1940.8,1040.6Z" fill="#42698b" stroke="#42698b" stroke-width="0.7" stroke-linejoin="round"/>
<path d="M1747.0,783.4 L1814.9,783.4 L1747.0,875.0ZM1814.9,783.4 L1747.0,875.0 L1796.5,887.2 L1891.8,887.2ZM1814.9,783.4 L1891.8,783.4 L1891.8,887.2ZM1891.8,783.4 L1968.7,783.4 L1931.8,821.4ZM1968.7,783.4 L1968.7,887.2 L1931.8,821.4ZM1968.7,887.2 L1891.8,887.2 L1931.8,821.4ZM1891.8,887.2 L1891.8,783.4 L1931.8,821.4ZM1796.5,887.2 L1891.8,887.2 L1796.5,951.5ZM1796.5,951.5 L1891.8,887.2 L1891.8,991.0 L1816.0,991.0ZM1891.8,887.2 L1968.7,887.2 L1968.7,991.0ZM1891.8,887.2 L1968.7,991.0 L1891.8,991.0ZM1816.0,991.0 L1891.8,991.0 L1929.7,1029.4ZM1891.8,991.0 L1968.7,991.0 L1968.7,1045.2 L1929.7,1029.4Z" fill="#4c7091" stroke="#4c7091" stroke-width="0.7" stroke-linejoin="round"/>
<path d="M1749.6,783.4 L1814.9,783.4 L1749.6,871.5ZM1814.9,783.4 L1749.6,871.5 L1813.2,887.2 L1891.8,887.2ZM1814.9,783.4 L1891.8,783.4 L1891.8,887.2ZM1891.8,783.4 L1968.7,783.4 L1931.8,821.4ZM1968.7,783.4 L1968.7,887.2 L1931.8,821.4ZM1968.7,887.2 L1891.8,887.2 L1931.8,821.4ZM1891.8,887.2 L1891.8,783.4 L1931.8,821.4ZM1813.2,887.2 L1891.8,887.2 L1813.2,940.2ZM1813.2,940.2 L1891.8,887.2 L1891.8,991.0 L1838.3,991.0ZM1891.8,887.2 L1968.7,887.2 L1968.7,991.0ZM1891.8,887.2 L1968.7,991.0 L1891.8,991.0ZM1838.3,991.0 L1891.8,991.0 L1918.5,1018.1ZM1891.8,991.0 L1968.7,991.0 L1968.7,1038.4 L1918.5,1018.1Z" fill="#557897" stroke="#557897" stroke-width="0.7" stroke-linejoin="round"/>
<path d="M1752.1,783.4 L1814.9,783.4 L1752.1,868.1ZM1814.9,783.4 L1752.1,868.1 L1829.9,887.2 L1891.8,887.2ZM1814.9,783.4 L1891.8,783.4 L1891.8,887.2ZM1891.8,783.4 L1968.7,783.4 L1931.8,821.4ZM1968.7,783.4 L1968.7,887.2 L1931.8,821.4ZM1968.7,887.2 L1891.8,887.2 L1931.8,821.4ZM1891.8,887.2 L1891.8,783.4 L1931.8,821.4ZM1829.9,887.2 L1891.8,887.2 L1829.9,928.9ZM1829.9,928.9 L1891.8,887.2 L1891.8,991.0 L1860.6,991.0ZM1891.8,887.2 L1968.7,887.2 L1968.7,991.0ZM1891.8,887.2 L1968.7,991.0 L1891.8,991.0ZM1860.6,991.0 L1891.8,991.0 L1907.4,1006.8ZM1891.8,991.0 L1968.7,991.0 L1968.7,1031.6 L1907.4,1006.8Z" fill="#5f7f9d" stroke="#5f7f9d" stroke-width="0.7" stroke-linejoin="round"/>
<path d="M1754.7,783.4 L1814.9,783.4 L1754.7,864.6ZM1814.9,783.4 L1754.7,864.6 L1846.6,887.2 L1891.8,887.2ZM1814.9,783.4 L1891.8,783.4 L1891.8,887.2ZM1891.8,783.4 L1968.7,783.4 L1931.8,821.4ZM1968.7,783.4 L1968.7,887.2 L1931.8,821.4ZM1968.7,887.2 L1891.8,887.2 L1931.8,821.4ZM1891.8,887.2 L1891.8,783.4 L1931.8,821.4ZM1846.6,887.2 L1891.8,887.2 L1846.6,917.6ZM1846.6,917.6 L1891.8,887.2 L1891.8,991.0 L1882.9,991.0ZM1891.8,887.2 L1968.7,887.2 L1968.7,991.0ZM1891.8,887.2 L1968.7,991.0 L1891.8,991.0ZM1882.9,991.0 L1891.8,991.0 L1896.2,995.5ZM1891.8,991.0 L1968.7,991.0 L1968.7,1024.8 L1896.2,995.5Z" fill="#6887a2" stroke="#6887a2" stroke-width="0.7" stroke-linejoin="round"/>
<path d="M1757.3,783.4 L1814.9,783.4 L1757.3,861.1ZM1814.9,783.4 L1757.3,861.1 L1863.4,887.2 L1891.8,887.2ZM1814.9,783.4 L1891.8,783.4 L1891.8,887.2ZM1891.8,783.4 L1968.7,783.4 L1931.8,821.4ZM1968.7,783.4 L1968.7,887.2 L1931.8,821.4ZM1968.7,887.2 L1891.8,887.2 L1931.8,821.4ZM1891.8,887.2 L1891.8,783.4 L1931.8,821.4ZM1863.4,887.2 L1891.8,887.2 L1863.4,906.4ZM1863.4,906.4 L1891.8,887.2 L1891.8,963.9ZM1891.8,887.2 L1968.7,887.2 L1968.7,991.0ZM1891.8,887.2 L1968.7,991.0 L1901.8,991.0 L1891.8,963.9ZM1901.8,991.0 L1968.7,991.0 L1968.7,1018.1Z" fill="#718ea8" stroke="#718ea8" stroke-width="0.7" stroke-linejoin="round"/>
<path d="M1759.9,783.4 L1814.9,783.4 L1759.9,857.7ZM1814.9,783.4 L1759.9,857.7 L1880.1,887.2 L1891.8,887.2ZM1814.9,783.4 L1891.8,783.4 L1891.8,887.2ZM1891.8,783.4 L1968.7,783.4 L1931.8,821.4ZM1968.7,783.4 L1968.7,887.2 L1931.8,821.4ZM1968.7,887.2 L1891.8,887.2 L1931.8,821.4ZM1891.8,887.2 L1891.8,783.4 L1931.8,821.4ZM1880.1,887.2 L1891.8,887.2 L1880.1,895.1ZM1880.1,895.1 L1891.8,887.2 L1891.8,918.8ZM1891.8,887.2 L1968.7,887.2 L1968.7,991.0ZM1891.8,887.2 L1968.7,991.0 L1918.5,991.0 L1891.8,918.8ZM1918.5,991.0 L1968.7,991.0 L1968.7,1011.3Z" fill="#7b96ae" stroke="#7b96ae" stroke-width="0.7" stroke-linejoin="round"/>
<path d="M1762.4,783.4 L1814.9,783.4 L1762.4,854.2ZM1814.9,783.4 L1762.4,854.2 L1890.7,885.7ZM1814.9,783.4 L1891.8,783.4 L1891.8,886.3 L1890.7,885.7ZM1891.8,783.4 L1968.7,783.4 L1931.8,821.4ZM1968.7,783.4 L1968.7,887.2 L1931.8,821.4ZM1968.7,887.2 L1892.9,887.2 L1892.2,886.5 L1931.8,821.4ZM1891.8,886.3 L1891.8,783.4 L1931.8,821.4 L1892.2,886.5ZM1892.9,887.2 L1968.7,887.2 L1968.7,991.0 L1901.8,900.7ZM1901.8,900.7 L1968.7,991.0 L1935.2,991.0ZM1935.2,991.0 L1968.7,991.0 L1968.7,1004.5Z" fill="#849db4" stroke="#849db4" stroke-width="0.7" stroke-linejoin="round"/>
<path d="M1765.0,783.4 L1814.9,783.4 L1765.0,850.7ZM1814.9,783.4 L1765.0,850.7 L1887.0,880.7ZM1814.9,783.4 L1891.8,783.4 L1891.8,883.5 L1887.0,880.7ZM1891.8,783.4 L1968.7,783.4 L1931.8,821.4ZM1968.7,783.4 L1968.7,887.2 L1931.8,821.4ZM1968.7,887.2 L1896.6,887.2 L1893.5,884.4 L1931.8,821.4ZM1891.8,883.5 L1891.8,783.4 L1931.8,821.4 L1893.5,884.4ZM1896.6,887.2 L1968.7,887.2 L1968.7,991.0 L1935.2,945.9ZM1935.2,945.9 L1968.7,991.0 L1952.0,991.0ZM1952.0,991.0 L1968.7,991.0 L1968.7,997.8Z" fill="#8ea5ba" stroke="#8ea5ba" stroke-width="0.7" stroke-linejoin="round"/>
<path d="M1767.6,783.4 L1814.9,783.4 L1767.6,847.2ZM1814.9,783.4 L1767.6,847.2 L1883.2,875.6ZM1814.9,783.4 L1891.8,783.4 L1891.8,880.7 L1883.2,875.6ZM1891.8,783.4 L1968.7,783.4 L1931.8,821.4ZM1968.7,783.4 L1968.7,887.2 L1931.8,821.4ZM1968.7,887.2 L1900.3,887.2 L1894.8,882.2 L1931.8,821.4ZM1891.8,880.7 L1891.8,783.4 L1931.8,821.4 L1894.8,882.2ZM1900.3,887.2 L1968.7,887.2 L1968.7,991.0 L1968.7,991.0ZM1968.7,991.0 L1968.7,991.0 L1968.7,991.0ZM1968.7,991.0 L1968.7,991.0 L1968.7,991.0Z" fill="#97acbf" stroke="#97acbf" stroke-width="0.7" stroke-linejoin="round"/>
<path d="M1770.1,783.4 L1814.9,783.4 L1770.1,843.8ZM1814.9,783.4 L1770.1,843.8 L1879.5,870.6ZM1814.9,783.4 L1891.8,783.4 L1891.8,877.9 L1879.5,870.6ZM1891.8,783.4 L1968.7,783.4 L1931.8,821.4ZM1968.7,783.4 L1968.7,887.2 L1931.8,821.4ZM1968.7,887.2 L1904.0,887.2 L1896.1,880.0 L1931.8,821.4ZM1891.8,877.9 L1891.8,783.4 L1931.8,821.4 L1896.1,880.0ZM1904.0,887.2 L1968.7,887.2 L1968.7,985.3Z" fill="#a1b4c5" stroke="#a1b4c5" stroke-width="0.7" stroke-linejoin="round"/>
<path d="M1772.7,783.4 L1814.9,783.4 L1772.7,840.3ZM1814.9,783.4 L1772.7,840.3 L1875.8,865.6ZM1814.9,783.4 L1891.8,783.4 L1891.8,875.0 L1875.8,865.6ZM1891.8,783.4 L1968.7,783.4 L1931.8,821.4ZM1968.7,783.4 L1968.7,887.2 L1931.8,821.4ZM1968.7,887.2 L1907.8,887.2 L1897.4,877.9 L1931.8,821.4ZM1891.8,875.0 L1891.8,783.4 L1931.8,821.4 L1897.4,877.9ZM1907.8,887.2 L1968.7,887.2 L1968.7,979.7Z" fill="#aabbcb" stroke="#aabbcb" stroke-width="0.7" stroke-linejoin="round"/>
<path d="M1775.3,783.4 L1814.9,783.4 L1775.3,836.8ZM1814.9,783.4 L1775.3,836.8 L1872.1,860.6ZM1814.9,783.4 L1891.8,783.4 L1891.8,872.2 L1872.1,860.6ZM1891.8,783.4 L1968.7,783.4 L1931.8,821.4ZM1968.7,783.4 L1968.7,887.2 L1931.8,821.4ZM1968.7,887.2 L1911.5,887.2 L1898.7,875.7 L1931.8,821.4ZM1891.8,872.2 L1891.8,783.4 L1931.8,821.4 L1898.7,875.7ZM1911.5,887.2 L1968.7,887.2 L1968.7,974.1Z" fill="#b4c3d1" stroke="#b4c3d1" stroke-width="0.7" stroke-linejoin="round"/>
<path d="M1777.9,783.4 L1814.9,783.4 L1777.9,833.4ZM1814.9,783.4 L1777.9,833.4 L1868.4,855.6ZM1814.9,783.4 L1891.8,783.4 L1891.8,869.4 L1868.4,855.6ZM1891.8,783.4 L1968.7,783.4 L1931.8,821.4ZM1968.7,783.4 L1968.7,887.2 L1931.8,821.4ZM1968.7,887.2 L1915.2,887.2 L1900.1,873.6 L1931.8,821.4ZM1891.8,869.4 L1891.8,783.4 L1931.8,821.4 L1900.1,873.6ZM1915.2,887.2 L1968.7,887.2 L1968.7,968.4Z" fill="#bdcad7" stroke="#bdcad7" stroke-width="0.7" stroke-linejoin="round"/>
<path d="M1780.4,783.4 L1814.9,783.4 L1780.4,829.9ZM1814.9,783.4 L1780.4,829.9 L1864.7,850.6ZM1814.9,783.4 L1891.8,783.4 L1891.8,866.6 L1864.7,850.6ZM1891.8,783.4 L1968.7,783.4 L1931.8,821.4ZM1968.7,783.4 L1968.7,887.2 L1931.8,821.4ZM1968.7,887.2 L1918.9,887.2 L1901.4,871.4 L1931.8,821.4ZM1891.8,866.6 L1891.8,783.4 L1931.8,821.4 L1901.4,871.4ZM1918.9,887.2 L1968.7,887.2 L1968.7,962.8Z" fill="#c6d2dc" stroke="#c6d2dc" stroke-width="0.7" stroke-linejoin="round"/>
<path d="M1783.0,783.4 L1814.9,783.4 L1783.0,826.4ZM1814.9,783.4 L1783.0,826.4 L1860.9,845.5ZM1814.9,783.4 L1891.8,783.4 L1891.8,863.8 L1860.9,845.5ZM1891.8,783.4 L1968.7,783.4 L1931.8,821.4ZM1968.7,783.4 L1968.7,887.2 L1931.8,821.4ZM1968.7,887.2 L1922.6,887.2 L1902.7,869.2 L1931.8,821.4ZM1891.8,863.8 L1891.8,783.4 L1931.8,821.4 L1902.7,869.2ZM1922.6,887.2 L1968.7,887.2 L1968.7,957.1Z" fill="#d0d9e2" stroke="#d0d9e2" stroke-width="0.7" stroke-linejoin="round"/>
<path d="M1785.6,783.4 L1814.9,783.4 L1785.6,822.9ZM1814.9,783.4 L1785.6,822.9 L1857.2,840.5ZM1814.9,783.4 L1891.8,783.4 L1891.8,860.9 L1857.2,840.5ZM1891.8,783.4 L1968.7,783.4 L1931.8,821.4ZM1968.7,783.4 L1968.7,887.2 L1931.8,821.4ZM1968.7,887.2 L1926.3,887.2 L1904.0,867.1 L1931.8,821.4ZM1891.8,860.9 L1891.8,783.4 L1931.8,821.4 L1904.0,867.1ZM1926.3,887.2 L1968.7,887.2 L1968.7,951.5Z" fill="#d9e1e8" stroke="#d9e1e8" stroke-width="0.7" stroke-linejoin="round"/>
<path d="M1788.1,783.4 L1814.9,783.4 L1788.1,819.5ZM1814.9,783.4 L1788.1,819.5 L1853.5,835.5ZM1814.9,783.4 L1891.8,783.4 L1891.8,858.1 L1853.5,835.5ZM1891.8,783.4 L1968.7,783.4 L1931.8,821.4ZM1968.7,783.4 L1968.7,887.2 L1931.8,821.4ZM1968.7,887.2 L1930.0,887.2 L1905.3,864.9 L1931.8,821.4ZM1891.8,858.1 L1891.8,783.4 L1931.8,821.4 L1905.3,864.9ZM1930.0,887.2 L1968.7,887.2 L1968.7,945.9Z" fill="#e3e8ee" stroke="#e3e8ee" stroke-width="0.7" stroke-linejoin="round"/>
<path d="M1790.7,783.4 L1814.9,783.4 L1790.7,816.0ZM1814.9,783.4 L1790.7,816.0 L1849.8,830.5ZM1814.9,783.4 L1891.8,783.4 L1891.8,855.3 L1849.8,830.5ZM1891.8,783.4 L1968.7,783.4 L1931.8,821.4ZM1968.7,783.4 L1968.7,887.2 L1931.8,821.4ZM1968.7,887.2 L1933.8,887.2 L1906.6,862.7 L1931.8,821.4ZM1891.8,855.3 L1891.8,783.4 L1931.8,821.4 L1906.6,862.7ZM1933.8,887.2 L1968.7,887.2 L1968.7,940.2Z" fill="#ecf0f3" stroke="#ecf0f3" stroke-width="0.7" stroke-linejoin="round"/>
<path d="M1793.3,783.4 L1814.9,783.4 L1793.3,812.5ZM1814.9,783.4 L1793.3,812.5 L1846.1,825.5ZM1814.9,783.4 L1891.8,783.4 L1891.8,852.5 L1846.1,825.5ZM1891.8,783.4 L1968.7,783.4 L1931.8,821.4ZM1968.7,783.4 L1968.7,887.2 L1931.8,821.4ZM1968.7,887.2 L1937.5,887.2 L1908.0,860.6 L1931.8,821.4ZM1891.8,852.5 L1891.8,783.4 L1931.8,821.4 L1908.0,860.6ZM1937.5,887.2 L1968.7,887.2 L1968.7,934.6Z" fill="#f6f7f9" stroke="#f6f7f9" stroke-width="0.7" stroke-linejoin="round"/>
<path d="M1795.9,783.4 L1814.9,783.4 L1795.9,809.0ZM1814.9,783.4 L1795.9,809.0 L1842.4,820.5ZM1814.9,783.4 L1891.8,783.4 L1891.8,849.7 L1842.4,820.5ZM1891.8,783.4 L1968.7,783.4 L1931.8,821.4ZM1968.7,783.4 L1968.7,887.2 L1931.8,821.4ZM1968.7,887.2 L1941.2,887.2 L1909.3,858.4 L1931.8,821.4ZM1891.8,849.7 L1891.8,783.4 L1931.8,821.4 L1909.3,858.4ZM1941.2,887.2 L1968.7,887.2 L1968.7,928.9Z" fill="#ffffff" stroke="#ffffff" stroke-width="0.7" stroke-linejoin="round"/>
<path d="M1798.4,783.4 L1814.9,783.4 L1798.4,805.6ZM1814.9,783.4 L1798.4,805.6 L1838.7,815.5ZM1814.9,783.4 L1891.8,783.4 L1891.8,846.8 L1838.7,815.5ZM1891.8,783.4 L1968.7,783.4 L1931.8,821.4ZM1968.7,783.4 L1968.7,887.2 L1931.8,821.4ZM1968.7,887.2 L1944.9,887.2 L1910.6,856.3 L1931.8,821.4ZM1891.8,846.8 L1891.8,783.4 L1931.8,821.4 L1910.6,856.3ZM1944.9,887.2 L1968.7,887.2 L1968.7,923.3Z" fill="#faf4f7" stroke="#faf4f7" stroke-width="0.7" stroke-linejoin="round"/>
<path d="M1801.0,783.4 L1814.9,783.4 L1801.0,802.1ZM1814.9,783.4 L1801.0,802.1 L1834.9,810.4ZM1814.9,783.4 L1891.8,783.4 L1891.8,844.0 L1834.9,810.4ZM1891.8,783.4 L1968.7,783.4 L1931.8,821.4ZM1968.7,783.4 L1968.7,887.2 L1931.8,821.4ZM1968.7,887.2 L1948.6,887.2 L1911.9,854.1 L1931.8,821.4ZM1891.8,844.0 L1891.8,783.4 L1931.8,821.4 L1911.9,854.1ZM1948.6,887.2 L1968.7,887.2 L1968.7,917.6Z" fill="#f6e9ee" stroke="#f6e9ee" stroke-width="0.7" stroke-linejoin="round"/>
<path d="M1803.6,783.4 L1814.9,783.4 L1803.6,798.6ZM1814.9,783.4 L1803.6,798.6 L1831.2,805.4ZM1814.9,783.4 L1891.8,783.4 L1891.8,841.2 L1831.2,805.4ZM1891.8,783.4 L1968.7,783.4 L1931.8,821.4ZM1968.7,783.4 L1968.7,887.2 L1931.8,821.4ZM1968.7,887.2 L1952.3,887.2 L1913.2,851.9 L1931.8,821.4ZM1891.8,841.2 L1891.8,783.4 L1931.8,821.4 L1913.2,851.9ZM1952.3,887.2 L1968.7,887.2 L1968.7,912.0Z" fill="#f1dee6" stroke="#f1dee6" stroke-width="0.7" stroke-linejoin="round"/>
<path d="M1806.1,783.4 L1814.9,783.4 L1806.1,795.2ZM1814.9,783.4 L1806.1,795.2 L1827.5,800.4ZM1814.9,783.4 L1891.8,783.4 L1891.8,838.4 L1827.5,800.4ZM1891.8,783.4 L1968.7,783.4 L1931.8,821.4ZM1968.7,783.4 L1968.7,887.2 L1931.8,821.4ZM1968.7,887.2 L1956.0,887.2 L1914.5,849.8 L1931.8,821.4ZM1891.8,838.4 L1891.8,783.4 L1931.8,821.4 L1914.5,849.8ZM1956.0,887.2 L1968.7,887.2 L1968.7,906.4Z" fill="#ecd3dd" stroke="#ecd3dd" stroke-width="0.7" stroke-linejoin="round"/>
<path d="M1808.7,783.4 L1814.9,783.4 L1808.7,791.7ZM1814.9,783.4 L1808.7,791.7 L1823.8,795.4ZM1814.9,783.4 L1891.8,783.4 L1891.8,835.5 L1823.8,795.4ZM1891.8,783.4 L1968.7,783.4 L1931.8,821.4ZM1968.7,783.4 L1968.7,887.2 L1931.8,821.4ZM1968.7,887.2 L1959.8,887.2 L1915.8,847.6 L1931.8,821.4ZM1891.8,835.5 L1891.8,783.4 L1931.8,821.4 L1915.8,847.6ZM1959.8,887.2 L1968.7,887.2 L1968.7,900.7Z" fill="#e8c8d5" stroke="#e8c8d5" stroke-width="0.7" stroke-linejoin="round"/>
<path d="M1811.3,783.4 L1814.9,783.4 L1811.3,788.2ZM1814.9,783.4 L1811.3,788.2 L1820.1,790.4ZM1814.9,783.4 L1891.8,783.4 L1891.8,832.7 L1820.1,790.4ZM1891.8,783.4 L1968.7,783.4 L1931.8,821.4ZM1968.7,783.4 L1968.7,887.2 L1931.8,821.4ZM1968.7,887.2 L1963.5,887.2 L1917.2,845.4 L1931.8,821.4ZM1891.8,832.7 L1891.8,783.4 L1931.8,821.4 L1917.2,845.4ZM1963.5,887.2 L1968.7,887.2 L1968.7,895.1Z" fill="#e3bccd" stroke="#e3bccd" stroke-width="0.7" stroke-linejoin="round"/>
<path d="M1813.9,783.4 L1814.9,783.4 L1813.9,784.7ZM1814.9,783.4 L1813.9,784.7 L1816.4,785.4ZM1814.9,783.4 L1891.8,783.4 L1891.8,829.9 L1816.4,785.4ZM1891.8,783.4 L1968.7,783.4 L1931.8,821.4ZM1968.7,783.4 L1968.7,887.2 L1931.8,821.4ZM1968.7,887.2 L1967.2,887.2 L1918.5,843.3 L1931.8,821.4ZM1891.8,829.9 L1891.8,783.4 L1931.8,821.4 L1918.5,843.3ZM1967.2,887.2 L1968.7,887.2 L1968.7,889.4Z" fill="#deb1c4" stroke="#deb1c4" stroke-width="0.7" stroke-linejoin="round"/>
<path d="M1817.8,783.4 L1891.8,783.4 L1891.8,827.1ZM1891.8,783.4 L1968.7,783.4 L1931.8,821.4ZM1968.7,783.4 L1968.7,885.8 L1966.4,883.1 L1931.8,821.4ZM1919.8,841.1 L1931.8,821.4 L1966.4,883.1ZM1891.8,827.1 L1891.8,783.4 L1931.8,821.4 L1919.8,841.1Z" fill="#daa6bc" stroke="#daa6bc" stroke-width="0.7" stroke-linejoin="round"/>
<path d="M1822.5,783.4 L1891.8,783.4 L1891.8,824.3ZM1891.8,783.4 L1968.7,783.4 L1931.8,821.4ZM1968.7,783.4 L1968.7,883.4 L1962.6,876.3 L1931.8,821.4ZM1921.1,839.0 L1931.8,821.4 L1962.6,876.3ZM1891.8,824.3 L1891.8,783.4 L1931.8,821.4 L1921.1,839.0Z" fill="#d59bb3" stroke="#d59bb3" stroke-width="0.7" stroke-linejoin="round"/>
<path d="M1827.3,783.4 L1891.8,783.4 L1891.8,821.4ZM1891.8,783.4 L1968.7,783.4 L1931.8,821.4ZM1968.7,783.4 L1968.7,881.1 L1958.8,869.6 L1931.8,821.4ZM1922.4,836.8 L1931.8,821.4 L1958.8,869.6ZM1891.8,821.4 L1891.8,783.4 L1931.8,821.4 L1922.4,836.8Z" fill="#d090ab" stroke="#d090ab" stroke-width="0.7" stroke-linejoin="round"/>
<path d="M1832.1,783.4 L1891.8,783.4 L1891.8,818.6ZM1891.8,783.4 L1968.7,783.4 L1931.8,821.4ZM1968.7,783.4 L1968.7,878.7 L1955.0,862.8 L1931.8,821.4ZM1923.7,834.6 L1931.8,821.4 L1955.0,862.8ZM1891.8,818.6 L1891.8,783.4 L1931.8,821.4 L1923.7,834.6Z" fill="#cc85a3" stroke="#cc85a3" stroke-width="0.7" stroke-linejoin="round"/>
<path d="M1836.9,783.4 L1891.8,783.4 L1891.8,815.8ZM1891.8,783.4 L1968.7,783.4 L1931.8,821.4ZM1968.7,783.4 L1968.7,876.4 L1951.2,856.0 L1931.8,821.4ZM1925.0,832.5 L1931.8,821.4 L1951.2,856.0ZM1891.8,815.8 L1891.8,783.4 L1931.8,821.4 L1925.0,832.5Z" fill="#c77a9a" stroke="#c77a9a" stroke-width="0.7" stroke-linejoin="round"/>
<path d="M1841.6,783.4 L1891.8,783.4 L1891.8,813.0ZM1891.8,783.4 L1968.7,783.4 L1931.8,821.4ZM1968.7,783.4 L1968.7,874.0 L1947.4,849.3 L1931.8,821.4ZM1926.4,830.3 L1931.8,821.4 L1947.4,849.3ZM1891.8,813.0 L1891.8,783.4 L1931.8,821.4 L1926.4,830.3Z" fill="#c36f92" stroke="#c36f92" stroke-width="0.7" stroke-linejoin="round"/>
<path d="M1846.4,783.4 L1891.8,783.4 L1891.8,810.2ZM1891.8,783.4 L1968.7,783.4 L1931.8,821.4ZM1968.7,783.4 L1968.7,871.7 L1943.6,842.5 L1931.8,821.4ZM1927.7,828.1 L1931.8,821.4 L1943.6,842.5ZM1891.8,810.2 L1891.8,783.4 L1931.8,821.4 L1927.7,828.1Z" fill="#be648a" stroke="#be648a" stroke-width="0.7" stroke-linejoin="round"/>
<path d="M1851.2,783.4 L1891.8,783.4 L1891.8,807.3ZM1891.8,783.4 L1968.7,783.4 L1931.8,821.4ZM1968.7,783.4 L1968.7,869.3 L1939.8,835.7 L1931.8,821.4ZM1929.0,826.0 L1931.8,821.4 L1939.8,835.7ZM1891.8,807.3 L1891.8,783.4 L1931.8,821.4 L1929.0,826.0Z" fill="#b95981" stroke="#b95981" stroke-width="0.7" stroke-linejoin="round"/>
<path d="M1856.0,783.4 L1891.8,783.4 L1891.8,804.5ZM1891.8,783.4 L1968.7,783.4 L1931.8,821.4ZM1968.7,783.4 L1968.7,867.0 L1936.0,828.9 L1931.8,821.4ZM1930.3,823.8 L1931.8,821.4 L1936.0,828.9ZM1891.8,804.5 L1891.8,783.4 L1931.8,821.4 L1930.3,823.8Z" fill="#b54e79" stroke="#b54e79" stroke-width="0.7" stroke-linejoin="round"/>
<path d="M1860.7,783.4 L1891.8,783.4 L1891.8,801.7ZM1891.8,783.4 L1968.7,783.4 L1931.8,821.4ZM1968.7,783.4 L1968.7,864.6 L1932.2,822.2 L1931.8,821.4ZM1931.6,821.7 L1931.8,821.4 L1932.2,822.2ZM1891.8,801.7 L1891.8,783.4 L1931.8,821.4 L1931.6,821.7Z" fill="#b04370" stroke="#b04370" stroke-width="0.7" stroke-linejoin="round"/>
<path d="M1865.5,783.4 L1891.8,783.4 L1891.8,798.9ZM1891.8,783.4 L1968.7,783.4 L1932.7,820.4 L1926.2,816.1ZM1968.7,783.4 L1968.7,862.3 L1932.7,820.4ZM1891.8,798.9 L1891.8,783.4 L1926.2,816.1Z" fill="#ab3768" stroke="#ab3768" stroke-width="0.7" stroke-linejoin="round"/>
<path d="M1870.3,783.4 L1891.8,783.4 L1891.8,796.1ZM1891.8,783.4 L1968.7,783.4 L1933.8,819.3 L1919.9,810.2ZM1968.7,783.4 L1968.7,859.9 L1933.8,819.3ZM1891.8,796.1 L1891.8,783.4 L1919.9,810.2Z" fill="#a72c60" stroke="#a72c60" stroke-width="0.7" stroke-linejoin="round"/>
<path d="M1875.1,783.4 L1891.8,783.4 L1891.8,793.2ZM1891.8,783.4 L1968.7,783.4 L1934.9,818.2 L1913.7,804.2ZM1968.7,783.4 L1968.7,857.6 L1934.9,818.2ZM1891.8,793.2 L1891.8,783.4 L1913.7,804.2Z" fill="#a22157" stroke="#a22157" stroke-width="0.7" stroke-linejoin="round"/>
<path d="M1879.8,783.4 L1891.8,783.4 L1891.8,790.4ZM1891.8,783.4 L1968.7,783.4 L1935.9,817.1 L1907.4,798.3ZM1968.7,783.4 L1968.7,855.2 L1935.9,817.1ZM1891.8,790.4 L1891.8,783.4 L1907.4,798.3Z" fill="#9d164f" stroke="#9d164f" stroke-width="0.7" stroke-linejoin="round"/>
<path d="M1884.6,783.4 L1891.8,783.4 L1891.8,787.6ZM1891.8,783.4 L1968.7,783.4 L1937.0,816.0 L1901.2,792.3ZM1968.7,783.4 L1968.7,852.9 L1937.0,816.0ZM1891.8,787.6 L1891.8,783.4 L1901.2,792.3Z" fill="#990b46" stroke="#990b46" stroke-width="0.7" stroke-linejoin="round"/>
<path d="M1889.4,783.4 L1891.8,783.4 L1891.8,784.8ZM1891.8,783.4 L1968.7,783.4 L1938.1,814.9 L1894.9,786.3ZM1968.7,783.4 L1968.7,850.5 L1938.1,814.9ZM1891.8,784.8 L1891.8,783.4 L1894.9,786.3Z" fill="#94003e" stroke="#94003e" stroke-width="0.7" stroke-linejoin="round"/>
<polygon points="1751.5,928.8 1816.5,876.0 1785.7,837.9 1918.9,848.6 1901.5,980.9 1870.7,942.8 1805.7,995.6" fill="url(#farr)"/>
</g>
<line x1="1699.6" y1="1069.1" x2="1699.6" y2="1064.6" stroke="#000" stroke-width="1.5"/>
<line x1="1738.0" y1="1069.1" x2="1738.0" y2="1061.6" stroke="#000" stroke-width="1.5"/>
<line x1="1776.4" y1="1069.1" x2="1776.4" y2="1064.6" stroke="#000" stroke-width="1.5"/>
<line x1="1814.9" y1="1069.1" x2="1814.9" y2="1061.6" stroke="#000" stroke-width="1.5"/>
<line x1="1853.3" y1="1069.1" x2="1853.3" y2="1064.6" stroke="#000" stroke-width="1.5"/>
<line x1="1891.8" y1="1069.1" x2="1891.8" y2="1061.6" stroke="#000" stroke-width="1.5"/>
<line x1="1930.2" y1="1069.1" x2="1930.2" y2="1064.6" stroke="#000" stroke-width="1.5"/>
<line x1="1676.5" y1="1042.9" x2="1684.0" y2="1042.9" stroke="#000" stroke-width="1.5"/>
<line x1="1676.5" y1="1016.9" x2="1681.0" y2="1016.9" stroke="#000" stroke-width="1.5"/>
<line x1="1676.5" y1="991.0" x2="1684.0" y2="991.0" stroke="#000" stroke-width="1.5"/>
<line x1="1676.5" y1="965.0" x2="1681.0" y2="965.0" stroke="#000" stroke-width="1.5"/>
<line x1="1676.5" y1="939.1" x2="1684.0" y2="939.1" stroke="#000" stroke-width="1.5"/>
<line x1="1676.5" y1="913.1" x2="1681.0" y2="913.1" stroke="#000" stroke-width="1.5"/>
<line x1="1676.5" y1="887.2" x2="1684.0" y2="887.2" stroke="#000" stroke-width="1.5"/>
<line x1="1676.5" y1="861.2" x2="1681.0" y2="861.2" stroke="#000" stroke-width="1.5"/>
<line x1="1676.5" y1="835.3" x2="1684.0" y2="835.3" stroke="#000" stroke-width="1.5"/>
<line x1="1676.5" y1="809.3" x2="1681.0" y2="809.3" stroke="#000" stroke-width="1.5"/>
<rect x="1676.5" y="783.4" width="292.2" height="285.7" fill="none" stroke="#000" stroke-width="1.8"/>
<g clip-path="url(#cbclip)">
<rect x="1979.2" y="783.4" width="23.4" height="285.7" fill="#26527a"/>
<rect x="1979.2" y="1058.3" width="23.4" height="6.4" fill="#2b567d"/>
<rect x="1979.2" y="1052.3" width="23.4" height="6.4" fill="#345d83"/>
<rect x="1979.2" y="1046.3" width="23.4" height="6.4" fill="#3e6588"/>
<rect x="1979.2" y="1040.3" width="23.4" height="6.4" fill="#476c8e"/>
<rect x="1979.2" y="1034.3" width="23.4" height="6.4" fill="#507494"/>
<rect x="1979.2" y="1028.3" width="23.4" height="6.4" fill="#5a7b9a"/>
<rect x="1979.2" y="1022.3" width="23.4" height="6.4" fill="#6383a0"/>
<rect x="1979.2" y="1016.2" width="23.4" height="6.4" fill="#6d8aa5"/>
<rect x="1979.2" y="1010.2" width="23.4" height="6.4" fill="#7692ab"/>
<rect x="1979.2" y="1004.2" width="23.4" height="6.4" fill="#8099b1"/>
<rect x="1979.2" y="998.2" width="23.4" height="6.4" fill="#89a1b7"/>
<rect x="1979.2" y="992.2" width="23.4" height="6.4" fill="#92a8bc"/>
<rect x="1979.2" y="986.2" width="23.4" height="6.4" fill="#9cb0c2"/>
<rect x="1979.2" y="980.2" width="23.4" height="6.4" fill="#a5b8c8"/>
<rect x="1979.2" y="974.2" width="23.4" height="6.4" fill="#afbfce"/>
<rect x="1979.2" y="968.2" width="23.4" height="6.4" fill="#b8c7d4"/>
<rect x="1979.2" y="962.2" width="23.4" height="6.4" fill="#c2ced9"/>
<rect x="1979.2" y="956.2" width="23.4" height="6.4" fill="#cbd6df"/>
<rect x="1979.2" y="950.2" width="23.4" height="6.4" fill="#d5dde5"/>
<rect x="1979.2" y="944.2" width="23.4" height="6.4" fill="#dee5eb"/>
<rect x="1979.2" y="938.2" width="23.4" height="6.4" fill="#e7ecf1"/>
<rect x="1979.2" y="932.2" width="23.4" height="6.4" fill="#f1f4f6"/>
<rect x="1979.2" y="926.1" width="23.4" height="6.4" fill="#fafbfc"/>
<rect x="1979.2" y="920.1" width="23.4" height="6.4" fill="#fdf9fb"/>
<rect x="1979.2" y="914.1" width="23.4" height="6.4" fill="#f8eef2"/>
<rect x="1979.2" y="908.1" width="23.4" height="6.4" fill="#f3e3ea"/>
<rect x="1979.2" y="902.1" width="23.4" height="6.4" fill="#efd8e2"/>
<rect x="1979.2" y="896.1" width="23.4" height="6.4" fill="#eacdd9"/>
<rect x="1979.2" y="890.1" width="23.4" height="6.4" fill="#e5c2d1"/>
<rect x="1979.2" y="884.1" width="23.4" height="6.4" fill="#e1b7c8"/>
<rect x="1979.2" y="878.1" width="23.4" height="6.4" fill="#dcacc0"/>
<rect x="1979.2" y="872.1" width="23.4" height="6.4" fill="#d7a1b8"/>
<rect x="1979.2" y="866.1" width="23.4" height="6.4" fill="#d396af"/>
<rect x="1979.2" y="860.1" width="23.4" height="6.4" fill="#ce8ba7"/>
<rect x="1979.2" y="854.1" width="23.4" height="6.4" fill="#ca809e"/>
<rect x="1979.2" y="848.1" width="23.4" height="6.4" fill="#c57496"/>
<rect x="1979.2" y="842.1" width="23.4" height="6.4" fill="#c0698e"/>
<rect x="1979.2" y="836.1" width="23.4" height="6.4" fill="#bc5e85"/>
<rect x="1979.2" y="830.0" width="23.4" height="6.4" fill="#b7537d"/>
<rect x="1979.2" y="824.0" width="23.4" height="6.4" fill="#b24875"/>
<rect x="1979.2" y="818.0" width="23.4" height="6.4" fill="#ae3d6c"/>
<rect x="1979.2" y="812.0" width="23.4" height="6.4" fill="#a93264"/>
<rect x="1979.2" y="806.0" width="23.4" height="6.4" fill="#a4275b"/>
<rect x="1979.2" y="800.0" width="23.4" height="6.4" fill="#a01c53"/>
<rect x="1979.2" y="794.0" width="23.4" height="6.4" fill="#9b114b"/>
<rect x="1979.2" y="783.4" width="23.4" height="11.0" fill="#960642"/>
<line x1="1981.2" y1="1069.1" x2="1986.7" y2="1063.9" stroke="#0c1c2c" stroke-width="0.9"/>
<line x1="1984.6" y1="1069.1" x2="1990.1" y2="1063.9" stroke="#0c1c2c" stroke-width="0.9"/>
<line x1="1988.0" y1="1069.1" x2="1993.5" y2="1063.9" stroke="#0c1c2c" stroke-width="0.9"/>
<line x1="1991.4" y1="1069.1" x2="1996.9" y2="1063.9" stroke="#0c1c2c" stroke-width="0.9"/>
<line x1="1994.8" y1="1069.1" x2="2000.3" y2="1063.9" stroke="#0c1c2c" stroke-width="0.9"/>
<line x1="1998.2" y1="1069.1" x2="2003.7" y2="1063.9" stroke="#0c1c2c" stroke-width="0.9"/>
<line x1="2001.6" y1="1069.1" x2="2007.1" y2="1063.9" stroke="#0c1c2c" stroke-width="0.9"/>
<line x1="2005.0" y1="1069.1" x2="2010.5" y2="1063.9" stroke="#0c1c2c" stroke-width="0.9"/>
</g>
<rect x="1979.2" y="783.4" width="23.4" height="285.7" fill="none" stroke="#000" stroke-width="1.6"/>
<line x1="1998.1" y1="788.0" x2="2002.6" y2="788.0" stroke="#000" stroke-width="1.4"/>
<text font-size="27.5" textLength="33.40" lengthAdjust="spacingAndGlyphs" x="2014.35" y="794.50">1.8</text>
<line x1="1998.1" y1="857.1" x2="2002.6" y2="857.1" stroke="#000" stroke-width="1.4"/>
<text font-size="27.5" textLength="34.79" lengthAdjust="spacingAndGlyphs" x="2014.28" y="863.55">1.4</text>
<line x1="1998.1" y1="926.2" x2="2002.6" y2="926.2" stroke="#000" stroke-width="1.4"/>
<text font-size="27.5" textLength="40.21" lengthAdjust="spacingAndGlyphs" x="2015.05" y="932.60">0.9</text>
<line x1="1998.1" y1="995.2" x2="2002.6" y2="995.2" stroke="#000" stroke-width="1.4"/>
<text font-size="27.5" x="2015.10" y="1001.65">0.5</text>
<line x1="1998.1" y1="1064.3" x2="2002.6" y2="1064.3" stroke="#000" stroke-width="1.4"/>
<text font-size="27.5" textLength="16.82" lengthAdjust="spacingAndGlyphs" x="2015.80" y="1070.70">0</text>
<text font-size="27.5" textLength="32.27" lengthAdjust="spacingAndGlyphs" x="1629.65" y="1052.60">30</text>
<text font-size="27.5" textLength="32.27" lengthAdjust="spacingAndGlyphs" x="1629.65" y="1000.69">60</text>
<text font-size="27.5" textLength="32.27" lengthAdjust="spacingAndGlyphs" x="1629.65" y="948.78">90</text>
<text font-size="27.5" textLength="43.79" lengthAdjust="spacingAndGlyphs" x="1618.09" y="896.87">120</text>
<text font-size="27.5" textLength="43.79" lengthAdjust="spacingAndGlyphs" x="1618.09" y="844.96">150</text>
<text font-size="27.5" textLength="43.79" lengthAdjust="spacingAndGlyphs" x="1618.09" y="793.06">180</text>
<text font-size="27.5" textLength="47.26" lengthAdjust="spacingAndGlyphs" x="1715.02" y="1102.50">450</text>
<text font-size="27.5" textLength="47.26" lengthAdjust="spacingAndGlyphs" x="1791.91" y="1102.50">475</text>
<text font-size="27.5" textLength="47.26" lengthAdjust="spacingAndGlyphs" x="1868.29" y="1102.50">500</text>
<text font-size="27.5" textLength="47.26" lengthAdjust="spacingAndGlyphs" x="1945.18" y="1102.50">525</text>
<text font-size="45.5" font-weight="bold" textLength="15.06" lengthAdjust="spacingAndGlyphs" stroke="#000" stroke-width="1.4" x="1528.00" y="787.50">f</text>
<text font-size="32" textLength="129.02" lengthAdjust="spacingAndGlyphs" transform="translate(1553.50 988.00) rotate(-90)" x="-2.02" y="0">Pyrolysis</text>
<text font-size="32" textLength="164.70" lengthAdjust="spacingAndGlyphs" transform="translate(1589.00 1007.00) rotate(-90)" x="-1.02" y="0">duration (s)</text>
<text font-size="31.5" textLength="127.48" lengthAdjust="spacingAndGlyphs" x="1631.58" y="1148.80">Pyrolysis</text>
<text font-size="31.5" textLength="178.04" lengthAdjust="spacingAndGlyphs" x="1769.20" y="1148.80">temperature</text>
<text font-size="31.5" textLength="55.14" lengthAdjust="spacingAndGlyphs" x="1958.02" y="1148.80">(°C)</text>
<text font-size="27.5" fill="#fff" textLength="90.45" lengthAdjust="spacingAndGlyphs" x="1869.95" y="812.30">IM-PNR</text>
<text font-size="27.5" fill="#fff" textLength="35.99" lengthAdjust="spacingAndGlyphs" x="1686.12" y="1057.00">PC</text>
<text font-size="27.5" fill="#fff" transform="translate(1820.80 902.30) rotate(-37)" x="-70.67" y="0">Local strain</text>
<text font-size="27.5" fill="#fff" transform="translate(1838.30 926.00) rotate(-37)" x="-62.03" y="0">fluctuation</text>
<text font-size="27.5" fill="#fff" transform="translate(1859.50 949.00) rotate(-37)" x="-60.26" y="0">enhanced</text>
<text font-size="32" textLength="17.51" lengthAdjust="spacingAndGlyphs" transform="translate(2085.80 862.10) rotate(90)" x="0.00" y="0">Δ</text>
<text font-size="24" textLength="12.01" lengthAdjust="spacingAndGlyphs" transform="translate(2075.30 881.90) rotate(90)" x="-0.90" y="0">2</text>
<text font-size="24" font-style="italic" textLength="13.13" lengthAdjust="spacingAndGlyphs" transform="translate(2075.30 894.00) rotate(90)" x="-1.01" y="0">θ</text>
<text font-size="24" textLength="6.22" lengthAdjust="spacingAndGlyphs" transform="translate(2075.30 907.00) rotate(90)" x="-1.87" y="0">,</text>
<text font-size="24" textLength="34.94" lengthAdjust="spacingAndGlyphs" transform="translate(2075.30 913.80) rotate(90)" x="-0.82" y="0">M-T</text>
<text font-size="32" textLength="31.77" lengthAdjust="spacingAndGlyphs" transform="translate(2087.20 959.10) rotate(90)" x="-0.93" y="0">(°)</text>
</svg>
</body></html>
